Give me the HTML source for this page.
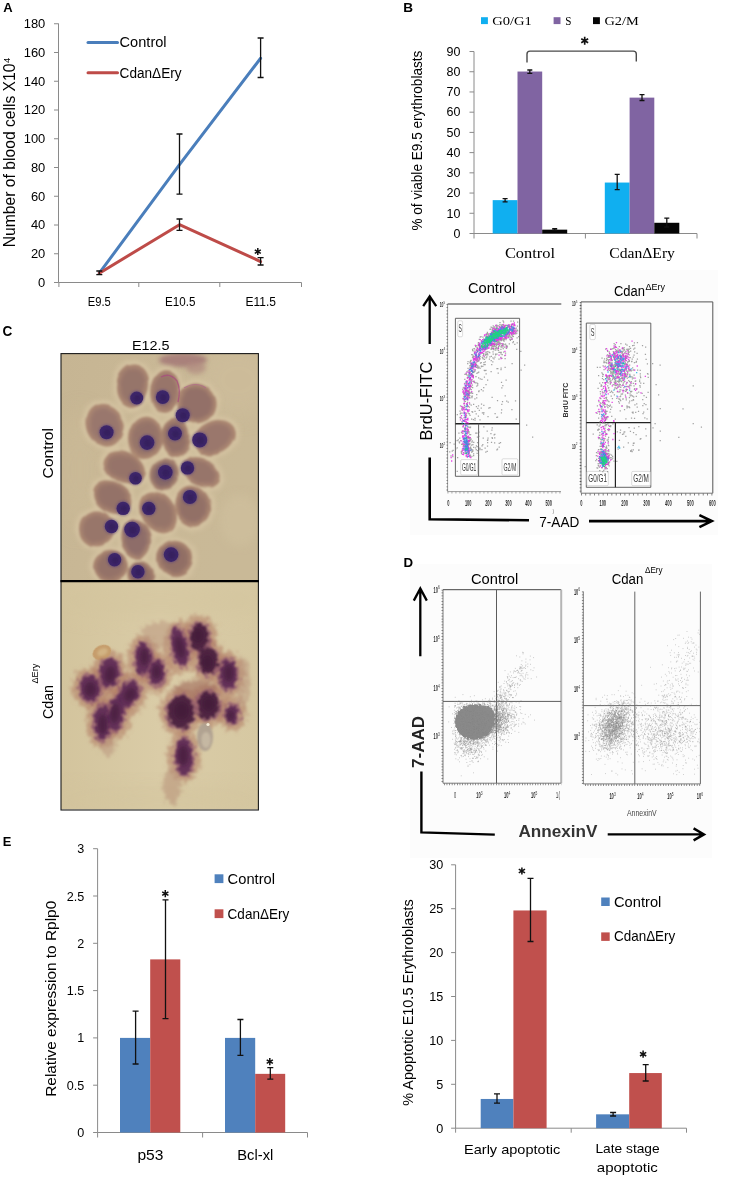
<!DOCTYPE html>
<html><head><meta charset="utf-8"><title>Figure</title>
<style>html,body{margin:0;padding:0;background:#fff}svg{display:block;will-change:transform}text{font-family:"Liberation Sans",sans-serif}.sf{font-family:"Liberation Serif",serif}</style>
</head><body>
<svg width="730" height="1181" viewBox="0 0 730 1181">
<rect x="0" y="0" width="730" height="1181" fill="#fff"/>
<g id="A">
<text x="3.2" y="12.4" font-size="13.4" font-weight="bold" textLength="9.4" lengthAdjust="spacingAndGlyphs">A</text>
<path d="M58.5 23.5V282.5H301.5" stroke="#8a8a8a" stroke-width="1" fill="none"/>
<text x="45.3" y="286.9" font-size="12.3" text-anchor="end" textLength="7.2" lengthAdjust="spacingAndGlyphs">0</text>
<text x="45.3" y="258.15" font-size="12.3" text-anchor="end" textLength="14.4" lengthAdjust="spacingAndGlyphs">20</text>
<text x="45.3" y="229.4" font-size="12.3" text-anchor="end" textLength="14.4" lengthAdjust="spacingAndGlyphs">40</text>
<text x="45.3" y="200.65" font-size="12.3" text-anchor="end" textLength="14.4" lengthAdjust="spacingAndGlyphs">60</text>
<text x="45.3" y="171.9" font-size="12.3" text-anchor="end" textLength="14.4" lengthAdjust="spacingAndGlyphs">80</text>
<text x="45.3" y="143.15" font-size="12.3" text-anchor="end" textLength="21.6" lengthAdjust="spacingAndGlyphs">100</text>
<text x="45.3" y="114.4" font-size="12.3" text-anchor="end" textLength="21.6" lengthAdjust="spacingAndGlyphs">120</text>
<text x="45.3" y="85.65" font-size="12.3" text-anchor="end" textLength="21.6" lengthAdjust="spacingAndGlyphs">140</text>
<text x="45.3" y="56.9" font-size="12.3" text-anchor="end" textLength="21.6" lengthAdjust="spacingAndGlyphs">160</text>
<text x="45.3" y="28.15" font-size="12.3" text-anchor="end" textLength="21.6" lengthAdjust="spacingAndGlyphs">180</text>
<path d="M54.0 282.50H58.5M54.0 253.75H58.5M54.0 225.00H58.5M54.0 196.25H58.5M54.0 167.50H58.5M54.0 138.75H58.5M54.0 110.00H58.5M54.0 81.25H58.5M54.0 52.50H58.5M54.0 23.75H58.5M58.9 282.5V287.0M138.8 282.5V287.0M219.8 282.5V287.0M301.5 282.5V287.0" stroke="#8a8a8a" stroke-width="1" fill="none"/>
<polyline points="99.3,273.16 179.5,164.62 260.6,58.25" fill="none" stroke="#4a7ebb" stroke-width="3" stroke-linejoin="round" stroke-linecap="round"/>
<polyline points="99.3,273.16 179.5,224.71 260.6,261.51" fill="none" stroke="#be4b48" stroke-width="3" stroke-linejoin="round" stroke-linecap="round"/>
<path d="M179.5 134V194.2M176.5 134H182.5M176.5 194.2H182.5" stroke="#111" stroke-width="1.3" fill="none"/>
<path d="M260.6 38V77.5M257.6 38H263.6M257.6 77.5H263.6" stroke="#111" stroke-width="1.3" fill="none"/>
<path d="M179.5 219V230.4M176.5 219H182.5M176.5 230.4H182.5" stroke="#111" stroke-width="1.3" fill="none"/>
<path d="M260.6 257.7V265M257.6 257.7H263.6M257.6 265H263.6" stroke="#111" stroke-width="1.3" fill="none"/>
<path d="M99.3 271V274.7M96.3 271H102.3M96.3 274.7H102.3" stroke="#111" stroke-width="1.3" fill="none"/>
<path d="M257.80 248.10L257.80 255.10M260.83 249.85L254.77 253.35M260.83 253.35L254.77 249.85" stroke="#111" stroke-width="1.5" fill="none" stroke-linecap="butt"/>
<line x1="88" y1="42.5" x2="117.5" y2="42.5" stroke="#4a7ebb" stroke-width="3" stroke-linecap="round"/>
<line x1="88" y1="72.7" x2="117.5" y2="72.7" stroke="#be4b48" stroke-width="3" stroke-linecap="round"/>
<text x="119.6" y="47.2" font-size="14" textLength="47" lengthAdjust="spacingAndGlyphs">Control</text>
<text x="119.6" y="77.6" font-size="14" textLength="62" lengthAdjust="spacingAndGlyphs">CdanΔEry</text>
<text x="87.8" y="305.8" font-size="13.2" textLength="23" lengthAdjust="spacingAndGlyphs">E9.5</text>
<text x="165" y="305.8" font-size="13.2" textLength="30.4" lengthAdjust="spacingAndGlyphs">E10.5</text>
<text x="245.5" y="305.8" font-size="13.2" textLength="30.5" lengthAdjust="spacingAndGlyphs">E11.5</text>
<text transform="translate(15.2 247.2) rotate(-90)" font-size="15.6" textLength="183.7" lengthAdjust="spacingAndGlyphs">Number of blood cells X10</text>
<text transform="translate(9.7 63) rotate(-90)" font-size="9.6" textLength="5.3" lengthAdjust="spacingAndGlyphs">4</text>
</g>
<g id="B">
<text x="403.2" y="12.4" font-size="13.4" font-weight="bold" textLength="9.8" lengthAdjust="spacingAndGlyphs">B</text>
<path d="M474 51.5V233.5H697" stroke="#8a8a8a" stroke-width="1" fill="none"/>
<text x="460.4" y="237.8" font-size="12.8" text-anchor="end" textLength="6.95" lengthAdjust="spacingAndGlyphs">0</text>
<text x="460.4" y="217.58" font-size="12.8" text-anchor="end" textLength="13.9" lengthAdjust="spacingAndGlyphs">10</text>
<text x="460.4" y="197.36" font-size="12.8" text-anchor="end" textLength="13.9" lengthAdjust="spacingAndGlyphs">20</text>
<text x="460.4" y="177.14" font-size="12.8" text-anchor="end" textLength="13.9" lengthAdjust="spacingAndGlyphs">30</text>
<text x="460.4" y="156.92" font-size="12.8" text-anchor="end" textLength="13.9" lengthAdjust="spacingAndGlyphs">40</text>
<text x="460.4" y="136.7" font-size="12.8" text-anchor="end" textLength="13.9" lengthAdjust="spacingAndGlyphs">50</text>
<text x="460.4" y="116.48" font-size="12.8" text-anchor="end" textLength="13.9" lengthAdjust="spacingAndGlyphs">60</text>
<text x="460.4" y="96.26" font-size="12.8" text-anchor="end" textLength="13.9" lengthAdjust="spacingAndGlyphs">70</text>
<text x="460.4" y="76.04" font-size="12.8" text-anchor="end" textLength="13.9" lengthAdjust="spacingAndGlyphs">80</text>
<text x="460.4" y="55.82" font-size="12.8" text-anchor="end" textLength="13.9" lengthAdjust="spacingAndGlyphs">90</text>
<path d="M469.5 233.50H474M469.5 213.28H474M469.5 193.06H474M469.5 172.84H474M469.5 152.62H474M469.5 132.40H474M469.5 112.18H474M469.5 91.96H474M469.5 71.74H474M469.5 51.52H474M474 233.5V238.5M585.4 233.5V238.5M697 233.5V238.5" stroke="#8a8a8a" stroke-width="1" fill="none"/>
<rect x="492.7" y="200.14" width="24.8" height="33.36" fill="#10aff0"/>
<rect x="517.5" y="71.54" width="24.7" height="161.96" fill="#8064a2"/>
<rect x="542.2" y="229.66" width="25.0" height="3.84" fill="#050505"/>
<rect x="604.8" y="182.55" width="24.8" height="50.95" fill="#10aff0"/>
<rect x="629.6" y="97.62" width="24.7" height="135.88" fill="#8064a2"/>
<rect x="654.3" y="222.78" width="25.0" height="10.72" fill="#050505"/>
<path d="M505.1 198.6V201.8M502.6 198.6H507.6M502.6 201.8H507.6" stroke="#111" stroke-width="1.3" fill="none"/>
<path d="M529.8 70.0V73.4M527.3 70.0H532.3M527.3 73.4H532.3" stroke="#111" stroke-width="1.3" fill="none"/>
<path d="M554.7 228.6V230.2M552.2 228.6H557.2M552.2 230.2H557.2" stroke="#111" stroke-width="1.3" fill="none"/>
<path d="M617.2 174.4V189.7M614.7 174.4H619.7M614.7 189.7H619.7" stroke="#111" stroke-width="1.3" fill="none"/>
<path d="M642 94.6V100.5M639.5 94.6H644.5M639.5 100.5H644.5" stroke="#111" stroke-width="1.3" fill="none"/>
<path d="M666.8 218.2V227.0M664.3 218.2H669.3M664.3 227.0H669.3" stroke="#111" stroke-width="1.3" fill="none"/>
<path d="M527 62.5V54Q527 51.1 530 51.1H633.3Q636.3 51.1 636.3 54V61.6" stroke="#4a4a4a" stroke-width="1.4" fill="none"/>
<path d="M584.70 36.80L584.70 44.80M588.16 38.80L581.24 42.80M588.16 42.80L581.24 38.80" stroke="#111" stroke-width="1.65" fill="none" stroke-linecap="butt"/>
<rect x="481" y="17.2" width="6.9" height="6.9" fill="#10aff0"/>
<rect x="553.6" y="17.2" width="6.9" height="6.9" fill="#8064a2"/>
<rect x="593" y="17.2" width="6.9" height="6.9" fill="#050505"/>
<text x="492.2" y="24.8" font-size="12.6" class="sf" textLength="39.7" lengthAdjust="spacingAndGlyphs">G0/G1</text>
<text x="565.3" y="24.8" font-size="12.6" class="sf" textLength="6.2" lengthAdjust="spacingAndGlyphs">S</text>
<text x="604.5" y="24.8" font-size="12.6" class="sf" textLength="34.3" lengthAdjust="spacingAndGlyphs">G2/M</text>
<text x="504.9" y="257.6" font-size="15.4" class="sf" textLength="50.2" lengthAdjust="spacingAndGlyphs">Control</text>
<text x="609.3" y="257.6" font-size="15.4" class="sf" textLength="65.6" lengthAdjust="spacingAndGlyphs">CdanΔEry</text>
<text transform="translate(422.3 230.6) rotate(-90)" font-size="14.2" textLength="180" lengthAdjust="spacingAndGlyphs">% of viable E9.5 erythroblasts</text>
</g>
<g id="E">
<text x="2.8" y="845.7" font-size="13.4" font-weight="bold" textLength="8.6" lengthAdjust="spacingAndGlyphs">E</text>
<path d="M97.6 848.7V1132.5H307.5" stroke="#8a8a8a" stroke-width="1" fill="none"/>
<text x="84.3" y="1137.0" font-size="12.6" text-anchor="end">0</text>
<text x="84.3" y="1089.7" font-size="12.6" text-anchor="end">0.5</text>
<text x="84.3" y="1042.4" font-size="12.6" text-anchor="end">1</text>
<text x="84.3" y="995.1" font-size="12.6" text-anchor="end">1.5</text>
<text x="84.3" y="947.8" font-size="12.6" text-anchor="end">2</text>
<text x="84.3" y="900.5" font-size="12.6" text-anchor="end">2.5</text>
<text x="84.3" y="853.2" font-size="12.6" text-anchor="end">3</text>
<path d="M93.1 1132.50H97.6M93.1 1085.20H97.6M93.1 1037.90H97.6M93.1 990.60H97.6M93.1 943.30H97.6M93.1 896.00H97.6M93.1 848.70H97.6M97.6 1132.5V1137.5M202.6 1132.5V1137.5M307.5 1132.5V1137.5" stroke="#8a8a8a" stroke-width="1" fill="none"/>
<rect x="120" y="1037.9" width="30.2" height="94.6" fill="#4f81bd"/>
<rect x="150.2" y="959.38" width="30.1" height="173.12" fill="#c0504d"/>
<rect x="225" y="1037.9" width="30.2" height="94.6" fill="#4f81bd"/>
<rect x="255.2" y="1073.85" width="30.0" height="58.65" fill="#c0504d"/>
<path d="M135.6 1011.2V1064M132.6 1011.2H138.6M132.6 1064H138.6" stroke="#111" stroke-width="1.3" fill="none"/>
<path d="M165.5 899.8V1018.7M162.5 899.8H168.5M162.5 1018.7H168.5" stroke="#111" stroke-width="1.3" fill="none"/>
<path d="M240.4 1019.5V1055.4M237.4 1019.5H243.4M237.4 1055.4H243.4" stroke="#111" stroke-width="1.3" fill="none"/>
<path d="M270.3 1067.7V1079.1M267.3 1067.7H273.3M267.3 1079.1H273.3" stroke="#111" stroke-width="1.3" fill="none"/>
<path d="M165.30 890.00L165.30 897.20M168.42 891.80L162.18 895.40M168.42 895.40L162.18 891.80" stroke="#111" stroke-width="1.5" fill="none" stroke-linecap="butt"/>
<path d="M269.80 1058.00L269.80 1065.20M272.92 1059.80L266.68 1063.40M272.92 1063.40L266.68 1059.80" stroke="#111" stroke-width="1.5" fill="none" stroke-linecap="butt"/>
<rect x="214.6" y="874.3" width="8.8" height="8.8" fill="#4f81bd"/>
<rect x="214.6" y="909.3" width="8.8" height="8.8" fill="#c0504d"/>
<text x="227.6" y="883.5" font-size="14.3" textLength="47.4" lengthAdjust="spacingAndGlyphs">Control</text>
<text x="227.6" y="918.5" font-size="14.3" textLength="61.7" lengthAdjust="spacingAndGlyphs">CdanΔEry</text>
<text x="137.4" y="1160.1" font-size="13.8" textLength="26" lengthAdjust="spacingAndGlyphs">p53</text>
<text x="237.3" y="1159.5" font-size="13.8" textLength="36" lengthAdjust="spacingAndGlyphs">Bcl-xl</text>
<text transform="translate(56 1096.8) rotate(-90)" font-size="15" textLength="196" lengthAdjust="spacingAndGlyphs">Relative expression to Rplp0</text>
</g>
<g id="Dc">
<path d="M455.6 864.8V1128.2H686.5" stroke="#8a8a8a" stroke-width="1" fill="none"/>
<text x="443.2" y="1132.6" font-size="12.6" text-anchor="end">0</text>
<text x="443.2" y="1088.7" font-size="12.6" text-anchor="end">5</text>
<text x="443.2" y="1044.8" font-size="12.6" text-anchor="end">10</text>
<text x="443.2" y="1000.9" font-size="12.6" text-anchor="end">15</text>
<text x="443.2" y="957.0" font-size="12.6" text-anchor="end">20</text>
<text x="443.2" y="913.1" font-size="12.6" text-anchor="end">25</text>
<text x="443.2" y="869.2" font-size="12.6" text-anchor="end">30</text>
<path d="M451.1 1128.20H455.6M451.1 1084.30H455.6M451.1 1040.40H455.6M451.1 996.50H455.6M451.1 952.60H455.6M451.1 908.70H455.6M451.1 864.80H455.6M455.6 1128.2V1132.7M571.2 1128.2V1132.7M686.5 1128.2V1132.7" stroke="#8a8a8a" stroke-width="1" fill="none"/>
<rect x="480.7" y="1098.96" width="32.7" height="29.24" fill="#4f81bd"/>
<rect x="513.4" y="910.46" width="33.2" height="217.74" fill="#c0504d"/>
<rect x="596.1" y="1114.33" width="33.1" height="13.87" fill="#4f81bd"/>
<rect x="629.2" y="1073.06" width="32.6" height="55.14" fill="#c0504d"/>
<path d="M497 1093.8V1103.2M494 1093.8H500M494 1103.2H500" stroke="#111" stroke-width="1.3" fill="none"/>
<path d="M530.5 878.4V941.5M527.5 878.4H533.5M527.5 941.5H533.5" stroke="#111" stroke-width="1.3" fill="none"/>
<path d="M613.1 1112.5V1116M610.1 1112.5H616.1M610.1 1116H616.1" stroke="#111" stroke-width="1.3" fill="none"/>
<path d="M645.7 1064.7V1081M642.7 1064.7H648.7M642.7 1081H648.7" stroke="#111" stroke-width="1.3" fill="none"/>
<path d="M521.90 867.40L521.90 874.60M525.02 869.20L518.78 872.80M525.02 872.80L518.78 869.20" stroke="#111" stroke-width="1.5" fill="none" stroke-linecap="butt"/>
<path d="M643.10 1050.60L643.10 1057.80M646.22 1052.40L639.98 1056.00M646.22 1056.00L639.98 1052.40" stroke="#111" stroke-width="1.5" fill="none" stroke-linecap="butt"/>
<rect x="601.2" y="897.5" width="8.5" height="8.5" fill="#4f81bd"/>
<rect x="601.2" y="932.4" width="8.5" height="8.5" fill="#c0504d"/>
<text x="614" y="906.5" font-size="14.3" textLength="47.3" lengthAdjust="spacingAndGlyphs">Control</text>
<text x="614" y="940.5" font-size="14.3" textLength="61.3" lengthAdjust="spacingAndGlyphs">CdanΔEry</text>
<text x="464" y="1153.5" font-size="13.6" textLength="96.2" lengthAdjust="spacingAndGlyphs">Early apoptotic</text>
<text x="595.4" y="1153.3" font-size="13.6" textLength="64.3" lengthAdjust="spacingAndGlyphs">Late stage</text>
<text x="596.8" y="1172.4" font-size="13.6" textLength="61" lengthAdjust="spacingAndGlyphs">apoptotic</text>
<text transform="translate(413 1105.7) rotate(-90)" font-size="14.6" textLength="206.5" lengthAdjust="spacingAndGlyphs">% Apoptotic E10.5 Erythroblasts</text>
</g>
<g id="Bf">
<rect x="410" y="270" width="308" height="265" fill="#fcfcfc"/>
<text x="468" y="292.8" font-size="14" textLength="47.2" lengthAdjust="spacingAndGlyphs">Control</text>
<text x="614" y="296.1" font-size="14" textLength="31" lengthAdjust="spacingAndGlyphs">Cdan</text>
<text x="645.4" y="289.8" font-size="8.8" textLength="19.6" lengthAdjust="spacingAndGlyphs">ΔEry</text>
<text transform="translate(431.6 440.6) rotate(-90)" font-size="16.2" textLength="79" lengthAdjust="spacingAndGlyphs">BrdU-FITC</text>
<path d="M429.7 344V297.2M423.2 306.2L429.7 296.4L436.2 306.2" stroke="#000" stroke-width="2.3" fill="none"/>
<path d="M429.7 457.4V519.2L529 520.3" stroke="#000" stroke-width="2.6" fill="none" stroke-linejoin="miter"/>
<text x="539.3" y="526.8" font-size="14" textLength="40" lengthAdjust="spacingAndGlyphs">7-AAD</text>
<path d="M589 521.1H711M699.4 515.1L711.8 521.1L699.4 527.1" stroke="#000" stroke-width="2.6" fill="none"/>
<text x="552.5" y="513" font-size="5" fill="#777">)</text>
<path d="M447.6 304H561.3" stroke="#333" stroke-width="1" fill="none"/>
<path d="M447.6 304V491.6H561" stroke="#9a9a9a" stroke-width="1" fill="none"/>
<path d="M447.2 304V491.6" stroke="#666" stroke-width="1.4" stroke-dasharray="0.8 2.4" fill="none"/>
<path d="M447.6 492.6H561" stroke="#888" stroke-width="2" stroke-dasharray="0.7 3.3" fill="none"/>
<text x="439.7" y="307" font-size="8" font-weight="bold" fill="#333" textLength="3.8" lengthAdjust="spacingAndGlyphs">10</text>
<text x="443.6" y="303.6" font-size="4.4" fill="#333" textLength="1.7" lengthAdjust="spacingAndGlyphs">5</text>
<text x="439.7" y="353.8" font-size="8" font-weight="bold" fill="#333" textLength="3.8" lengthAdjust="spacingAndGlyphs">10</text>
<text x="443.6" y="350.4" font-size="4.4" fill="#333" textLength="1.7" lengthAdjust="spacingAndGlyphs">4</text>
<text x="439.7" y="401" font-size="8" font-weight="bold" fill="#333" textLength="3.8" lengthAdjust="spacingAndGlyphs">10</text>
<text x="443.6" y="397.6" font-size="4.4" fill="#333" textLength="1.7" lengthAdjust="spacingAndGlyphs">3</text>
<text x="439.7" y="448" font-size="8" font-weight="bold" fill="#333" textLength="3.8" lengthAdjust="spacingAndGlyphs">10</text>
<text x="443.6" y="444.6" font-size="4.4" fill="#333" textLength="1.7" lengthAdjust="spacingAndGlyphs">2</text>
<text x="447.2" y="505.6" font-size="9.2" font-weight="bold" fill="#333" textLength="2.2" lengthAdjust="spacingAndGlyphs">0</text>
<text x="464.9" y="505.6" font-size="9.2" font-weight="bold" fill="#333" textLength="6.5" lengthAdjust="spacingAndGlyphs">100</text>
<text x="485.2" y="505.6" font-size="9.2" font-weight="bold" fill="#333" textLength="6.5" lengthAdjust="spacingAndGlyphs">200</text>
<text x="505.2" y="505.6" font-size="9.2" font-weight="bold" fill="#333" textLength="6.5" lengthAdjust="spacingAndGlyphs">300</text>
<text x="525.2" y="505.6" font-size="9.2" font-weight="bold" fill="#333" textLength="6.5" lengthAdjust="spacingAndGlyphs">400</text>
<text x="545.4" y="505.6" font-size="9.2" font-weight="bold" fill="#333" textLength="6.5" lengthAdjust="spacingAndGlyphs">500</text>
<path d="M455.4 318.3H519.6V476.3H455.4Z" stroke="#555" stroke-width="0.9" fill="none"/>
<path d="M455.4 423.7H519.6" stroke="#222" stroke-width="1.4" fill="none"/>
<path d="M478.6 423.7V476.3" stroke="#555" stroke-width="0.9" fill="none"/>
<rect x="457.8" y="320.8" width="4.8" height="16" rx="1.4" fill="#fff" stroke="#c4c4c4" stroke-width="0.6"/>
<text x="458.6" y="332.4" font-size="10.8" fill="#383838" textLength="3.3" lengthAdjust="spacingAndGlyphs">S</text>
<rect x="460.7" y="459.6" width="16.8" height="15.4" rx="1.2" fill="#fff" stroke="#c4c4c4" stroke-width="0.6"/>
<text x="461.9" y="471.2" font-size="10.8" fill="#383838" textLength="14.4" lengthAdjust="spacingAndGlyphs">G0/G1</text>
<rect x="502" y="458.8" width="15.8" height="16.2" rx="1.2" fill="#fff" stroke="#c4c4c4" stroke-width="0.6"/>
<text x="503.5" y="470.8" font-size="10.8" fill="#383838" textLength="12.8" lengthAdjust="spacingAndGlyphs">G2/M</text>
<path d="M472.1 451.4h1.25M469.1 404.2h1.25M492.6 343.5h1.25M468.4 427.1h1.25M459.8 405.8h1.25M471.8 385.2h1.25M465.7 453.3h1.25M467.3 429.4h1.25M468.2 433.0h1.25M473.8 358.8h1.25M510.4 321.0h1.25M470.5 374.8h1.25M508.7 343.8h1.25M498.3 329.2h1.25M472.6 376.2h1.25M468.5 393.8h1.25M471.3 442.1h1.25M506.0 335.0h1.25M500.7 325.4h1.25M487.6 342.3h1.25M511.3 327.0h1.25M463.6 399.3h1.25M503.1 338.7h1.25M470.9 386.9h1.25M467.6 393.3h1.25M474.4 411.4h1.25M502.9 340.7h1.25M476.3 433.2h1.25M462.9 393.1h1.25M467.7 393.6h1.25M516.6 342.9h1.25M516.2 333.2h1.25M461.6 444.0h1.25M475.7 360.1h1.25M473.0 453.8h1.25M467.4 371.2h1.25M472.3 363.4h1.25M520.2 351.4h1.25M477.3 367.1h1.25M496.0 338.7h1.25M501.9 331.0h1.25M512.8 341.6h1.25M495.6 326.2h1.25M475.6 449.6h1.25M507.4 334.9h1.25M466.6 456.7h1.25M502.0 328.2h1.25M494.3 329.5h1.25M510.9 333.4h1.25M468.8 377.8h1.25M502.3 335.5h1.25M471.9 349.4h1.25M492.3 346.3h1.25M495.5 327.0h1.25M470.0 385.9h1.25M488.2 351.9h1.25M467.2 391.4h1.25M516.5 337.9h1.25M469.4 440.4h1.25M510.2 330.1h1.25M474.4 418.3h1.25M469.2 434.6h1.25M487.5 338.4h1.25M476.5 453.3h1.25M469.9 365.3h1.25M497.4 330.2h1.25M462.1 389.3h1.25M479.5 337.1h1.25M472.9 366.9h1.25M480.6 362.5h1.25M509.3 335.1h1.25M501.5 331.7h1.25M468.4 440.4h1.25M466.2 371.8h1.25M478.6 355.3h1.25M470.6 392.7h1.25M509.3 332.7h1.25M507.3 334.6h1.25M476.1 358.2h1.25M493.1 349.7h1.25M480.4 336.6h1.25M503.1 327.4h1.25M467.8 437.7h1.25M460.6 451.8h1.25M473.3 356.5h1.25M493.8 331.2h1.25M486.2 353.1h1.25M500.2 339.9h1.25M465.4 413.2h1.25M469.4 362.0h1.25M465.9 447.4h1.25M467.4 385.0h1.25M490.9 345.7h1.25M501.4 339.6h1.25M485.4 341.2h1.25M464.9 430.1h1.25M501.8 336.4h1.25M470.2 360.9h1.25M513.4 330.7h1.25M467.9 391.7h1.25M474.7 382.8h1.25M467.2 409.9h1.25M492.8 346.6h1.25M506.7 333.0h1.25M496.6 329.9h1.25M493.5 345.6h1.25M467.0 378.1h1.25M465.1 426.1h1.25M458.9 442.9h1.25M504.8 335.4h1.25M511.9 332.5h1.25M473.1 442.4h1.25M469.6 450.5h1.25M487.4 336.2h1.25M509.5 336.8h1.25M465.5 442.1h1.25M475.4 376.5h1.25M510.4 326.3h1.25M479.4 368.3h1.25M501.9 336.7h1.25M466.0 438.1h1.25M495.7 330.9h1.25M472.0 393.4h1.25M459.4 417.6h1.25M494.7 340.9h1.25M504.9 330.8h1.25M493.3 327.3h1.25M512.3 342.7h1.25M500.4 338.1h1.25M461.8 408.1h1.25M465.0 433.9h1.25M489.1 344.7h1.25M491.2 333.8h1.25M498.1 333.0h1.25M515.7 330.2h1.25M489.7 345.2h1.25M499.7 334.9h1.25M461.1 451.4h1.25M476.2 345.5h1.25M496.4 337.2h1.25M492.0 345.8h1.25M470.0 447.8h1.25M493.7 331.2h1.25M486.9 336.5h1.25M475.8 445.9h1.25M463.4 391.0h1.25M499.6 352.3h1.25M469.5 384.0h1.25M510.1 337.1h1.25M492.9 344.0h1.25M488.3 335.7h1.25M470.0 447.1h1.25M497.9 346.5h1.25M514.2 344.3h1.25M490.8 344.6h1.25M500.7 340.6h1.25M500.8 336.4h1.25M466.5 396.8h1.25M510.4 332.6h1.25M476.6 357.1h1.25M514.1 331.1h1.25M486.6 451.3h1.25M492.1 336.7h1.25M469.9 427.0h1.25M465.9 415.7h1.25M467.4 412.9h1.25M465.0 446.3h1.25M477.2 365.8h1.25M460.6 418.4h1.25M482.5 347.5h1.25M461.4 413.1h1.25M462.7 439.0h1.25M461.4 421.7h1.25M498.3 352.3h1.25M464.3 374.3h1.25M493.3 332.2h1.25M513.1 334.4h1.25M495.6 330.5h1.25M478.7 357.4h1.25M495.6 332.0h1.25M497.0 338.6h1.25M491.6 340.4h1.25M489.9 329.2h1.25M498.4 359.0h1.25M499.4 332.4h1.25M469.6 440.4h1.25M493.4 336.5h1.25M473.9 348.8h1.25M465.0 374.0h1.25M486.5 347.0h1.25M508.3 332.7h1.25M473.5 371.1h1.25M469.5 427.6h1.25M493.7 345.0h1.25M489.8 339.9h1.25M470.2 371.5h1.25M476.8 450.6h1.25M477.7 356.1h1.25M495.7 344.4h1.25M492.4 334.6h1.25M469.1 441.6h1.25M491.9 329.1h1.25M493.3 340.5h1.25M463.3 396.6h1.25M476.5 347.4h1.25M464.1 446.6h1.25M467.7 453.9h1.25M461.8 407.2h1.25M479.6 358.9h1.25M503.5 341.2h1.25M461.9 410.2h1.25M464.7 449.8h1.25M480.8 341.2h1.25M470.5 366.3h1.25M493.8 330.8h1.25M472.8 375.6h1.25M486.8 333.6h1.25M463.9 405.4h1.25M485.1 354.7h1.25M464.4 383.3h1.25M497.0 325.8h1.25M500.5 334.4h1.25M473.0 356.1h1.25M469.8 369.0h1.25M503.6 339.6h1.25M504.0 336.3h1.25M502.4 335.4h1.25M468.0 396.2h1.25M484.8 354.1h1.25M465.1 391.2h1.25M471.9 374.4h1.25M477.9 405.8h1.25M499.4 343.8h1.25M508.5 326.6h1.25M469.3 443.7h1.25M480.8 366.2h1.25M511.1 325.4h1.25M472.0 387.7h1.25M502.0 345.2h1.25M468.3 432.9h1.25M477.9 455.4h1.25M496.1 325.1h1.25M478.8 345.2h1.25M512.5 324.0h1.25M510.8 327.8h1.25M496.0 328.4h1.25M512.3 328.7h1.25M502.9 339.6h1.25M469.4 415.4h1.25M492.9 330.9h1.25M508.6 335.4h1.25M511.7 339.2h1.25M517.1 330.9h1.25M471.9 375.1h1.25M478.2 436.4h1.25M495.1 341.1h1.25M466.2 394.2h1.25M490.9 337.8h1.25M508.7 336.8h1.25M471.3 397.5h1.25M501.8 331.8h1.25M468.3 431.5h1.25M514.0 331.5h1.25M500.1 332.9h1.25M475.8 406.5h1.25M481.5 353.3h1.25M469.4 393.4h1.25M477.7 344.1h1.25M460.8 432.7h1.25M489.8 345.3h1.25M499.2 343.1h1.25M496.9 344.7h1.25M471.7 396.1h1.25M476.1 362.0h1.25M508.8 334.3h1.25M497.6 342.9h1.25M511.0 331.3h1.25M482.3 337.1h1.25M474.6 370.9h1.25M480.0 350.2h1.25M465.9 409.4h1.25M513.0 331.7h1.25M483.0 353.5h1.25M475.3 376.7h1.25M491.7 344.3h1.25M500.6 352.3h1.25M472.4 356.3h1.25M498.0 338.7h1.25M491.9 336.5h1.25M476.3 373.3h1.25M478.7 355.1h1.25M466.7 404.7h1.25M499.8 343.2h1.25M484.2 370.5h1.25M472.3 444.7h1.25M477.2 360.1h1.25M497.5 336.9h1.25M487.8 344.7h1.25M458.3 433.1h1.25M468.8 392.9h1.25M474.6 366.6h1.25M471.6 365.3h1.25M512.9 321.0h1.25M475.9 355.4h1.25M487.0 341.7h1.25M501.7 324.6h1.25M501.2 326.9h1.25M483.3 364.5h1.25M491.7 330.4h1.25M486.2 348.1h1.25M493.5 335.4h1.25M464.9 442.5h1.25M473.5 351.1h1.25M482.6 438.0h1.25M466.6 392.1h1.25M483.7 370.4h1.25M486.3 347.6h1.25M465.4 423.3h1.25M483.2 338.8h1.25M471.0 452.1h1.25M467.4 375.9h1.25M461.0 444.4h1.25M467.4 361.5h1.25M482.6 358.9h1.25M471.1 354.7h1.25M489.6 345.3h1.25M460.2 440.7h1.25M499.7 338.4h1.25M488.8 340.6h1.25M461.9 444.4h1.25M512.1 330.3h1.25M478.0 360.0h1.25M492.3 357.9h1.25M503.7 332.6h1.25M471.0 367.7h1.25M485.6 342.7h1.25M499.7 327.7h1.25M486.6 337.3h1.25M505.8 325.4h1.25M467.0 431.9h1.25M505.7 348.4h1.25M477.1 361.3h1.25M504.9 353.0h1.25M466.5 393.8h1.25M505.9 331.4h1.25M474.9 447.8h1.25M501.8 338.8h1.25M497.8 342.7h1.25M496.4 349.9h1.25M471.9 357.3h1.25M472.3 450.2h1.25M467.9 442.1h1.25M473.0 455.7h1.25M473.3 369.6h1.25M479.6 352.4h1.25M480.8 366.7h1.25M500.3 346.8h1.25M489.0 339.4h1.25M495.6 348.3h1.25M474.0 382.3h1.25M485.5 347.6h1.25M470.0 434.7h1.25M482.2 345.3h1.25M468.5 389.9h1.25M495.7 330.3h1.25M508.7 325.4h1.25M491.4 335.6h1.25M464.8 401.3h1.25M495.7 331.5h1.25M502.6 336.1h1.25M481.3 349.4h1.25M470.2 380.8h1.25M494.9 332.6h1.25M469.0 443.9h1.25M503.8 326.4h1.25M467.4 368.3h1.25M509.8 340.4h1.25M487.9 343.2h1.25M494.9 354.2h1.25M494.9 328.9h1.25M506.5 332.5h1.25M481.8 349.3h1.25M495.8 345.6h1.25M494.3 339.7h1.25M500.1 339.6h1.25M516.7 330.1h1.25M489.0 343.2h1.25M498.3 330.9h1.25M490.9 335.2h1.25M512.8 329.7h1.25M462.4 398.8h1.25M501.3 340.2h1.25M502.8 335.3h1.25M506.8 346.9h1.25M492.1 348.5h1.25M497.6 347.7h1.25M466.1 383.4h1.25M493.1 349.3h1.25M501.5 329.7h1.25M511.6 329.0h1.25M463.9 445.0h1.25M479.0 344.9h1.25M491.7 346.1h1.25M469.4 362.9h1.25M465.3 417.3h1.25M468.8 413.9h1.25M471.4 379.7h1.25M470.7 374.3h1.25M467.9 440.7h1.25M478.6 358.5h1.25M510.5 333.0h1.25M508.7 331.6h1.25M498.5 335.1h1.25M507.3 327.2h1.25M506.5 325.4h1.25M468.9 371.9h1.25M496.1 334.9h1.25M482.5 341.9h1.25M483.8 341.3h1.25M488.8 359.0h1.25M493.2 339.1h1.25M475.0 365.7h1.25M493.8 326.8h1.25M471.0 419.1h1.25M487.4 333.6h1.25M485.8 334.2h1.25M504.0 347.2h1.25M467.4 447.8h1.25M504.1 325.7h1.25M465.3 415.1h1.25M495.1 343.8h1.25M466.9 446.8h1.25M466.1 403.9h1.25M491.9 346.2h1.25M469.9 448.1h1.25M494.5 344.0h1.25M475.0 346.5h1.25M469.8 361.3h1.25M467.6 406.2h1.25M463.6 445.9h1.25M491.2 336.9h1.25M468.5 453.2h1.25M485.5 357.8h1.25M486.6 431.0h1.25M464.2 430.5h1.25M501.6 354.7h1.25M500.9 345.7h1.25M484.9 349.4h1.25M500.3 349.3h1.25M509.1 339.0h1.25M467.5 390.5h1.25M489.8 342.6h1.25M479.3 449.6h1.25M471.3 449.5h1.25M495.2 346.8h1.25M502.5 346.9h1.25M468.6 424.0h1.25M470.6 405.1h1.25M476.8 359.2h1.25M498.1 325.9h1.25M496.4 340.6h1.25M464.1 453.2h1.25M509.7 329.1h1.25M476.3 365.5h1.25M470.7 382.2h1.25M478.5 367.2h1.25M490.4 334.8h1.25M470.5 383.0h1.25M500.2 357.3h1.25M496.2 332.6h1.25M464.2 388.8h1.25M512.5 332.8h1.25M463.5 417.5h1.25M512.2 324.2h1.25M483.8 377.1h1.25M486.8 332.4h1.25M485.4 335.7h1.25M486.6 333.3h1.25M504.6 336.5h1.25M510.9 337.3h1.25M486.3 349.1h1.25M463.9 407.7h1.25M469.4 397.8h1.25M472.8 366.1h1.25M497.2 348.3h1.25M491.4 344.8h1.25M465.8 390.9h1.25M514.2 328.5h1.25M491.6 333.2h1.25M491.4 345.9h1.25M497.6 331.1h1.25M470.3 392.3h1.25M477.4 372.7h1.25M511.5 334.6h1.25M464.4 446.1h1.25M489.7 334.9h1.25M477.8 342.5h1.25M466.1 390.8h1.25M468.5 390.6h1.25M476.8 437.0h1.25M469.2 395.5h1.25M494.6 342.2h1.25M499.1 344.2h1.25M462.4 426.9h1.25M497.6 339.0h1.25M515.7 328.0h1.25M467.6 395.7h1.25M476.6 446.5h1.25M467.2 399.8h1.25M474.2 366.6h1.25M491.4 343.9h1.25M498.9 335.4h1.25M466.2 374.9h1.25M503.4 344.7h1.25M469.8 448.3h1.25M486.5 347.6h1.25M490.8 356.3h1.25M467.6 456.3h1.25M491.6 338.5h1.25M486.2 356.9h1.25M468.2 438.4h1.25M485.5 373.8h1.25M469.2 384.9h1.25M500.9 325.1h1.25M503.0 322.0h1.25M501.8 336.2h1.25M481.3 449.5h1.25M471.3 451.8h1.25M493.4 343.0h1.25M490.5 345.3h1.25M469.3 450.7h1.25M459.4 411.0h1.25M474.4 420.1h1.25M496.5 341.9h1.25M463.7 439.3h1.25M463.4 453.0h1.25M464.1 434.4h1.25M463.7 401.1h1.25M485.1 352.1h1.25M489.7 343.3h1.25M456.7 414.7h1.25M467.9 377.3h1.25M474.3 398.9h1.25M472.8 377.2h1.25M491.8 348.8h1.25M490.5 327.2h1.25M460.9 453.2h1.25M476.1 397.8h1.25M496.4 342.7h1.25M471.6 440.8h1.25M467.8 451.3h1.25M499.5 344.2h1.25M511.6 330.7h1.25M512.2 336.5h1.25M496.8 342.4h1.25M499.4 331.6h1.25M492.4 343.3h1.25M504.7 328.3h1.25M506.0 348.0h1.25M477.1 385.1h1.25M465.2 416.2h1.25M471.2 396.3h1.25M499.4 322.5h1.25M477.4 368.4h1.25M509.0 330.8h1.25M499.7 338.3h1.25M496.3 343.3h1.25M500.7 339.5h1.25M505.4 327.9h1.25M483.0 354.5h1.25M497.8 341.1h1.25M472.2 375.8h1.25M504.5 336.9h1.25M492.0 332.1h1.25M505.0 338.6h1.25M463.6 387.3h1.25M463.5 446.6h1.25M457.7 439.9h1.25M493.5 341.1h1.25M467.7 446.7h1.25M486.5 334.6h1.25M466.4 451.2h1.25M516.1 349.4h1.25M470.8 445.0h1.25M496.8 340.8h1.25M498.6 341.8h1.25M483.8 356.8h1.25M482.6 355.5h1.25M463.5 396.0h1.25M486.9 353.9h1.25M501.5 343.9h1.25M474.7 363.0h1.25M470.2 360.6h1.25M497.2 338.2h1.25M460.0 413.1h1.25M495.2 338.8h1.25M469.0 444.6h1.25M463.2 394.4h1.25M458.6 441.8h1.25M466.5 395.6h1.25M472.0 350.6h1.25M503.8 339.4h1.25M464.6 396.4h1.25M482.7 348.8h1.25M464.7 419.3h1.25M475.4 433.2h1.25M478.0 345.1h1.25M493.7 337.5h1.25M490.7 348.2h1.25M493.8 330.7h1.25M465.5 390.8h1.25M482.2 358.2h1.25M479.5 356.7h1.25M497.0 344.4h1.25M500.3 340.5h1.25M507.4 330.8h1.25M469.7 388.8h1.25M489.4 329.3h1.25M472.5 357.8h1.25M485.3 370.3h1.25M496.9 342.1h1.25M472.8 419.5h1.25M508.7 328.2h1.25M468.6 451.7h1.25M469.3 439.0h1.25M476.0 367.4h1.25M459.2 438.1h1.25M471.2 393.2h1.25M497.8 348.2h1.25M494.5 330.6h1.25M491.3 347.4h1.25M505.8 346.4h1.25M511.1 333.1h1.25M473.4 356.6h1.25M511.6 335.4h1.25M475.1 433.0h1.25M498.2 340.3h1.25M478.1 361.1h1.25M466.2 390.2h1.25M472.3 381.3h1.25M488.0 334.9h1.25M494.7 348.7h1.25M483.5 349.8h1.25M463.9 392.8h1.25M505.1 337.5h1.25M492.2 361.8h1.25M485.8 337.4h1.25M498.9 345.6h1.25M495.8 347.6h1.25M464.5 442.0h1.25M469.7 455.2h1.25M504.8 337.9h1.25M471.5 364.0h1.25M491.1 333.7h1.25M470.6 448.9h1.25M502.9 343.8h1.25M508.0 332.3h1.25M475.0 363.8h1.25M484.5 364.6h1.25M463.6 444.0h1.25M512.6 323.9h1.25M476.9 442.5h1.25M474.0 362.1h1.25M469.2 437.9h1.25M506.9 334.6h1.25M469.7 369.1h1.25M467.4 446.0h1.25M466.1 395.5h1.25M506.4 345.8h1.25M489.1 352.7h1.25M518.0 336.6h1.25M491.6 334.2h1.25M476.8 348.8h1.25M478.7 339.4h1.25M483.3 362.5h1.25M461.1 408.8h1.25M499.3 336.2h1.25M484.9 344.4h1.25M490.4 345.4h1.25M495.7 341.2h1.25M500.7 335.9h1.25M512.9 325.9h1.25M462.2 431.1h1.25M478.7 346.7h1.25M470.7 389.6h1.25M514.0 331.1h1.25M495.5 330.1h1.25M492.2 337.6h1.25M503.8 327.3h1.25M471.3 456.4h1.25M516.8 326.2h1.25M465.6 382.4h1.25M502.7 333.6h1.25M473.7 353.0h1.25M498.7 343.0h1.25M499.3 324.6h1.25M467.0 430.8h1.25M467.5 431.3h1.25M489.2 336.7h1.25M475.7 360.3h1.25M465.8 374.1h1.25M488.7 343.8h1.25M489.9 339.5h1.25M465.4 425.5h1.25M483.3 346.0h1.25M505.5 345.3h1.25M502.6 325.7h1.25M478.0 377.8h1.25M492.9 348.7h1.25M512.9 327.5h1.25M504.5 358.7h1.25M482.2 366.4h1.25M459.6 417.4h1.25M469.5 367.7h1.25M497.9 350.3h1.25M493.5 328.3h1.25M512.3 331.4h1.25M498.2 338.8h1.25M469.7 374.8h1.25M466.0 450.6h1.25M462.3 430.6h1.25M495.2 340.9h1.25M487.1 354.9h1.25M479.6 356.5h1.25M486.7 345.8h1.25M496.3 354.0h1.25M478.1 344.8h1.25M478.1 391.4h1.25M506.0 336.7h1.25M466.4 443.1h1.25M490.3 345.2h1.25M462.9 445.3h1.25M501.2 347.0h1.25M459.6 413.8h1.25M503.7 335.7h1.25M471.1 449.9h1.25M478.3 432.0h1.25M500.9 327.6h1.25M484.0 345.3h1.25M467.1 363.7h1.25M464.0 421.4h1.25M485.4 384.6h1.25M490.5 349.3h1.25M488.7 340.2h1.25M464.5 427.3h1.25M508.0 326.9h1.25M482.3 341.2h1.25M498.7 345.9h1.25M508.7 324.8h1.25M507.4 336.3h1.25M512.8 336.3h1.25M471.5 368.6h1.25M485.0 355.1h1.25M478.8 347.5h1.25M504.2 334.6h1.25M472.6 364.6h1.25M500.4 353.8h1.25M466.7 385.1h1.25M476.8 350.5h1.25M473.4 348.7h1.25M463.5 403.4h1.25M481.4 445.8h1.25M498.2 339.4h1.25M468.0 374.9h1.25M478.2 345.4h1.25M496.8 342.5h1.25M473.4 381.0h1.25M510.4 339.4h1.25M467.6 444.5h1.25M469.6 456.4h1.25M466.6 397.1h1.25M481.7 357.3h1.25M470.4 364.4h1.25M513.1 333.4h1.25M491.5 327.5h1.25M464.2 379.3h1.25M494.0 337.1h1.25M460.9 453.6h1.25M515.2 333.9h1.25M492.0 337.9h1.25M468.6 392.2h1.25M465.2 436.1h1.25M479.9 363.1h1.25M465.5 442.2h1.25M468.7 407.2h1.25M471.5 374.7h1.25M468.9 373.3h1.25M492.6 325.9h1.25M484.9 346.7h1.25M483.9 348.9h1.25M473.1 447.4h1.25M492.6 354.0h1.25M469.2 379.6h1.25M484.8 339.7h1.25M468.0 427.0h1.25M476.1 394.7h1.25M491.6 329.5h1.25M493.4 358.9h1.25M501.0 333.7h1.25M508.4 330.3h1.25M462.7 387.8h1.25M483.3 362.6h1.25M471.0 445.2h1.25M494.8 331.8h1.25M495.3 341.3h1.25M510.6 324.9h1.25M501.8 330.9h1.25M493.3 346.8h1.25M504.6 334.1h1.25M513.1 331.7h1.25M467.2 440.5h1.25M503.7 338.9h1.25M490.2 336.3h1.25M461.7 449.8h1.25M466.9 402.4h1.25M468.4 413.7h1.25M502.4 320.9h1.25M506.7 327.7h1.25M464.0 429.2h1.25M484.7 361.9h1.25M492.7 339.5h1.25M477.3 350.9h1.25M468.8 397.3h1.25M475.6 350.2h1.25M499.2 326.6h1.25M485.7 354.5h1.25M471.4 375.6h1.25M467.2 441.9h1.25M493.3 332.4h1.25M469.4 448.8h1.25M469.1 365.9h1.25M472.2 372.0h1.25M482.7 348.6h1.25M461.8 433.0h1.25M469.3 387.4h1.25M466.5 448.1h1.25M514.8 332.6h1.25M467.1 446.1h1.25M472.8 372.3h1.25M489.8 342.7h1.25M466.7 436.7h1.25M506.8 325.9h1.25M472.0 372.7h1.25M508.1 336.7h1.25M468.2 444.9h1.25M506.6 332.5h1.25M498.2 339.7h1.25M494.3 346.1h1.25M494.2 337.5h1.25M467.7 406.3h1.25M505.4 339.7h1.25M470.6 439.1h1.25M464.3 406.9h1.25M473.8 371.8h1.25M502.2 385.6h1.25M506.1 401.1h1.25M480.8 389.6h1.25M479.4 419.9h1.25M470.5 360.3h1.25M483.1 387.7h1.25M483.2 405.3h1.25M489.4 407.6h1.25M496.4 368.7h1.25M496.9 417.1h1.25M497.2 368.5h1.25M472.1 354.8h1.25M505.5 380.0h1.25M487.0 380.2h1.25M487.4 416.7h1.25M471.4 411.6h1.25M504.5 367.3h1.25M475.6 350.6h1.25M481.3 379.3h1.25M497.6 373.1h1.25M486.6 351.5h1.25M493.2 344.7h1.25M473.0 404.3h1.25M496.9 400.7h1.25M477.1 383.6h1.25M478.1 372.1h1.25M500.8 412.8h1.25M483.9 359.3h1.25M496.2 417.4h1.25M494.7 350.0h1.25M477.2 408.4h1.25M491.1 364.7h1.25M477.8 416.0h1.25M480.6 408.1h1.25M478.7 410.3h1.25M500.9 382.3h1.25M501.0 409.8h1.25M492.4 351.9h1.25M476.2 382.8h1.25M481.8 412.9h1.25M500.4 369.6h1.25M480.9 404.2h1.25M475.6 364.1h1.25M504.6 395.8h1.25M476.2 386.0h1.25M504.9 344.2h1.25M478.2 391.7h1.25M511.3 409.5h1.25M501.3 358.4h1.25M507.6 402.0h1.25M483.2 412.5h1.25M472.0 412.0h1.25M479.6 378.9h1.25M501.1 347.0h1.25M489.3 356.8h1.25M500.5 368.2h1.25M497.7 342.4h1.25M504.1 355.7h1.25M477.3 360.8h1.25M511.5 363.7h1.25M475.9 364.7h1.25M503.1 352.0h1.25M501.2 404.3h1.25M488.2 408.0h1.25M494.5 413.5h1.25M495.0 354.9h1.25M490.6 360.5h1.25M475.6 413.8h1.25M501.9 401.6h1.25M502.6 348.5h1.25M490.5 371.7h1.25M491.5 397.3h1.25M515.6 419.1h1.25M483.0 414.2h1.25M501.2 387.9h1.25M494.3 357.1h1.25M482.5 390.8h1.25M514.9 400.8h1.25M477.6 367.6h1.25M478.5 390.9h1.25M487.0 442.7h1.25M482.2 444.6h1.25M493.5 434.9h1.25M498.6 447.0h1.25M494.1 437.9h1.25M490.9 442.4h1.25M499.9 442.7h1.25M484.5 448.0h1.25M491.5 437.7h1.25M491.8 438.4h1.25M487.2 439.9h1.25M496.9 449.2h1.25M498.6 443.4h1.25M479.2 448.1h1.25M479.4 448.8h1.25M487.4 438.2h1.25M486.9 446.0h1.25M496.3 449.9h1.25M485.2 452.0h1.25M486.9 440.3h1.25M491.3 430.1h1.25M490.3 433.7h1.25M483.2 426.9h1.25M491.6 427.8h1.25M494.0 442.8h1.25M494.2 434.4h1.25M456.6 471.3h1.25M455.1 448.9h1.25M457.0 457.5h1.25M451.6 451.0h1.25M452.2 456.5h1.25M456.6 447.9h1.25M453.5 444.1h1.25M450.4 455.9h1.25M452.5 450.3h1.25M456.5 440.6h1.25M449.5 442.5h1.25M449.1 451.8h1.25M524.0 365.0h1.25M526.0 425.0h1.25M532.0 437.0h1.25M520.5 370.0h1.25M517.0 322.0h1.25" stroke="#7e7e7e" stroke-width="1.25" stroke-opacity="0.7" fill="none"/>
<path d="M465.0 393.9h1.3M485.3 348.8h1.3M498.5 330.5h1.3M502.8 327.1h1.3M490.0 344.2h1.3M463.4 448.0h1.3M470.2 457.7h1.3M465.8 388.3h1.3M498.0 329.1h1.3M493.1 331.6h1.3M512.4 328.3h1.3M466.7 406.6h1.3M512.5 329.9h1.3M468.1 411.0h1.3M490.8 343.0h1.3M463.9 409.9h1.3M509.1 329.0h1.3M465.8 448.5h1.3M466.2 433.2h1.3M466.0 385.2h1.3M466.7 377.9h1.3M472.9 364.9h1.3M494.4 336.6h1.3M493.1 336.9h1.3M467.7 444.4h1.3M492.3 341.0h1.3M494.0 344.2h1.3M479.6 347.2h1.3M467.2 419.8h1.3M477.5 357.5h1.3M487.3 338.9h1.3M465.9 419.3h1.3M499.6 332.9h1.3M492.3 338.0h1.3M477.9 345.1h1.3M495.9 333.1h1.3M488.3 347.0h1.3M465.1 390.2h1.3M499.0 327.0h1.3M467.0 449.7h1.3M467.7 430.0h1.3M484.0 347.3h1.3M498.4 355.1h1.3M512.1 324.4h1.3M472.7 362.2h1.3M461.9 454.4h1.3M504.3 326.6h1.3M462.2 392.1h1.3M466.1 428.9h1.3M467.2 394.8h1.3M497.8 348.5h1.3M468.8 374.0h1.3M460.5 440.9h1.3M496.4 336.1h1.3M464.2 388.9h1.3M498.4 330.1h1.3M494.7 336.9h1.3M460.9 415.6h1.3M496.5 333.2h1.3M495.1 331.9h1.3M467.5 372.4h1.3M464.4 421.1h1.3M496.9 334.9h1.3M483.3 355.9h1.3M498.1 336.8h1.3M503.8 328.5h1.3M466.7 410.0h1.3M465.8 444.6h1.3M465.4 421.4h1.3M467.6 391.8h1.3M515.6 331.6h1.3M509.8 329.5h1.3M500.4 335.4h1.3M463.3 403.9h1.3M496.6 327.1h1.3M478.7 359.8h1.3M466.4 441.3h1.3M464.0 428.6h1.3M507.0 331.0h1.3M481.0 352.6h1.3M496.2 338.9h1.3M468.9 378.7h1.3M499.9 333.9h1.3M466.1 390.5h1.3M466.9 381.3h1.3M464.8 388.3h1.3M470.9 383.7h1.3M495.3 338.5h1.3M467.4 423.2h1.3M497.4 331.3h1.3M495.1 325.3h1.3M510.2 333.6h1.3M478.2 349.5h1.3M475.5 354.0h1.3M465.0 443.3h1.3M465.5 448.1h1.3M479.8 352.8h1.3M461.7 450.8h1.3M466.0 389.6h1.3M512.8 331.5h1.3M471.1 391.6h1.3M465.7 455.4h1.3M467.3 377.3h1.3M496.8 338.5h1.3M471.4 365.2h1.3M510.9 325.2h1.3M475.0 354.9h1.3M467.8 447.6h1.3M500.9 327.2h1.3M469.1 385.8h1.3M491.7 333.2h1.3M508.3 326.4h1.3M493.7 341.8h1.3M464.9 451.9h1.3M467.4 440.1h1.3M466.5 449.0h1.3M469.9 368.2h1.3M491.7 334.8h1.3M475.3 367.2h1.3M499.9 330.0h1.3M468.8 386.4h1.3M468.8 455.8h1.3M489.3 342.5h1.3M490.9 340.6h1.3M464.3 448.8h1.3M512.5 331.1h1.3M465.3 448.0h1.3M495.6 337.9h1.3M462.0 419.1h1.3M462.7 452.6h1.3M467.1 447.1h1.3M466.4 454.2h1.3M465.7 440.2h1.3M469.1 456.8h1.3M496.8 340.4h1.3M474.0 359.3h1.3M472.2 375.3h1.3M503.0 324.4h1.3M495.7 338.6h1.3M472.3 376.6h1.3M490.5 340.0h1.3M464.6 438.2h1.3M468.3 394.9h1.3M498.1 328.4h1.3M467.1 437.5h1.3M486.4 341.6h1.3M508.9 328.3h1.3M507.8 324.8h1.3M495.7 340.5h1.3M467.1 418.9h1.3M464.2 424.5h1.3M493.8 332.9h1.3M465.6 388.1h1.3M494.5 338.4h1.3M475.0 358.7h1.3M495.2 337.3h1.3M512.5 332.8h1.3M490.0 343.9h1.3M500.4 358.5h1.3M485.9 340.0h1.3M465.5 425.2h1.3M470.5 376.0h1.3M473.2 359.3h1.3M466.8 422.6h1.3M474.3 362.2h1.3M505.8 335.4h1.3M478.9 349.1h1.3M482.5 341.5h1.3M495.4 333.8h1.3M506.4 334.7h1.3M468.3 397.9h1.3M508.7 332.1h1.3M504.2 335.6h1.3M464.0 435.3h1.3M471.5 367.5h1.3M464.9 385.7h1.3M485.2 344.3h1.3M480.2 346.5h1.3M468.2 392.0h1.3M497.8 333.8h1.3M493.1 344.1h1.3M468.0 444.3h1.3M464.7 416.3h1.3M473.0 368.0h1.3M513.8 324.5h1.3M469.9 386.5h1.3M497.3 330.3h1.3M478.4 354.6h1.3M486.7 338.9h1.3M486.3 346.0h1.3M467.1 411.4h1.3M463.3 436.9h1.3M504.8 355.2h1.3M476.7 352.1h1.3M505.6 347.2h1.3M466.0 439.4h1.3M462.6 441.4h1.3M491.8 337.4h1.3M513.7 325.6h1.3M469.2 389.2h1.3M478.7 355.2h1.3M492.5 328.4h1.3M500.3 336.8h1.3M475.1 352.0h1.3M492.1 336.8h1.3M463.3 393.0h1.3M488.2 348.3h1.3M465.0 438.6h1.3M491.6 342.0h1.3M467.0 450.9h1.3M494.2 344.7h1.3M480.1 352.7h1.3M503.1 336.7h1.3M464.6 396.2h1.3M500.5 334.2h1.3M514.0 333.5h1.3M464.7 414.3h1.3M471.3 368.5h1.3M489.4 339.3h1.3M483.6 349.3h1.3M511.3 332.9h1.3M463.1 390.9h1.3M492.0 334.3h1.3M470.8 380.1h1.3M475.4 354.0h1.3M466.1 438.1h1.3M497.0 337.7h1.3M500.5 335.4h1.3M467.2 418.3h1.3M471.2 366.5h1.3M464.1 420.0h1.3M466.1 393.8h1.3M511.7 327.2h1.3M504.0 330.1h1.3M471.7 364.0h1.3M475.2 359.9h1.3M462.0 435.9h1.3M491.7 333.0h1.3M465.3 397.8h1.3M466.3 442.9h1.3M501.8 337.0h1.3M469.6 369.0h1.3M492.0 340.1h1.3M494.5 332.5h1.3M464.5 415.9h1.3M511.0 334.7h1.3M496.7 337.0h1.3M494.9 338.7h1.3M503.2 328.4h1.3M501.9 336.9h1.3M464.4 444.4h1.3M502.9 327.9h1.3M482.6 346.5h1.3M492.9 331.0h1.3M503.3 328.6h1.3M498.1 336.4h1.3M473.2 360.4h1.3M501.0 328.3h1.3M499.5 330.4h1.3M497.3 339.1h1.3M465.5 456.0h1.3M486.3 336.3h1.3M480.3 352.2h1.3M478.9 343.9h1.3M506.3 337.8h1.3M484.2 340.0h1.3M471.5 370.7h1.3M495.7 338.6h1.3M479.2 346.3h1.3M484.2 340.1h1.3M467.1 456.2h1.3M482.2 346.3h1.3M492.4 336.0h1.3M470.6 362.9h1.3M514.1 328.5h1.3M479.3 347.3h1.3M468.5 370.4h1.3M485.5 334.3h1.3M492.3 343.7h1.3M492.3 334.5h1.3M478.5 348.9h1.3M467.1 446.5h1.3M501.7 331.8h1.3M472.8 364.6h1.3M514.1 324.8h1.3M507.8 333.3h1.3M493.0 335.8h1.3M484.3 347.5h1.3M465.8 381.0h1.3M467.2 444.8h1.3M467.7 449.9h1.3M509.3 327.8h1.3M463.3 408.1h1.3M485.2 346.2h1.3M505.7 338.4h1.3M472.7 377.8h1.3M466.1 446.8h1.3M494.7 336.8h1.3M474.9 360.1h1.3M490.9 342.8h1.3M467.3 387.9h1.3M505.0 337.0h1.3M482.7 347.9h1.3M509.7 332.4h1.3M484.6 343.7h1.3M476.1 349.9h1.3M506.1 329.4h1.3M490.9 340.7h1.3M495.5 337.6h1.3M496.9 336.6h1.3M497.8 344.7h1.3M467.4 397.8h1.3M470.8 373.7h1.3M478.6 358.1h1.3M509.2 327.1h1.3M492.0 334.9h1.3M463.4 413.4h1.3M464.9 387.0h1.3M468.4 387.7h1.3M478.5 355.7h1.3M466.4 390.9h1.3M464.9 416.2h1.3M483.0 351.6h1.3M499.4 333.4h1.3M491.2 344.5h1.3M468.9 440.7h1.3M482.0 339.7h1.3M479.6 352.7h1.3M460.2 417.4h1.3M468.0 451.7h1.3M503.6 332.5h1.3M496.9 338.1h1.3M514.4 330.2h1.3M492.7 348.3h1.3M471.6 376.8h1.3M497.7 332.0h1.3M490.5 334.5h1.3M476.5 359.1h1.3M481.0 343.9h1.3M467.2 454.1h1.3M499.2 334.6h1.3M466.7 432.7h1.3M497.8 333.2h1.3M461.4 431.3h1.3M465.1 409.5h1.3M474.7 345.4h1.3M470.3 374.4h1.3M468.7 455.2h1.3M469.9 377.7h1.3M466.9 449.2h1.3M466.7 404.0h1.3M462.7 408.4h1.3M505.4 332.9h1.3M466.8 446.8h1.3M469.6 437.7h1.3M468.2 453.0h1.3M462.5 450.3h1.3M479.9 348.2h1.3M462.1 420.8h1.3M498.5 337.5h1.3M510.6 333.2h1.3M462.6 391.0h1.3M462.2 448.3h1.3M487.8 337.0h1.3M493.4 332.4h1.3M467.5 441.2h1.3M501.1 337.2h1.3M473.9 358.4h1.3M463.3 436.0h1.3M476.4 361.1h1.3M511.3 338.9h1.3M489.8 342.0h1.3M465.6 373.2h1.3M489.1 333.8h1.3M491.5 339.0h1.3M499.5 330.7h1.3M465.7 450.4h1.3M484.3 350.0h1.3M481.8 352.7h1.3M467.5 430.5h1.3M469.1 450.2h1.3M482.0 347.5h1.3M468.3 450.5h1.3M489.9 342.4h1.3M495.3 332.1h1.3M462.9 454.5h1.3M474.0 352.4h1.3M483.7 340.0h1.3M468.4 447.8h1.3M480.9 342.2h1.3M504.9 325.3h1.3M479.2 345.4h1.3M466.6 443.4h1.3M512.1 330.4h1.3M497.0 331.8h1.3M497.8 332.8h1.3M465.6 413.8h1.3M505.3 328.7h1.3M463.5 412.0h1.3M508.7 334.0h1.3M462.4 433.2h1.3M462.8 449.6h1.3M482.1 350.8h1.3M487.0 344.6h1.3M477.7 349.9h1.3M487.3 345.3h1.3M483.3 340.1h1.3M511.8 328.9h1.3M485.2 342.0h1.3M478.0 356.8h1.3M462.2 443.2h1.3M467.3 430.0h1.3M488.3 342.2h1.3M489.5 341.0h1.3M462.6 446.4h1.3M495.1 337.0h1.3M464.9 399.1h1.3M462.9 439.3h1.3M466.6 433.9h1.3M494.5 329.0h1.3M511.3 329.2h1.3M471.8 371.2h1.3M502.0 326.1h1.3M471.2 363.6h1.3M476.0 356.5h1.3M465.9 444.8h1.3M471.6 370.8h1.3M491.1 338.2h1.3M502.2 329.2h1.3M494.9 339.5h1.3M493.3 343.9h1.3M494.2 338.7h1.3M463.8 403.1h1.3M503.0 332.8h1.3M464.2 394.5h1.3M465.6 422.5h1.3M460.9 406.5h1.3M493.8 338.2h1.3M462.7 438.5h1.3M473.5 359.6h1.3M473.6 358.7h1.3M462.8 425.6h1.3M469.9 378.8h1.3M483.9 335.0h1.3M490.5 337.0h1.3M492.6 335.8h1.3M487.6 344.7h1.3M512.2 329.3h1.3M468.4 380.2h1.3M502.4 328.2h1.3M480.9 349.5h1.3M479.5 349.8h1.3M491.9 337.9h1.3M468.1 384.1h1.3M474.0 365.0h1.3M471.1 367.9h1.3M504.5 329.2h1.3M465.1 395.4h1.3M461.9 437.1h1.3M468.6 393.6h1.3M467.6 391.3h1.3M489.1 340.4h1.3M467.4 383.7h1.3M483.5 345.5h1.3M471.8 375.9h1.3M491.3 334.5h1.3M492.7 339.8h1.3M501.9 328.8h1.3M492.7 336.6h1.3M474.9 357.3h1.3M483.3 351.5h1.3M496.3 338.0h1.3M463.9 442.1h1.3M468.5 380.0h1.3M482.6 349.1h1.3M473.4 363.9h1.3M494.0 339.3h1.3M493.4 339.9h1.3M465.3 429.9h1.3M493.8 334.7h1.3M506.1 332.6h1.3M497.1 335.0h1.3M504.0 337.8h1.3M499.1 336.1h1.3M503.9 327.4h1.3M468.4 387.4h1.3M464.1 438.1h1.3M494.4 331.9h1.3M491.0 338.2h1.3M513.1 327.8h1.3M464.4 417.5h1.3M497.7 329.3h1.3M465.8 436.0h1.3M499.4 337.0h1.3M498.8 338.0h1.3M468.8 402.8h1.3M485.4 347.7h1.3M498.0 334.5h1.3M475.4 355.1h1.3M485.3 339.6h1.3M465.9 403.8h1.3M472.9 366.3h1.3M510.8 329.1h1.3M469.8 378.8h1.3M506.2 327.8h1.3M468.5 452.7h1.3M466.9 396.8h1.3M496.4 331.4h1.3M464.9 446.4h1.3M461.9 448.4h1.3M469.4 372.9h1.3M510.4 329.1h1.3M474.7 356.7h1.3M486.9 343.8h1.3M497.2 333.2h1.3M466.6 428.0h1.3M462.5 407.1h1.3M466.9 399.6h1.3M496.6 339.2h1.3M467.0 398.3h1.3M468.0 385.1h1.3M465.1 447.5h1.3M468.5 409.8h1.3M464.2 441.7h1.3M506.6 331.0h1.3M488.1 341.9h1.3M465.3 389.9h1.3M511.5 324.0h1.3M489.7 342.3h1.3M489.6 340.4h1.3M510.5 329.6h1.3M464.9 391.3h1.3M491.7 331.8h1.3M487.6 340.3h1.3M495.8 330.0h1.3M467.1 452.4h1.3M493.5 333.0h1.3M498.5 338.9h1.3M484.8 342.0h1.3M513.7 322.8h1.3M462.6 448.3h1.3M476.7 348.3h1.3M461.4 409.8h1.3M481.4 346.5h1.3M487.5 348.1h1.3M487.8 341.9h1.3M483.9 335.9h1.3M465.6 443.5h1.3M466.8 457.0h1.3M500.0 339.1h1.3M480.1 353.6h1.3M473.2 381.8h1.3M462.8 431.1h1.3M463.0 444.1h1.3M463.9 383.8h1.3M505.4 334.3h1.3M463.4 438.0h1.3M467.9 441.9h1.3M498.3 343.8h1.3M466.2 384.1h1.3M463.1 409.6h1.3M503.0 329.6h1.3M466.5 438.0h1.3M467.8 436.2h1.3M475.2 364.6h1.3M499.3 334.6h1.3M484.3 345.7h1.3M467.8 444.2h1.3M493.2 332.7h1.3M464.2 441.4h1.3M462.7 398.3h1.3M501.1 329.3h1.3M487.6 342.6h1.3M514.3 325.7h1.3M463.9 393.1h1.3M465.4 431.4h1.3M465.0 392.1h1.3M487.1 337.6h1.3M463.7 400.0h1.3M472.7 359.8h1.3M496.1 339.3h1.3M474.5 369.6h1.3M464.7 450.0h1.3M490.2 333.8h1.3M485.4 342.7h1.3M501.2 338.5h1.3M467.0 445.4h1.3M469.9 385.4h1.3M469.2 379.6h1.3M496.1 336.9h1.3M463.0 448.8h1.3M480.8 340.8h1.3M495.0 336.1h1.3M459.8 419.9h1.3M498.2 339.7h1.3M497.5 332.0h1.3M512.1 327.2h1.3M468.3 452.4h1.3M499.9 338.1h1.3M496.7 340.3h1.3M490.1 338.9h1.3M509.6 326.6h1.3M478.7 343.2h1.3M479.6 339.7h1.3M513.1 332.4h1.3M474.9 356.0h1.3M467.2 449.9h1.3M504.3 332.0h1.3M504.3 351.4h1.3M472.9 358.4h1.3M497.3 334.4h1.3M470.8 363.1h1.3M466.8 382.2h1.3M501.3 343.6h1.3M474.5 363.8h1.3M464.3 412.6h1.3M464.4 416.4h1.3M463.8 388.5h1.3M493.3 329.3h1.3M477.8 354.3h1.3M468.2 448.6h1.3M474.8 365.8h1.3M470.5 382.2h1.3M465.5 421.6h1.3M468.9 379.6h1.3M502.2 345.7h1.3M512.0 333.4h1.3M468.3 437.4h1.3M490.2 345.6h1.3M466.6 387.4h1.3M464.4 396.2h1.3M505.6 333.0h1.3M462.5 426.5h1.3M488.6 345.1h1.3M498.5 339.9h1.3M478.5 350.8h1.3M483.2 346.0h1.3M497.8 333.2h1.3M466.0 450.3h1.3M499.0 339.5h1.3M469.2 389.2h1.3M466.5 381.1h1.3M468.1 448.4h1.3M506.3 333.4h1.3M464.6 446.8h1.3M481.3 349.1h1.3M500.1 339.5h1.3M478.2 353.6h1.3M514.4 330.9h1.3M466.4 399.5h1.3M492.4 338.2h1.3M501.7 335.8h1.3M490.7 332.2h1.3M507.7 337.6h1.3M489.4 341.9h1.3M474.0 353.6h1.3M469.1 372.2h1.3M466.6 419.8h1.3M463.3 421.0h1.3M476.5 358.6h1.3M450.5 457.5h1.3M451.0 461.0h1.3M452.0 455.0h1.3" stroke="#e426e4" stroke-width="1.3" stroke-opacity="0.85" fill="none"/>
<path d="M495.5 336.9h1.3M465.3 440.5h1.3M497.1 332.6h1.3M498.8 333.1h1.3M493.5 333.9h1.3M465.1 450.2h1.3M465.7 447.4h1.3M488.6 340.9h1.3M497.8 333.1h1.3M488.4 338.0h1.3M501.6 336.5h1.3M483.7 347.6h1.3M496.4 334.3h1.3M489.8 336.6h1.3M498.3 335.7h1.3M465.9 441.2h1.3M501.4 332.8h1.3M479.9 351.2h1.3M504.7 332.8h1.3M497.2 338.3h1.3M487.7 340.2h1.3M492.1 335.0h1.3M510.9 329.4h1.3M490.1 338.7h1.3M492.5 337.8h1.3M502.7 331.7h1.3M498.9 336.1h1.3M495.6 334.0h1.3M491.2 339.0h1.3M465.6 394.3h1.3M494.0 333.7h1.3M464.9 433.9h1.3M496.0 334.7h1.3M493.3 337.0h1.3M463.2 438.4h1.3M465.7 409.2h1.3M464.3 446.5h1.3M489.2 340.8h1.3M490.0 340.7h1.3M497.3 331.5h1.3M466.7 441.3h1.3M467.3 452.4h1.3M464.2 449.7h1.3M493.9 336.1h1.3M478.2 355.3h1.3M482.2 344.2h1.3M464.9 438.4h1.3M463.8 438.7h1.3M490.9 339.3h1.3M497.9 333.5h1.3M466.5 447.5h1.3M503.0 331.2h1.3M488.9 336.6h1.3M499.8 331.9h1.3M490.7 338.6h1.3M506.8 328.8h1.3M491.5 336.2h1.3M466.1 450.6h1.3M464.0 423.9h1.3M467.7 456.3h1.3M493.6 338.4h1.3M481.3 349.7h1.3M463.7 415.1h1.3M502.7 330.3h1.3M498.3 331.6h1.3M503.5 336.0h1.3M486.3 338.3h1.3M498.5 332.2h1.3M502.8 329.5h1.3M493.7 335.2h1.3M463.9 397.6h1.3M492.4 338.4h1.3M461.6 422.8h1.3M496.6 334.2h1.3M511.6 327.9h1.3M491.4 337.6h1.3M497.7 333.8h1.3M489.2 337.5h1.3M470.6 370.4h1.3M490.3 339.9h1.3M487.5 338.9h1.3M466.1 450.2h1.3M485.6 338.5h1.3M496.7 334.4h1.3M486.7 342.9h1.3M504.7 329.8h1.3M494.4 336.7h1.3M486.4 343.6h1.3M486.4 342.4h1.3M466.3 447.0h1.3M505.0 328.8h1.3M495.5 331.8h1.3M464.5 443.2h1.3M484.5 343.0h1.3M493.0 339.0h1.3M498.9 330.1h1.3M500.5 330.1h1.3M494.3 338.4h1.3M496.5 332.1h1.3M466.1 448.4h1.3M502.3 333.6h1.3M492.2 340.2h1.3M489.6 336.3h1.3M489.4 337.5h1.3M512.3 327.4h1.3M495.4 335.0h1.3M504.0 335.0h1.3M465.5 448.1h1.3M500.0 336.1h1.3M488.8 337.6h1.3M474.4 354.2h1.3M495.0 330.4h1.3M503.7 330.6h1.3M493.5 341.2h1.3M489.2 343.0h1.3M505.2 331.1h1.3M492.5 335.2h1.3M492.5 340.0h1.3M463.5 438.3h1.3M505.9 328.5h1.3M495.4 336.0h1.3M489.3 336.7h1.3M464.5 438.0h1.3M491.4 336.6h1.3M465.8 448.0h1.3M499.8 333.2h1.3M490.5 341.5h1.3M510.6 330.0h1.3M485.6 343.6h1.3M512.1 330.1h1.3M485.2 342.6h1.3M466.0 449.7h1.3M465.7 439.3h1.3M465.9 442.8h1.3M463.8 440.4h1.3M483.8 342.7h1.3M465.1 435.7h1.3M501.6 335.9h1.3M493.4 334.7h1.3M494.8 335.4h1.3M494.6 334.1h1.3M489.2 343.7h1.3M501.4 333.5h1.3M488.3 342.3h1.3M503.4 329.3h1.3M463.1 448.3h1.3M499.9 333.8h1.3M466.2 443.3h1.3M494.6 335.2h1.3M490.2 338.1h1.3M490.0 335.0h1.3M488.4 341.2h1.3M466.1 439.7h1.3M489.7 340.1h1.3M490.6 337.5h1.3M464.1 438.5h1.3M482.4 341.2h1.3M484.7 341.0h1.3M465.4 442.8h1.3M491.6 338.1h1.3M465.4 445.9h1.3M493.1 336.8h1.3M472.4 362.5h1.3M493.5 336.1h1.3M505.7 330.8h1.3M489.8 340.8h1.3M468.5 376.4h1.3M489.9 336.3h1.3M490.6 339.0h1.3M486.3 339.5h1.3M496.5 335.5h1.3" stroke="#2fb4e6" stroke-width="1.3" stroke-opacity="0.9" fill="none"/>
<path d="M483.1 342.2h1.3M487.3 337.9h1.3M472.3 372.2h1.3M465.6 406.5h1.3M486.5 337.3h1.3M487.3 345.6h1.3M486.5 347.9h1.3M464.5 450.2h1.3M466.9 426.1h1.3M470.4 363.7h1.3M494.0 335.5h1.3M506.6 327.6h1.3M471.0 366.2h1.3M495.1 334.8h1.3M463.8 413.2h1.3M464.3 399.2h1.3M464.4 396.4h1.3M497.8 332.2h1.3M497.9 334.5h1.3M483.2 341.9h1.3M491.1 338.9h1.3M470.3 450.2h1.3M501.5 331.4h1.3M469.3 375.5h1.3M485.3 338.6h1.3M500.3 330.5h1.3M478.9 348.8h1.3M502.3 327.8h1.3M490.5 333.7h1.3M463.8 431.7h1.3M491.7 340.1h1.3M501.4 326.6h1.3M498.1 330.9h1.3M488.7 341.1h1.3M474.7 366.1h1.3M472.0 366.2h1.3M469.2 382.0h1.3M495.9 334.4h1.3M493.9 335.9h1.3M465.3 442.5h1.3M465.6 443.8h1.3M491.0 337.6h1.3M478.6 352.8h1.3M489.7 341.6h1.3M496.7 333.6h1.3M497.4 335.2h1.3M505.0 334.4h1.3M493.2 336.7h1.3M464.5 428.2h1.3M504.7 331.3h1.3M466.9 399.2h1.3M468.5 383.1h1.3M494.1 335.0h1.3M494.7 333.9h1.3M495.3 334.7h1.3M481.3 343.1h1.3M466.9 387.9h1.3M507.8 332.8h1.3M500.8 332.1h1.3M468.2 386.4h1.3M496.9 333.4h1.3M497.7 335.2h1.3M495.9 334.7h1.3M489.9 338.8h1.3M485.7 345.8h1.3M495.6 333.6h1.3M482.1 347.8h1.3M499.1 334.2h1.3M464.5 451.2h1.3M508.3 331.5h1.3M500.0 333.8h1.3M465.5 381.9h1.3M496.2 338.1h1.3M488.0 339.7h1.3M499.5 333.4h1.3M486.4 346.1h1.3M513.4 328.1h1.3M467.3 444.3h1.3M467.9 394.8h1.3M497.2 331.3h1.3M492.9 338.3h1.3M484.4 339.5h1.3M492.2 339.7h1.3M511.7 330.9h1.3M479.5 350.7h1.3M495.6 333.1h1.3M465.9 441.1h1.3M501.4 333.7h1.3M489.5 343.6h1.3M475.8 355.2h1.3M497.5 332.7h1.3M508.8 329.8h1.3M490.3 334.4h1.3M471.0 366.3h1.3M511.7 331.2h1.3M481.2 342.9h1.3M490.1 333.9h1.3M479.2 354.8h1.3M464.9 448.9h1.3M498.4 334.5h1.3M509.1 328.8h1.3M464.8 429.0h1.3M476.1 357.2h1.3M468.5 373.2h1.3M491.8 334.2h1.3M494.1 336.8h1.3M473.7 362.0h1.3M465.4 431.8h1.3M488.0 337.9h1.3M465.7 452.8h1.3M490.5 343.2h1.3M471.4 368.1h1.3M500.4 329.0h1.3M469.6 369.5h1.3M493.0 331.0h1.3M495.1 332.7h1.3M467.6 448.2h1.3M469.6 377.8h1.3M495.5 337.9h1.3M498.4 333.0h1.3M465.8 441.1h1.3M499.6 328.9h1.3M465.4 392.5h1.3M468.8 369.6h1.3M494.7 337.2h1.3M493.3 334.9h1.3M466.4 449.0h1.3M464.6 385.1h1.3M473.2 362.8h1.3M507.3 332.5h1.3M486.2 340.5h1.3M500.1 333.5h1.3M467.1 444.3h1.3M500.2 328.1h1.3M511.9 330.5h1.3M493.9 330.8h1.3M493.7 339.5h1.3M510.3 329.8h1.3M465.2 425.3h1.3M505.7 328.0h1.3M467.8 453.9h1.3M467.5 443.6h1.3M471.8 366.6h1.3M486.8 345.6h1.3M490.0 340.7h1.3M462.9 420.7h1.3M488.6 341.0h1.3M488.2 337.1h1.3M464.9 432.2h1.3M475.7 352.9h1.3M471.4 371.4h1.3M471.1 370.2h1.3M493.1 338.0h1.3M496.5 334.8h1.3M465.3 448.2h1.3M493.1 340.9h1.3M493.3 337.4h1.3M493.8 336.3h1.3M494.1 336.1h1.3M474.9 355.2h1.3M498.1 331.2h1.3M489.1 336.2h1.3M465.1 445.4h1.3M484.0 347.2h1.3M466.7 441.9h1.3M467.9 450.9h1.3M497.8 334.7h1.3M464.9 417.5h1.3M466.3 446.6h1.3M467.1 449.3h1.3M499.0 332.9h1.3M463.5 438.7h1.3M465.4 453.6h1.3M464.7 388.8h1.3M465.0 450.1h1.3M502.7 331.1h1.3M466.8 448.7h1.3M470.9 373.8h1.3M492.8 338.6h1.3M493.3 338.1h1.3M503.5 333.2h1.3M486.7 344.8h1.3M466.7 445.4h1.3M466.7 449.9h1.3M507.4 325.8h1.3M491.2 334.8h1.3M490.9 339.8h1.3M499.5 336.4h1.3M465.7 444.0h1.3M497.1 338.0h1.3M495.4 341.3h1.3M497.7 336.0h1.3M499.2 330.0h1.3M463.4 441.3h1.3M465.7 386.2h1.3M479.4 344.9h1.3M511.0 326.6h1.3M466.9 393.9h1.3M464.9 438.7h1.3M501.6 331.1h1.3M465.7 440.6h1.3M482.2 342.0h1.3M466.5 405.4h1.3M513.0 328.5h1.3M465.1 446.3h1.3M480.3 343.2h1.3M493.7 334.3h1.3M491.3 336.5h1.3M498.2 332.6h1.3M484.9 346.9h1.3M468.1 383.3h1.3M503.2 328.5h1.3M506.7 333.8h1.3M464.7 441.9h1.3M495.3 335.1h1.3M466.4 446.3h1.3M480.1 348.4h1.3M504.7 329.4h1.3M472.4 365.0h1.3M476.9 351.4h1.3M465.8 398.2h1.3M495.5 336.5h1.3M491.0 335.7h1.3M498.4 331.8h1.3M468.4 386.2h1.3M465.5 433.6h1.3M471.0 371.2h1.3M463.6 442.6h1.3M484.6 348.5h1.3M477.8 356.7h1.3M502.1 332.9h1.3M492.1 338.0h1.3M490.2 334.5h1.3M492.6 338.5h1.3M494.5 334.0h1.3M484.0 339.9h1.3M483.8 343.2h1.3M487.7 338.5h1.3" stroke="#3f86dc" stroke-width="1.3" stroke-opacity="0.9" fill="none"/>
<path d="M485.6 339.8h1.35M487.6 339.4h1.35M481.7 346.9h1.35M504.9 330.9h1.35M499.2 333.7h1.35M502.3 333.2h1.35M486.6 346.4h1.35M489.0 340.7h1.35M481.0 345.5h1.35M496.3 334.3h1.35M495.2 331.9h1.35M497.3 335.4h1.35M466.3 448.9h1.35M494.7 332.4h1.35M505.6 327.4h1.35M488.1 342.5h1.35M491.6 339.1h1.35M497.6 332.6h1.35M490.8 341.3h1.35M503.6 330.2h1.35M497.9 336.8h1.35M487.3 342.5h1.35M483.8 340.2h1.35M504.5 331.5h1.35M480.7 346.6h1.35M483.4 343.0h1.35M481.2 347.1h1.35M498.8 330.6h1.35M487.1 340.2h1.35M503.5 332.7h1.35M487.6 341.9h1.35M487.1 342.4h1.35M489.0 338.5h1.35M504.2 332.7h1.35M486.6 340.4h1.35M498.0 333.0h1.35M490.1 338.8h1.35M488.3 341.7h1.35M498.7 330.7h1.35M492.5 335.3h1.35M491.1 332.9h1.35M491.5 336.4h1.35M493.5 333.5h1.35M491.4 340.4h1.35M488.1 337.8h1.35M493.9 335.7h1.35M505.2 333.0h1.35M492.9 335.9h1.35M489.2 336.7h1.35M493.4 337.7h1.35M495.8 332.6h1.35M496.0 333.5h1.35M494.5 337.8h1.35M494.1 334.5h1.35M490.7 336.6h1.35M498.4 333.4h1.35M492.5 334.0h1.35M484.6 345.0h1.35M492.5 338.4h1.35M484.7 344.7h1.35M483.9 342.2h1.35M499.3 330.7h1.35M505.5 332.3h1.35M492.9 333.2h1.35M505.7 328.2h1.35M490.2 336.2h1.35M496.4 336.4h1.35M484.5 344.9h1.35M497.6 333.4h1.35M493.5 336.4h1.35M493.4 333.3h1.35M489.5 338.8h1.35M465.1 449.4h1.35M486.9 339.7h1.35M507.3 330.3h1.35M500.4 332.4h1.35M480.7 346.7h1.35M507.3 329.6h1.35M490.4 336.1h1.35M494.4 334.7h1.35M503.8 330.2h1.35M485.6 341.8h1.35M485.6 342.3h1.35M485.5 337.0h1.35M494.6 334.0h1.35M498.5 335.3h1.35M496.5 333.2h1.35M495.2 333.7h1.35M497.2 332.8h1.35M482.0 346.8h1.35M492.6 336.2h1.35M485.0 340.3h1.35M489.3 342.2h1.35M498.2 334.6h1.35M505.3 329.7h1.35M503.7 332.3h1.35M488.8 341.0h1.35M486.8 343.9h1.35M501.3 333.2h1.35M486.1 342.5h1.35M502.8 332.3h1.35M496.4 333.4h1.35M491.4 338.5h1.35M497.2 335.8h1.35M494.0 340.6h1.35M503.5 332.2h1.35M503.7 333.5h1.35M501.6 331.3h1.35M488.4 338.9h1.35M488.1 340.8h1.35M487.2 341.7h1.35M492.2 334.8h1.35M500.1 336.4h1.35M501.1 331.1h1.35M487.4 337.5h1.35M486.3 341.4h1.35M495.8 336.7h1.35M487.3 341.0h1.35M502.7 330.2h1.35M500.3 333.3h1.35M507.2 330.7h1.35M503.2 334.0h1.35M504.2 331.2h1.35M500.0 333.9h1.35M493.8 331.4h1.35M497.9 335.0h1.35M494.8 335.9h1.35M494.5 334.2h1.35M495.0 333.3h1.35M496.6 336.2h1.35M484.5 343.9h1.35M498.7 331.6h1.35M489.3 339.6h1.35M494.8 336.3h1.35M498.6 335.2h1.35M506.8 330.1h1.35M481.9 343.8h1.35M500.6 330.6h1.35M497.9 336.7h1.35M484.0 345.8h1.35M506.9 330.2h1.35M502.2 330.0h1.35M481.3 345.5h1.35M489.5 340.0h1.35M490.4 340.1h1.35M495.4 337.7h1.35M503.2 332.8h1.35M489.7 336.0h1.35M506.1 330.8h1.35M503.3 330.1h1.35M484.6 342.1h1.35M489.1 341.0h1.35M497.2 332.4h1.35M487.2 339.8h1.35M494.9 335.5h1.35M483.4 346.6h1.35M489.1 339.5h1.35M504.3 328.7h1.35M502.6 330.4h1.35M482.9 344.1h1.35M488.6 338.7h1.35M486.5 339.1h1.35M497.5 333.5h1.35M487.8 337.5h1.35M485.3 337.5h1.35M487.3 345.0h1.35M501.0 331.7h1.35M503.1 330.3h1.35M505.8 328.6h1.35M496.4 328.4h1.35M491.1 338.8h1.35M495.2 337.6h1.35M465.5 453.2h1.35M490.2 336.9h1.35M500.3 332.0h1.35M465.9 437.7h1.35M500.7 336.0h1.35M486.6 341.7h1.35" stroke="#1ed57c" stroke-width="1.35" stroke-opacity="0.95" fill="none"/>
<path d="M581 301.9H712.8V493.2" stroke="#555" stroke-width="1" fill="none"/>
<path d="M581 301.9V493.2H712.8" stroke="#777" stroke-width="1" fill="none"/>
<path d="M580.5 301.9V493.2" stroke="#555" stroke-width="1.6" stroke-dasharray="0.8 2.4" fill="none"/>
<path d="M581 494.4H713.5" stroke="#666" stroke-width="2.2" stroke-dasharray="0.8 3.55" fill="none"/>
<text x="571.9" y="306" font-size="8" font-weight="bold" fill="#333" textLength="3.8" lengthAdjust="spacingAndGlyphs">10</text>
<text x="575.8" y="302.6" font-size="4.4" fill="#333" textLength="1.7" lengthAdjust="spacingAndGlyphs">5</text>
<text x="571.9" y="353" font-size="8" font-weight="bold" fill="#333" textLength="3.8" lengthAdjust="spacingAndGlyphs">10</text>
<text x="575.8" y="349.6" font-size="4.4" fill="#333" textLength="1.7" lengthAdjust="spacingAndGlyphs">4</text>
<text x="571.9" y="400.4" font-size="8" font-weight="bold" fill="#333" textLength="3.8" lengthAdjust="spacingAndGlyphs">10</text>
<text x="575.8" y="397.0" font-size="4.4" fill="#333" textLength="1.7" lengthAdjust="spacingAndGlyphs">3</text>
<text x="571.9" y="448.8" font-size="8" font-weight="bold" fill="#333" textLength="3.8" lengthAdjust="spacingAndGlyphs">10</text>
<text x="575.8" y="445.4" font-size="4.4" fill="#333" textLength="1.7" lengthAdjust="spacingAndGlyphs">2</text>
<text x="580.2" y="506" font-size="9.2" font-weight="bold" fill="#333" textLength="2.2" lengthAdjust="spacingAndGlyphs">0</text>
<text x="599.4" y="506" font-size="9.2" font-weight="bold" fill="#333" textLength="6.7" lengthAdjust="spacingAndGlyphs">100</text>
<text x="621.2" y="506" font-size="9.2" font-weight="bold" fill="#333" textLength="6.7" lengthAdjust="spacingAndGlyphs">200</text>
<text x="643.2" y="506" font-size="9.2" font-weight="bold" fill="#333" textLength="6.7" lengthAdjust="spacingAndGlyphs">300</text>
<text x="665.0" y="506" font-size="9.2" font-weight="bold" fill="#333" textLength="6.7" lengthAdjust="spacingAndGlyphs">400</text>
<text x="687.0" y="506" font-size="9.2" font-weight="bold" fill="#333" textLength="6.7" lengthAdjust="spacingAndGlyphs">500</text>
<text x="709.0" y="506" font-size="9.2" font-weight="bold" fill="#333" textLength="6.7" lengthAdjust="spacingAndGlyphs">600</text>
<text transform="translate(567.6 417.5) rotate(-90)" font-size="6.4" font-weight="bold" fill="#333" textLength="35" lengthAdjust="spacingAndGlyphs">BrdU FITC</text>
<path d="M586.3 323.1H650.8V487.3H586.3Z" stroke="#555" stroke-width="0.9" fill="none"/>
<path d="M586.3 422.6H650.8" stroke="#222" stroke-width="1.4" fill="none"/>
<path d="M615.4 422.6V487.3" stroke="#222" stroke-width="1.2" fill="none"/>
<rect x="589.9" y="324.4" width="5.4" height="15.2" rx="1.4" fill="#fff" stroke="#c4c4c4" stroke-width="0.6"/>
<text x="590.8" y="336" font-size="10.8" fill="#383838" textLength="3.7" lengthAdjust="spacingAndGlyphs">S</text>
<rect x="586.9" y="471.4" width="21.4" height="14.2" rx="1.2" fill="#fff" stroke="#c4c4c4" stroke-width="0.6"/>
<text x="588.3" y="482.4" font-size="10.8" fill="#383838" textLength="18.6" lengthAdjust="spacingAndGlyphs">G0/G1</text>
<rect x="631.7" y="471.4" width="18.6" height="14.2" rx="1.2" fill="#fff" stroke="#c4c4c4" stroke-width="0.6"/>
<text x="633.2" y="482.4" font-size="10.8" fill="#383838" textLength="15.6" lengthAdjust="spacingAndGlyphs">G2/M</text>
<path d="M610.7 367.6h1.25M612.7 351.7h1.25M635.8 361.3h1.25M620.0 370.6h1.25M609.6 364.0h1.25M618.2 382.2h1.25M616.4 370.3h1.25M623.2 349.1h1.25M631.6 359.2h1.25M610.1 371.3h1.25M613.9 389.1h1.25M613.6 366.3h1.25M617.5 356.8h1.25M621.1 378.5h1.25M620.2 365.6h1.25M618.7 346.7h1.25M613.8 384.8h1.25M612.2 373.1h1.25M621.8 377.8h1.25M616.3 361.4h1.25M615.2 355.8h1.25M612.2 374.6h1.25M628.6 354.9h1.25M609.1 355.4h1.25M624.4 356.9h1.25M607.4 357.4h1.25M617.3 361.5h1.25M603.6 362.7h1.25M613.6 359.0h1.25M615.2 376.7h1.25M618.5 378.6h1.25M617.8 358.2h1.25M633.4 345.3h1.25M617.5 358.5h1.25M617.0 368.7h1.25M619.5 365.9h1.25M618.0 362.0h1.25M618.7 369.2h1.25M622.8 354.5h1.25M628.8 360.3h1.25M624.6 374.7h1.25M628.6 352.0h1.25M625.0 344.0h1.25M625.9 371.2h1.25M624.8 359.0h1.25M612.3 374.0h1.25M620.1 378.6h1.25M610.1 368.7h1.25M627.1 362.3h1.25M611.5 365.3h1.25M617.4 348.8h1.25M617.7 360.5h1.25M623.0 360.2h1.25M606.1 358.3h1.25M610.3 363.7h1.25M623.6 350.2h1.25M609.1 364.8h1.25M619.7 384.7h1.25M615.6 364.8h1.25M626.8 366.3h1.25M615.4 372.0h1.25M616.2 368.3h1.25M626.4 345.0h1.25M623.3 370.8h1.25M613.5 368.9h1.25M618.9 355.4h1.25M623.8 371.5h1.25M617.9 366.6h1.25M633.8 362.7h1.25M622.2 348.3h1.25M621.6 362.3h1.25M623.9 349.9h1.25M613.2 354.9h1.25M621.5 357.1h1.25M612.9 367.8h1.25M627.4 354.0h1.25M625.9 366.6h1.25M614.0 377.6h1.25M627.4 361.5h1.25M617.4 375.4h1.25M632.4 370.1h1.25M615.1 378.8h1.25M619.4 369.3h1.25M606.9 376.9h1.25M616.5 367.5h1.25M611.9 368.6h1.25M616.5 378.0h1.25M631.0 361.7h1.25M621.8 352.5h1.25M618.7 364.3h1.25M622.5 351.0h1.25M624.3 352.3h1.25M619.8 357.8h1.25M616.9 373.9h1.25M616.5 367.6h1.25M625.3 355.3h1.25M621.6 366.2h1.25M610.4 366.3h1.25M605.0 349.0h1.25M625.2 374.6h1.25M618.3 352.1h1.25M613.5 348.2h1.25M615.3 372.7h1.25M613.3 369.7h1.25M628.9 346.5h1.25M616.9 352.1h1.25M628.4 361.1h1.25M620.3 343.7h1.25M619.1 350.9h1.25M611.0 364.5h1.25M610.9 349.0h1.25M627.7 350.3h1.25M608.3 356.6h1.25M622.3 354.6h1.25M635.5 362.3h1.25M620.4 358.1h1.25M629.0 365.0h1.25M622.3 378.1h1.25M627.3 356.7h1.25M614.2 364.5h1.25M626.1 364.7h1.25M616.0 370.6h1.25M612.5 371.5h1.25M623.8 377.2h1.25M618.9 359.8h1.25M621.8 354.4h1.25M624.6 360.3h1.25M611.5 375.2h1.25M620.9 381.5h1.25M625.1 364.7h1.25M614.6 362.7h1.25M610.5 372.8h1.25M624.6 353.1h1.25M615.1 375.9h1.25M616.9 354.2h1.25M620.6 355.7h1.25M607.9 363.0h1.25M613.4 372.9h1.25M628.7 349.0h1.25M621.4 385.6h1.25M615.9 364.4h1.25M609.7 383.2h1.25M623.9 369.1h1.25M611.5 360.7h1.25M615.0 381.5h1.25M634.2 348.0h1.25M616.7 362.9h1.25M615.7 350.3h1.25M624.0 370.3h1.25M618.1 361.9h1.25M613.3 353.8h1.25M606.2 382.1h1.25M614.6 354.0h1.25M617.7 366.9h1.25M607.0 351.0h1.25M624.2 361.5h1.25M622.7 383.0h1.25M624.5 363.7h1.25M627.1 373.8h1.25M632.0 367.9h1.25M612.5 384.6h1.25M636.8 342.6h1.25M619.1 355.9h1.25M610.3 373.7h1.25M616.4 365.3h1.25M614.9 349.6h1.25M626.8 374.2h1.25M608.2 367.8h1.25M628.1 369.2h1.25M611.7 374.7h1.25M610.5 372.1h1.25M615.1 364.9h1.25M623.5 347.6h1.25M613.1 365.0h1.25M629.2 374.3h1.25M624.0 358.8h1.25M616.7 376.6h1.25M625.3 363.8h1.25M626.2 349.4h1.25M608.1 365.1h1.25M622.1 366.2h1.25M621.7 348.6h1.25M623.8 364.6h1.25M612.1 376.2h1.25M613.7 354.8h1.25M609.5 375.3h1.25M619.3 374.4h1.25M606.0 377.4h1.25M612.5 376.7h1.25M621.8 348.8h1.25M618.6 361.0h1.25M612.3 378.5h1.25M624.0 373.8h1.25M609.2 357.0h1.25M617.5 369.8h1.25M613.5 343.5h1.25M625.0 369.2h1.25M630.0 351.1h1.25M612.4 373.5h1.25M614.9 381.6h1.25M614.1 369.0h1.25M627.0 364.1h1.25M608.6 357.3h1.25M617.1 370.2h1.25M617.4 350.4h1.25M621.3 353.2h1.25M629.1 370.9h1.25M621.9 354.9h1.25M614.7 360.0h1.25M627.4 349.1h1.25M617.8 351.2h1.25M613.4 376.6h1.25M614.9 346.4h1.25M617.8 357.8h1.25M616.5 373.3h1.25M613.0 352.8h1.25M620.7 358.9h1.25M615.0 369.5h1.25M596.8 367.4h1.25M633.1 349.2h1.25M609.4 381.6h1.25M607.9 361.0h1.25M608.2 369.8h1.25M622.0 363.6h1.25M615.3 360.8h1.25M626.5 364.7h1.25M621.5 370.1h1.25M612.7 378.4h1.25M630.1 370.5h1.25M618.6 358.3h1.25M628.8 361.3h1.25M614.0 367.1h1.25M615.0 356.6h1.25M613.5 370.2h1.25M599.4 367.3h1.25M614.3 364.4h1.25M610.2 372.1h1.25M611.2 367.7h1.25M629.9 348.3h1.25M617.5 381.0h1.25M608.6 378.1h1.25M616.7 367.3h1.25M609.0 370.4h1.25M627.7 353.3h1.25M611.8 374.1h1.25M614.6 374.2h1.25M625.9 357.2h1.25M613.9 382.8h1.25M633.8 342.8h1.25M620.0 362.0h1.25M613.1 377.6h1.25M613.4 368.2h1.25M608.2 359.8h1.25M623.6 368.8h1.25M627.6 352.7h1.25M627.7 366.0h1.25M620.9 358.3h1.25M636.8 359.2h1.25M619.7 355.3h1.25M617.3 356.1h1.25M616.7 381.3h1.25M608.2 362.3h1.25M632.6 357.1h1.25M620.4 359.5h1.25M621.5 352.4h1.25M621.2 360.4h1.25M617.1 354.4h1.25M632.0 345.5h1.25M618.7 370.4h1.25M618.0 377.3h1.25M613.4 347.7h1.25M624.8 357.6h1.25M629.9 369.5h1.25M614.4 369.9h1.25M613.4 356.0h1.25M618.0 371.5h1.25M613.3 357.6h1.25M633.1 378.0h1.25M628.5 369.6h1.25M629.6 357.6h1.25M620.2 351.5h1.25M621.4 362.1h1.25M633.1 369.8h1.25M607.6 359.9h1.25M626.9 373.9h1.25M614.6 344.6h1.25M619.3 364.8h1.25M625.5 356.5h1.25M611.6 372.0h1.25M612.8 377.0h1.25M622.8 355.8h1.25M625.6 358.4h1.25M618.6 370.5h1.25M614.0 377.5h1.25M621.3 351.5h1.25M612.3 348.7h1.25M613.6 382.1h1.25M612.6 375.7h1.25M624.6 362.3h1.25M622.1 360.0h1.25M611.1 349.1h1.25M613.1 372.3h1.25M618.5 374.4h1.25M628.0 351.7h1.25M618.0 387.1h1.25M626.5 382.4h1.25M616.3 362.1h1.25M626.9 366.3h1.25M616.4 364.3h1.25M612.4 376.7h1.25M610.4 380.8h1.25M603.3 361.1h1.25M625.2 351.3h1.25M616.9 357.9h1.25M612.4 377.4h1.25M607.2 378.2h1.25M615.7 388.6h1.25M624.9 376.6h1.25M614.0 358.3h1.25M623.5 374.8h1.25M633.4 385.9h1.25M628.5 402.8h1.25M630.7 381.6h1.25M632.0 396.1h1.25M625.5 389.5h1.25M633.5 375.2h1.25M614.2 383.1h1.25M624.8 374.0h1.25M619.1 399.2h1.25M619.3 384.9h1.25M617.9 381.9h1.25M632.7 383.3h1.25M626.6 389.7h1.25M626.9 374.9h1.25M623.2 387.5h1.25M618.4 379.1h1.25M619.0 379.5h1.25M631.9 377.1h1.25M615.4 382.5h1.25M629.0 381.6h1.25M622.8 390.3h1.25M621.2 377.3h1.25M617.7 385.2h1.25M614.8 385.2h1.25M630.4 383.6h1.25M636.4 393.2h1.25M630.8 370.8h1.25M631.8 378.9h1.25M614.8 385.7h1.25M629.1 376.1h1.25M625.8 390.9h1.25M631.3 361.4h1.25M618.3 370.2h1.25M626.7 378.0h1.25M625.5 384.1h1.25M616.2 398.3h1.25M639.7 373.9h1.25M640.1 383.0h1.25M628.8 397.7h1.25M623.6 381.9h1.25M625.6 369.3h1.25M606.6 375.9h1.25M616.1 385.4h1.25M628.7 385.8h1.25M625.6 398.0h1.25M620.7 374.8h1.25M623.3 390.7h1.25M616.6 365.2h1.25M639.8 376.2h1.25M634.6 381.3h1.25M625.1 377.0h1.25M630.4 376.5h1.25M618.8 381.7h1.25M626.4 386.3h1.25M618.7 377.8h1.25M624.8 395.2h1.25M630.1 391.6h1.25M624.8 373.6h1.25M640.0 377.7h1.25M618.9 384.0h1.25M628.3 386.8h1.25M622.2 399.2h1.25M618.2 398.9h1.25M621.6 375.4h1.25M631.1 391.3h1.25M622.5 398.8h1.25M629.8 391.8h1.25M623.7 375.9h1.25M639.0 380.0h1.25M618.1 380.9h1.25M630.3 377.0h1.25M610.6 396.2h1.25M627.2 371.3h1.25M618.3 392.2h1.25M619.5 396.5h1.25M619.4 399.6h1.25M607.8 388.1h1.25M611.8 398.5h1.25M625.8 376.1h1.25M623.6 377.5h1.25M635.1 380.9h1.25M625.3 373.9h1.25M612.2 392.7h1.25M619.7 380.8h1.25M629.3 384.8h1.25M633.8 389.4h1.25M628.2 377.3h1.25M620.8 370.2h1.25M618.6 381.7h1.25M614.7 380.8h1.25M633.1 396.9h1.25M621.1 363.2h1.25M615.1 380.5h1.25M629.6 395.9h1.25M620.6 378.6h1.25M620.1 387.4h1.25M614.5 387.7h1.25M606.0 375.6h1.25M624.2 381.4h1.25M619.6 372.1h1.25M619.3 389.9h1.25M622.3 384.5h1.25M621.5 380.7h1.25M637.0 370.0h1.25M627.6 370.8h1.25M620.4 371.6h1.25M628.1 380.6h1.25M620.6 394.0h1.25M614.1 379.7h1.25M624.9 391.3h1.25M636.1 403.8h1.25M616.1 388.5h1.25M620.2 389.9h1.25M629.4 375.5h1.25M626.0 386.5h1.25M634.8 383.8h1.25M622.4 379.7h1.25M617.9 373.0h1.25M617.5 386.5h1.25M619.3 391.7h1.25M620.0 396.2h1.25M635.7 396.3h1.25M617.1 384.4h1.25M624.3 372.4h1.25M620.7 375.1h1.25M616.7 391.8h1.25M607.2 416.8h1.25M601.7 391.8h1.25M600.6 384.8h1.25M602.4 402.9h1.25M607.5 382.8h1.25M602.1 395.1h1.25M608.1 445.6h1.25M614.1 358.1h1.25M608.5 390.4h1.25M602.4 401.6h1.25M602.5 400.7h1.25M602.7 374.6h1.25M605.2 384.4h1.25M602.0 374.1h1.25M610.9 391.1h1.25M612.0 456.3h1.25M602.5 365.9h1.25M596.6 424.9h1.25M596.8 405.9h1.25M615.1 351.6h1.25M598.5 429.4h1.25M598.8 435.3h1.25M604.4 404.4h1.25M603.3 403.4h1.25M603.9 457.3h1.25M600.9 418.9h1.25M611.1 416.4h1.25M610.5 367.8h1.25M599.6 421.7h1.25M607.6 441.1h1.25M604.6 412.9h1.25M606.5 404.7h1.25M610.1 371.4h1.25M606.7 381.4h1.25M608.2 430.5h1.25M614.0 358.0h1.25M606.4 380.6h1.25M604.3 428.0h1.25M613.0 357.6h1.25M602.5 438.2h1.25M598.0 429.1h1.25M604.8 424.0h1.25M606.6 440.2h1.25M604.5 430.5h1.25M606.6 399.9h1.25M605.2 449.0h1.25M606.2 363.2h1.25M599.0 438.0h1.25M607.3 407.6h1.25M607.1 460.2h1.25M605.2 417.9h1.25M602.7 388.4h1.25M600.5 386.4h1.25M606.7 416.5h1.25M601.1 446.4h1.25M605.8 456.6h1.25M605.0 411.8h1.25M607.3 400.8h1.25M608.1 355.4h1.25M607.3 423.7h1.25M605.6 398.7h1.25M610.0 409.4h1.25M614.9 359.5h1.25M599.5 424.9h1.25M606.4 411.3h1.25M605.0 414.7h1.25M599.5 446.4h1.25M605.3 417.1h1.25M610.5 357.4h1.25M599.3 422.2h1.25M603.4 392.6h1.25M606.4 457.2h1.25M600.6 409.1h1.25M605.9 453.8h1.25M614.4 355.8h1.25M610.8 357.9h1.25M597.5 388.3h1.25M602.5 460.1h1.25M600.4 453.8h1.25M610.7 359.2h1.25M597.1 429.9h1.25M604.8 366.2h1.25M609.7 384.1h1.25M608.6 351.9h1.25M599.2 432.6h1.25M606.0 424.6h1.25M610.2 349.1h1.25M601.6 445.9h1.25M599.6 402.8h1.25M599.7 424.9h1.25M608.8 379.6h1.25M605.1 418.5h1.25M603.6 440.2h1.25M606.4 359.4h1.25M603.4 369.7h1.25M598.3 401.5h1.25M606.0 391.9h1.25M599.2 459.9h1.25M610.1 365.2h1.25M602.8 416.6h1.25M603.4 456.6h1.25M599.9 393.8h1.25M605.8 390.1h1.25M618.0 401.5h1.25M609.0 353.6h1.25M611.7 360.1h1.25M607.1 385.9h1.25M599.3 435.0h1.25M607.9 430.1h1.25M596.4 413.3h1.25M597.5 411.7h1.25M603.5 461.8h1.25M598.3 438.7h1.25M605.0 419.8h1.25M600.4 448.7h1.25M610.7 369.5h1.25M608.0 425.3h1.25M597.4 430.4h1.25M614.6 353.3h1.25M603.3 440.7h1.25M601.1 385.5h1.25M599.9 443.4h1.25M602.2 422.9h1.25M602.1 382.5h1.25M606.1 418.8h1.25M603.7 418.2h1.25M609.4 378.5h1.25M605.4 411.6h1.25M601.8 378.6h1.25M606.2 418.9h1.25M600.2 439.2h1.25M614.6 353.7h1.25M606.5 406.0h1.25M604.9 433.0h1.25M599.9 405.5h1.25M605.7 398.4h1.25M608.7 376.1h1.25M605.6 398.9h1.25M605.8 457.7h1.25M606.8 459.5h1.25M597.9 449.5h1.25M613.4 461.2h1.25M605.6 457.6h1.25M604.3 455.3h1.25M600.3 439.7h1.25M614.9 357.0h1.25M601.3 372.8h1.25M603.7 422.9h1.25M606.6 457.5h1.25M612.0 368.2h1.25M602.3 404.8h1.25M609.8 405.2h1.25M610.0 369.0h1.25M602.5 460.5h1.25M610.4 358.3h1.25M605.7 417.0h1.25M606.2 424.6h1.25M600.3 403.3h1.25M604.2 425.8h1.25M602.3 426.4h1.25M605.2 459.8h1.25M605.3 447.4h1.25M600.9 451.8h1.25M608.3 401.6h1.25M608.0 437.4h1.25M608.1 387.5h1.25M610.1 371.7h1.25M603.4 452.9h1.25M605.2 397.7h1.25M598.0 375.7h1.25M600.5 443.5h1.25M605.1 452.4h1.25M608.1 405.5h1.25M609.4 412.1h1.25M602.3 458.3h1.25M607.4 458.0h1.25M611.1 391.6h1.25M612.1 375.9h1.25M614.7 419.0h1.25M606.4 461.5h1.25M599.7 391.7h1.25M601.4 358.2h1.25M605.1 455.5h1.25M604.1 406.9h1.25M605.8 376.3h1.25M602.7 440.8h1.25M609.4 353.8h1.25M599.6 449.6h1.25M610.0 426.7h1.25M614.3 356.9h1.25M609.1 406.4h1.25M607.7 439.2h1.25M613.7 370.2h1.25M617.1 359.4h1.25M605.8 360.6h1.25M601.0 439.8h1.25M608.2 356.8h1.25M603.9 358.8h1.25M609.5 362.3h1.25M599.0 414.1h1.25M607.7 441.9h1.25M604.3 438.6h1.25M604.9 413.2h1.25M612.3 423.9h1.25M604.8 419.1h1.25M605.9 397.3h1.25M609.6 392.4h1.25M601.1 408.8h1.25M604.2 362.2h1.25M598.0 418.2h1.25M599.9 398.3h1.25M600.3 446.3h1.25M608.8 377.4h1.25M606.8 354.9h1.25M609.9 381.0h1.25M602.0 376.4h1.25M599.2 411.9h1.25M606.0 433.6h1.25M608.2 428.7h1.25M607.8 378.0h1.25M617.1 351.0h1.25M605.3 425.5h1.25M601.3 460.3h1.25M602.6 444.8h1.25M599.1 383.2h1.25M605.1 454.7h1.25M598.5 426.1h1.25M600.5 444.6h1.25M601.2 434.6h1.25M600.2 398.5h1.25M603.1 441.2h1.25M611.9 379.6h1.25M615.0 361.6h1.25M610.2 369.5h1.25M610.1 425.6h1.25M604.7 382.6h1.25M607.4 369.2h1.25M604.9 436.2h1.25M609.6 366.2h1.25M607.6 455.3h1.25M609.2 379.7h1.25M605.0 410.9h1.25M605.6 362.6h1.25M603.1 379.5h1.25M612.6 377.3h1.25M608.0 449.6h1.25M613.8 394.8h1.25M602.4 461.5h1.25M603.0 461.3h1.25M602.2 443.7h1.25M604.3 461.2h1.25M600.6 451.4h1.25M604.1 421.7h1.25M600.2 457.8h1.25M607.0 351.4h1.25M601.8 406.9h1.25M603.3 405.1h1.25M599.0 452.0h1.25M612.6 366.4h1.25M611.3 362.5h1.25M611.1 407.0h1.25M603.8 391.0h1.25M605.4 450.7h1.25M598.9 437.7h1.25M592.6 434.0h1.25M603.4 415.1h1.25M611.8 369.7h1.25M603.3 362.6h1.25M602.8 451.8h1.25M604.6 455.9h1.25M596.4 467.8h1.25M604.2 451.9h1.25M603.9 460.8h1.25M598.1 458.3h1.25M604.5 451.6h1.25M602.9 451.4h1.25M598.8 467.2h1.25M599.3 463.6h1.25M606.6 468.7h1.25M608.6 461.9h1.25M609.1 461.8h1.25M599.0 456.9h1.25M602.2 471.7h1.25M596.0 459.4h1.25M598.7 456.9h1.25M600.0 459.8h1.25M605.7 462.0h1.25M601.6 467.5h1.25M601.3 456.1h1.25M595.7 455.7h1.25M597.4 453.1h1.25M605.0 457.8h1.25M600.8 459.2h1.25M605.9 446.2h1.25M604.3 453.5h1.25M600.2 452.4h1.25M605.3 450.4h1.25M600.2 452.8h1.25M605.1 461.7h1.25M605.5 458.5h1.25M608.0 456.2h1.25M604.6 464.6h1.25M610.0 457.8h1.25M605.6 464.1h1.25M597.6 463.7h1.25M601.8 455.3h1.25M607.7 453.8h1.25M606.9 460.6h1.25M600.2 453.9h1.25M607.1 460.3h1.25M600.7 454.1h1.25M597.8 460.5h1.25M609.3 454.4h1.25M600.9 458.2h1.25M600.8 461.1h1.25M601.6 449.6h1.25M607.5 451.0h1.25M601.3 467.5h1.25M602.5 446.2h1.25M606.9 453.3h1.25M603.1 470.4h1.25M606.7 454.3h1.25M607.9 451.2h1.25M601.0 453.3h1.25M604.8 465.2h1.25M610.9 455.2h1.25M604.5 473.5h1.25M607.7 464.8h1.25M601.2 452.3h1.25M597.7 465.3h1.25M606.2 464.1h1.25M599.1 461.7h1.25M604.9 464.3h1.25M601.1 457.7h1.25M605.7 467.4h1.25M600.7 449.3h1.25M597.9 465.9h1.25M599.5 460.8h1.25M604.7 467.6h1.25M605.9 453.6h1.25M607.8 463.6h1.25M599.9 453.0h1.25M599.8 453.5h1.25M601.6 464.7h1.25M601.8 465.0h1.25M600.3 458.7h1.25M606.9 456.6h1.25M606.3 448.1h1.25M600.7 454.3h1.25M610.5 457.6h1.25M608.2 457.4h1.25M604.3 468.8h1.25M603.3 456.6h1.25M608.2 463.2h1.25M605.0 458.0h1.25M608.4 451.0h1.25M600.3 457.4h1.25M607.8 445.0h1.25M598.5 461.3h1.25M605.5 458.6h1.25M600.4 453.2h1.25M608.1 453.3h1.25M599.7 460.6h1.25M607.0 471.6h1.25M602.9 466.3h1.25M599.1 470.5h1.25M612.1 458.1h1.25M607.3 459.7h1.25M597.0 468.1h1.25M608.6 465.9h1.25M595.2 460.5h1.25M604.1 466.7h1.25M605.4 451.8h1.25M616.2 461.3h1.25M603.5 446.6h1.25M611.2 459.4h1.25M607.4 462.4h1.25M601.2 467.5h1.25M605.7 447.7h1.25M599.6 462.0h1.25M608.0 464.3h1.25M601.9 457.6h1.25M600.4 459.6h1.25M601.6 456.2h1.25M595.9 452.7h1.25M608.4 458.3h1.25M603.3 453.4h1.25M626.4 407.8h1.25M625.7 399.8h1.25M621.3 394.0h1.25M645.3 404.7h1.25M631.6 395.8h1.25M647.5 392.4h1.25M641.5 393.3h1.25M626.6 406.1h1.25M631.7 412.4h1.25M635.1 412.4h1.25M620.0 400.5h1.25M626.2 406.0h1.25M630.6 395.1h1.25M621.9 393.8h1.25M619.6 410.8h1.25M646.9 409.2h1.25M623.9 409.7h1.25M632.9 400.2h1.25M642.1 399.6h1.25M627.2 393.3h1.25M625.3 418.8h1.25M632.4 413.1h1.25M632.7 399.7h1.25M628.6 406.8h1.25M627.3 406.9h1.25M618.8 403.2h1.25M621.5 405.9h1.25M633.9 418.4h1.25M644.2 417.9h1.25M631.3 400.6h1.25M643.4 395.5h1.25M629.4 393.8h1.25M642.4 413.6h1.25M645.8 397.4h1.25M643.1 412.2h1.25M634.3 404.9h1.25M642.2 405.7h1.25M646.4 418.8h1.25M629.0 407.6h1.25M630.9 418.1h1.25M643.6 403.6h1.25M629.0 401.2h1.25M637.9 411.3h1.25M636.6 407.1h1.25M638.1 392.2h1.25M632.4 412.1h1.25M643.1 383.3h1.25M634.1 388.5h1.25M647.4 374.2h1.25M644.8 354.3h1.25M633.4 355.2h1.25M639.6 387.0h1.25M636.3 388.9h1.25M645.0 347.1h1.25M630.5 391.9h1.25M639.0 381.6h1.25M645.5 359.3h1.25M630.3 385.7h1.25M646.8 363.8h1.25M641.9 345.5h1.25M646.9 373.7h1.25M647.6 377.4h1.25M636.5 353.4h1.25M639.3 385.6h1.25M639.6 370.3h1.25M634.0 351.9h1.25M623.1 433.9h1.25M630.2 450.5h1.25M624.1 431.9h1.25M638.2 450.4h1.25M623.1 433.8h1.25M628.4 427.6h1.25M618.8 440.3h1.25M623.4 432.1h1.25M640.2 438.5h1.25M632.9 443.1h1.25M638.3 449.9h1.25M645.1 428.9h1.25M638.2 426.6h1.25M619.6 432.7h1.25M619.9 430.0h1.25M623.0 447.1h1.25M639.6 439.0h1.25M632.5 445.4h1.25M633.7 428.0h1.25M629.8 431.3h1.25M630.1 451.4h1.25M621.9 434.4h1.25M633.5 443.1h1.25M625.2 436.3h1.25M631.0 450.2h1.25M617.5 449.1h1.25M632.7 449.8h1.25M627.7 442.9h1.25M616.7 431.8h1.25M635.5 434.6h1.25M631.5 451.6h1.25M632.8 443.4h1.25M632.9 432.6h1.25M645.6 435.9h1.25M652.0 363.5h1.25M659.5 365.0h1.25M655.5 384.5h1.25M692.6 385.8h1.25M658.0 394.8h1.25M659.6 408.6h1.25M682.4 408.8h1.25M654.5 423.6h1.25M659.7 431.0h1.25M692.6 423.7h1.25M700.8 427.0h1.25M678.2 437.3h1.25M659.6 440.5h1.25M584.6 466.5h1.25M652.4 427.8h1.25" stroke="#7e7e7e" stroke-width="1.25" stroke-opacity="0.7" fill="none"/>
<path d="M616.3 358.8h1.3M610.3 375.6h1.3M616.7 366.2h1.3M621.7 365.7h1.3M614.7 371.4h1.3M618.6 365.2h1.3M621.3 365.8h1.3M610.5 365.3h1.3M614.2 378.7h1.3M616.3 373.5h1.3M618.0 363.2h1.3M619.2 363.9h1.3M623.1 370.8h1.3M619.9 358.4h1.3M624.3 356.2h1.3M631.4 341.2h1.3M620.4 370.8h1.3M610.9 368.4h1.3M615.8 342.7h1.3M619.5 366.1h1.3M619.4 350.6h1.3M624.7 355.8h1.3M610.0 349.4h1.3M616.0 372.1h1.3M614.0 354.0h1.3M622.7 370.9h1.3M611.3 365.4h1.3M608.4 368.4h1.3M608.2 363.4h1.3M618.1 364.3h1.3M620.3 363.5h1.3M619.9 374.0h1.3M626.7 350.9h1.3M625.7 360.7h1.3M617.9 360.9h1.3M615.9 363.1h1.3M636.6 366.0h1.3M610.9 359.8h1.3M622.3 355.5h1.3M613.0 368.0h1.3M616.7 361.9h1.3M619.2 349.6h1.3M614.3 358.1h1.3M622.1 378.4h1.3M619.6 373.2h1.3M620.1 370.1h1.3M624.6 359.5h1.3M622.1 355.1h1.3M616.0 377.9h1.3M627.8 359.6h1.3M618.9 365.7h1.3M621.8 348.0h1.3M617.2 367.1h1.3M623.8 379.0h1.3M621.1 357.8h1.3M616.4 356.3h1.3M619.1 355.6h1.3M620.7 372.7h1.3M611.6 364.8h1.3M616.7 366.0h1.3M615.6 353.0h1.3M620.0 361.4h1.3M610.9 366.1h1.3M626.1 376.3h1.3M618.3 376.9h1.3M622.1 371.3h1.3M617.5 362.9h1.3M616.9 355.3h1.3M612.6 369.5h1.3M617.2 362.0h1.3M614.5 347.5h1.3M623.7 371.1h1.3M617.6 367.0h1.3M612.7 356.2h1.3M624.8 374.6h1.3M617.2 357.5h1.3M627.4 366.2h1.3M624.2 366.0h1.3M626.5 358.2h1.3M628.3 357.7h1.3M615.8 365.3h1.3M624.2 386.5h1.3M623.0 362.2h1.3M627.6 354.2h1.3M611.7 355.4h1.3M612.2 368.1h1.3M621.0 357.2h1.3M620.8 369.3h1.3M622.1 360.7h1.3M614.4 370.5h1.3M619.3 352.7h1.3M625.4 358.6h1.3M626.5 355.9h1.3M616.9 366.5h1.3M612.6 370.0h1.3M617.8 362.6h1.3M619.2 350.1h1.3M622.7 361.8h1.3M624.4 366.0h1.3M624.4 367.4h1.3M622.3 376.2h1.3M622.4 359.2h1.3M618.0 361.7h1.3M625.6 367.7h1.3M615.3 364.0h1.3M626.4 356.3h1.3M616.0 356.9h1.3M615.8 372.4h1.3M622.8 357.0h1.3M617.3 356.0h1.3M611.1 364.0h1.3M620.1 362.7h1.3M622.5 363.1h1.3M628.1 368.5h1.3M618.1 365.9h1.3M618.2 365.7h1.3M617.7 363.0h1.3M626.1 368.3h1.3M606.9 370.3h1.3M610.7 376.3h1.3M625.4 370.0h1.3M617.0 363.9h1.3M622.6 367.4h1.3M615.1 370.1h1.3M616.8 356.1h1.3M620.1 352.1h1.3M625.8 353.5h1.3M617.8 371.6h1.3M616.6 355.5h1.3M623.3 353.7h1.3M619.6 355.8h1.3M608.0 375.9h1.3M627.0 372.6h1.3M620.8 367.4h1.3M612.4 369.7h1.3M618.6 362.0h1.3M623.7 370.5h1.3M622.1 371.4h1.3M615.3 374.7h1.3M623.7 373.7h1.3M622.2 373.7h1.3M625.0 366.8h1.3M620.5 371.4h1.3M615.3 371.8h1.3M619.5 356.7h1.3M622.6 358.6h1.3M619.6 362.7h1.3M619.8 363.8h1.3M610.9 356.6h1.3M625.9 364.1h1.3M620.2 376.2h1.3M615.7 371.1h1.3M621.1 367.1h1.3M621.9 374.9h1.3M624.7 357.5h1.3M628.3 367.2h1.3M616.1 351.3h1.3M616.9 371.0h1.3M613.5 346.0h1.3M617.0 377.0h1.3M615.1 363.0h1.3M620.2 359.3h1.3M626.2 365.4h1.3M615.8 347.3h1.3M613.9 359.5h1.3M620.5 356.6h1.3M622.4 360.0h1.3M618.0 366.8h1.3M619.2 373.6h1.3M640.3 392.9h1.3M616.6 387.5h1.3M621.3 406.1h1.3M626.9 392.6h1.3M622.2 390.4h1.3M629.0 388.1h1.3M644.7 376.4h1.3M624.6 375.9h1.3M619.0 386.2h1.3M634.0 370.2h1.3M625.0 396.9h1.3M630.2 382.6h1.3M616.2 384.2h1.3M618.0 377.6h1.3M629.3 369.9h1.3M634.9 390.3h1.3M635.1 383.8h1.3M614.8 383.5h1.3M626.1 383.0h1.3M619.4 373.7h1.3M623.0 380.4h1.3M622.5 385.3h1.3M617.0 391.4h1.3M617.1 396.9h1.3M625.8 389.1h1.3M611.7 385.9h1.3M634.4 378.1h1.3M635.8 389.0h1.3M627.4 386.6h1.3M622.4 391.8h1.3M597.4 451.4h1.3M604.6 449.8h1.3M599.8 405.9h1.3M604.5 409.8h1.3M604.0 417.4h1.3M604.9 387.4h1.3M617.3 358.1h1.3M605.0 375.2h1.3M601.4 437.5h1.3M603.1 401.0h1.3M612.2 439.5h1.3M615.2 357.0h1.3M608.0 356.1h1.3M611.8 369.1h1.3M602.0 402.7h1.3M603.1 435.2h1.3M601.3 460.7h1.3M603.9 403.3h1.3M602.9 428.6h1.3M613.4 433.7h1.3M622.1 375.5h1.3M610.4 354.9h1.3M602.1 433.6h1.3M598.1 400.3h1.3M603.9 402.6h1.3M605.4 400.8h1.3M603.8 395.5h1.3M602.6 451.3h1.3M603.3 438.5h1.3M604.8 368.8h1.3M604.4 386.0h1.3M601.5 411.9h1.3M616.9 354.6h1.3M603.8 450.0h1.3M601.2 420.4h1.3M607.1 429.7h1.3M613.2 421.4h1.3M606.8 350.3h1.3M605.9 348.6h1.3M602.1 435.9h1.3M601.8 421.4h1.3M612.9 356.7h1.3M604.7 383.7h1.3M604.8 393.8h1.3M604.5 457.1h1.3M604.0 460.7h1.3M602.1 396.6h1.3M601.9 418.2h1.3M603.4 431.6h1.3M610.4 358.6h1.3M614.1 359.5h1.3M607.4 450.7h1.3M607.6 366.7h1.3M604.9 389.6h1.3M600.5 427.5h1.3M602.4 409.3h1.3M603.6 416.0h1.3M610.4 360.5h1.3M604.3 407.0h1.3M603.6 398.4h1.3M600.3 455.7h1.3M611.5 402.3h1.3M602.3 451.5h1.3M601.9 458.2h1.3M602.1 392.8h1.3M602.7 427.2h1.3M601.3 433.8h1.3M604.6 460.2h1.3M604.5 400.6h1.3M601.9 452.2h1.3M602.4 419.4h1.3M607.5 379.5h1.3M602.2 446.4h1.3M597.8 437.5h1.3M608.9 362.5h1.3M602.0 443.8h1.3M606.0 382.1h1.3M613.9 359.4h1.3M601.9 422.2h1.3M602.1 447.5h1.3M603.5 420.9h1.3M616.3 352.3h1.3M604.4 457.5h1.3M603.5 366.8h1.3M605.0 455.3h1.3M601.4 389.7h1.3M603.3 444.0h1.3M595.5 412.7h1.3M603.0 453.2h1.3M603.4 411.3h1.3M606.3 355.9h1.3M604.8 382.6h1.3M600.7 427.4h1.3M600.3 407.0h1.3M600.0 420.8h1.3M609.7 355.8h1.3M605.6 374.8h1.3M602.4 433.4h1.3M605.4 388.8h1.3M601.7 415.4h1.3M602.3 419.1h1.3M607.5 443.2h1.3M604.0 417.5h1.3M603.9 412.0h1.3M602.1 445.2h1.3M603.6 452.6h1.3M613.1 353.4h1.3M598.7 453.2h1.3M601.8 445.8h1.3M603.2 457.8h1.3M600.7 396.0h1.3M602.5 426.7h1.3M604.3 403.8h1.3M605.0 434.7h1.3M600.3 441.9h1.3M602.9 446.3h1.3M608.8 375.4h1.3M604.7 442.4h1.3M601.1 429.9h1.3M603.7 454.6h1.3M608.3 376.0h1.3M602.7 410.3h1.3M608.9 429.7h1.3M606.3 457.8h1.3M604.3 432.0h1.3M603.9 444.0h1.3M602.5 446.5h1.3M615.4 355.4h1.3M604.7 420.4h1.3M604.8 388.6h1.3M608.9 353.2h1.3M603.9 429.2h1.3M603.1 457.4h1.3M602.2 456.5h1.3M608.7 426.4h1.3M602.3 415.2h1.3M606.2 434.4h1.3M604.9 390.7h1.3M599.3 404.7h1.3M604.6 419.7h1.3M613.1 420.7h1.3M603.1 458.9h1.3M605.5 392.1h1.3M602.0 453.5h1.3M602.6 438.9h1.3M598.8 411.7h1.3M601.1 458.1h1.3M602.9 386.7h1.3M619.2 360.8h1.3M609.1 359.6h1.3M610.4 365.9h1.3M605.7 376.1h1.3M613.8 352.1h1.3M601.3 414.4h1.3M603.5 453.2h1.3M599.2 397.9h1.3M602.3 458.9h1.3M605.6 367.7h1.3M607.2 416.8h1.3M598.2 409.5h1.3M605.3 413.5h1.3M604.2 382.8h1.3M603.5 395.9h1.3M607.6 393.9h1.3M605.8 417.6h1.3M600.6 456.4h1.3M603.5 454.5h1.3M604.9 453.2h1.3M606.2 391.1h1.3M610.5 382.6h1.3M606.3 453.8h1.3M610.0 460.0h1.3M600.4 452.0h1.3M598.9 458.5h1.3M597.1 456.1h1.3M604.2 462.0h1.3M603.8 463.7h1.3M599.0 454.3h1.3M607.1 458.0h1.3M603.7 456.6h1.3M604.8 465.1h1.3M601.6 461.1h1.3M602.0 455.3h1.3M605.8 455.9h1.3M606.2 464.4h1.3M600.4 455.6h1.3M602.1 452.3h1.3M601.5 463.0h1.3M606.7 464.3h1.3M603.7 453.0h1.3M601.5 461.3h1.3M602.0 464.0h1.3M605.0 454.5h1.3M602.2 465.3h1.3M599.3 454.7h1.3M607.3 458.6h1.3M604.7 456.2h1.3M606.7 457.2h1.3M605.6 461.7h1.3M601.1 458.5h1.3M604.5 456.3h1.3M601.8 454.6h1.3M605.4 468.7h1.3M603.5 462.3h1.3M599.9 459.2h1.3M603.3 460.4h1.3M602.9 451.8h1.3M603.1 463.9h1.3M602.8 456.7h1.3M601.7 464.7h1.3M608.6 455.7h1.3M602.7 460.6h1.3M601.3 462.6h1.3M607.9 462.3h1.3M607.9 456.9h1.3M602.4 464.9h1.3M602.9 450.5h1.3M606.7 457.6h1.3M606.3 456.4h1.3M601.9 451.9h1.3M599.2 460.2h1.3M604.3 463.3h1.3M607.2 463.9h1.3M604.5 465.2h1.3M598.2 460.6h1.3M604.9 455.0h1.3M604.3 456.0h1.3M604.4 463.7h1.3M603.8 461.5h1.3M605.6 464.2h1.3M601.3 467.7h1.3M604.3 466.8h1.3M602.0 456.4h1.3M604.7 464.0h1.3M602.9 463.1h1.3M603.0 459.8h1.3M605.8 458.0h1.3M602.5 463.3h1.3M602.8 458.9h1.3M602.1 464.0h1.3M599.7 466.0h1.3M603.4 457.2h1.3M608.3 458.1h1.3M600.6 463.1h1.3M602.7 454.6h1.3M604.4 455.3h1.3M599.2 462.3h1.3M604.0 457.2h1.3" stroke="#e426e4" stroke-width="1.3" stroke-opacity="0.85" fill="none"/>
<path d="M617.6 360.6h1.3M617.2 369.7h1.3M620.5 360.8h1.3M621.3 373.1h1.3M614.4 360.5h1.3M620.8 371.6h1.3M620.2 375.1h1.3M622.1 358.5h1.3M621.5 369.2h1.3M626.5 366.8h1.3M623.4 358.5h1.3M612.6 375.9h1.3M622.8 366.0h1.3M622.5 363.0h1.3M617.8 356.6h1.3M622.6 362.6h1.3M623.6 363.6h1.3M619.1 379.9h1.3M621.4 366.2h1.3M614.0 369.6h1.3M614.5 362.8h1.3M617.2 363.4h1.3M620.0 356.9h1.3M618.7 363.9h1.3M618.7 364.2h1.3M622.7 358.9h1.3M614.5 372.5h1.3M617.9 352.5h1.3M618.2 365.9h1.3M614.7 369.7h1.3M615.7 363.6h1.3M622.6 370.5h1.3M620.7 360.4h1.3M621.7 363.9h1.3M619.9 362.6h1.3M614.7 369.5h1.3M621.4 363.9h1.3M620.1 366.4h1.3M616.1 358.4h1.3M619.6 355.1h1.3M620.2 351.1h1.3M614.7 378.1h1.3M625.0 368.3h1.3M620.7 357.0h1.3M613.1 356.6h1.3M622.5 369.6h1.3M620.5 360.0h1.3M617.4 368.8h1.3M615.6 359.2h1.3M622.7 365.8h1.3M629.1 376.7h1.3M624.4 386.7h1.3M623.8 378.2h1.3M629.0 390.2h1.3M613.3 390.2h1.3M630.6 368.8h1.3M616.3 396.1h1.3M636.0 372.7h1.3M612.2 354.4h1.3M601.0 449.7h1.3M609.9 356.5h1.3M601.1 414.6h1.3M605.8 380.8h1.3M601.9 415.5h1.3M605.0 378.6h1.3M606.8 366.9h1.3M600.8 443.0h1.3M604.1 461.7h1.3M600.8 454.4h1.3M603.0 414.0h1.3M602.8 457.4h1.3M601.8 439.4h1.3M607.4 372.0h1.3M601.8 451.5h1.3M603.0 451.4h1.3M611.4 363.9h1.3M605.5 394.5h1.3M603.4 459.9h1.3M601.7 454.1h1.3M603.4 461.7h1.3M603.0 459.2h1.3M602.1 465.1h1.3M603.9 463.0h1.3M603.4 454.0h1.3M604.5 457.5h1.3M604.5 455.3h1.3M602.3 455.9h1.3M605.8 457.2h1.3M600.4 455.8h1.3M604.8 458.8h1.3M601.8 466.4h1.3M603.1 456.2h1.3M600.6 458.5h1.3M604.6 460.1h1.3M602.1 463.5h1.3M602.5 456.7h1.3M601.7 458.7h1.3M603.7 453.1h1.3M599.8 463.3h1.3M601.3 460.7h1.3M603.5 461.2h1.3M602.6 462.5h1.3M603.3 456.5h1.3M618.2 446.5h1.3M617.4 447.6h1.3M619.0 448.0h1.3" stroke="#2fb4e6" stroke-width="1.3" stroke-opacity="0.9" fill="none"/>
<path d="M621.4 369.3h1.3M619.7 359.2h1.3M620.2 356.6h1.3M612.9 369.4h1.3M611.2 366.4h1.3M617.8 357.8h1.3M616.7 364.9h1.3M619.8 373.6h1.3M614.8 366.3h1.3M622.4 359.3h1.3M617.7 366.5h1.3M619.4 366.0h1.3M617.9 364.1h1.3M602.7 433.2h1.3M602.3 457.4h1.3M600.9 416.8h1.3M601.4 411.0h1.3M602.8 445.8h1.3M600.9 406.5h1.3M609.9 365.9h1.3M605.3 378.9h1.3M601.3 431.7h1.3M605.0 458.9h1.3M604.4 390.6h1.3M602.5 442.6h1.3M605.5 457.7h1.3M604.0 456.5h1.3M602.3 460.4h1.3M600.3 462.4h1.3M603.1 454.8h1.3M600.4 457.3h1.3M601.0 459.6h1.3M602.4 460.9h1.3M604.7 454.5h1.3M605.3 460.2h1.3M603.0 454.0h1.3M599.4 457.9h1.3M605.7 459.2h1.3M602.4 463.1h1.3M599.0 456.6h1.3M603.3 458.9h1.3M601.8 461.1h1.3M603.7 455.7h1.3M605.3 458.0h1.3M602.4 451.8h1.3M605.5 460.7h1.3M601.4 462.6h1.3M601.4 463.3h1.3M601.8 461.3h1.3M607.4 458.5h1.3M606.0 462.0h1.3M599.1 460.5h1.3M603.8 457.9h1.3M602.8 463.3h1.3M602.0 457.5h1.3M602.6 465.7h1.3M603.6 462.6h1.3M607.5 460.0h1.3" stroke="#3f86dc" stroke-width="1.3" stroke-opacity="0.9" fill="none"/>
<path d="M619.6 370.3h1.35M614.8 366.0h1.35M622.7 363.6h1.35M613.2 371.1h1.35M604.5 463.2h1.35M605.0 459.7h1.35M603.5 459.7h1.35M603.6 466.3h1.35M605.2 459.3h1.35M603.2 457.9h1.35M602.1 458.1h1.35M604.2 457.8h1.35M605.0 457.8h1.35M601.8 460.6h1.35M604.2 460.7h1.35M602.2 458.3h1.35M604.0 459.5h1.35M602.2 457.3h1.35M601.4 463.6h1.35M601.3 458.7h1.35M601.9 460.9h1.35M605.7 461.1h1.35M605.9 462.0h1.35M603.3 460.1h1.35M602.3 461.5h1.35M602.6 460.0h1.35M603.9 464.3h1.35M601.9 459.8h1.35M601.8 457.8h1.35M604.9 460.1h1.35M604.0 455.9h1.35M604.2 459.9h1.35M604.7 459.1h1.35M604.4 461.2h1.35M601.0 459.0h1.35M600.5 457.5h1.35M602.4 458.0h1.35M604.6 458.3h1.35M602.5 464.3h1.35M603.6 460.2h1.35M605.1 459.8h1.35M602.3 459.2h1.35M601.8 460.6h1.35M603.5 461.2h1.35M605.5 462.6h1.35M602.7 463.5h1.35M603.2 459.8h1.35M603.3 457.5h1.35M602.6 462.9h1.35" stroke="#1ed57c" stroke-width="1.35" stroke-opacity="0.95" fill="none"/>
</g>
<g id="Df">
<rect x="410" y="564" width="302" height="294" fill="#fcfcfc"/>
<text x="403.4" y="567.2" font-size="13.4" font-weight="bold" textLength="9.6" lengthAdjust="spacingAndGlyphs">D</text>
<text x="471" y="583.5" font-size="14" textLength="47.3" lengthAdjust="spacingAndGlyphs">Control</text>
<text x="611.7" y="584.2" font-size="14" textLength="31.6" lengthAdjust="spacingAndGlyphs">Cdan</text>
<text x="645" y="572.9" font-size="8.4" textLength="17.6" lengthAdjust="spacingAndGlyphs">ΔEry</text>
<path d="M420.3 656.3V589M413.8 600.6L420.3 588.4L426.8 600.6" stroke="#000" stroke-width="2.3" fill="none"/>
<text transform="translate(424.4 768) rotate(-90)" font-size="17" font-weight="bold" fill="#222" textLength="52" lengthAdjust="spacingAndGlyphs">7-AAD</text>
<path d="M421.4 771.5V832.4L494.8 834.6" stroke="#000" stroke-width="2.4" fill="none"/>
<text x="518.5" y="837.4" font-size="17.3" font-weight="bold" fill="#333" textLength="79" lengthAdjust="spacingAndGlyphs">AnnexinV</text>
<path d="M607.7 834.4H703.2M693.6 828.4L704 834.4L693.6 840.4" stroke="#000" stroke-width="2.4" fill="none"/>
<path d="M443 589.7H561.2" stroke="#444" stroke-width="1" fill="none"/>
<path d="M561.2 589.7V783.2" stroke="#b5b5b5" stroke-width="2" fill="none"/>
<path d="M443 589.7V783.2H561.2" stroke="#7a7a7a" stroke-width="1" fill="none"/>
<path d="M442.3 589.7V783.2" stroke="#666" stroke-width="1.6" stroke-dasharray="0.7 2.2" fill="none"/>
<path d="M444 784.3H561.2" stroke="#666" stroke-width="2" stroke-dasharray="0.7 1.9" fill="none"/>
<path d="M496.5 589.7V783.2M443 701.4H561.2" stroke="#5c5c5c" stroke-width="1" fill="none"/>
<text x="433.5" y="592.6" font-size="8.4" font-weight="bold" fill="#333" textLength="4.3" lengthAdjust="spacingAndGlyphs">10</text>
<text x="437.9" y="589.1" font-size="4.6" fill="#333" textLength="1.8" lengthAdjust="spacingAndGlyphs">6</text>
<text x="433.5" y="642.0" font-size="8.4" font-weight="bold" fill="#333" textLength="4.3" lengthAdjust="spacingAndGlyphs">10</text>
<text x="437.9" y="638.5" font-size="4.6" fill="#333" textLength="1.8" lengthAdjust="spacingAndGlyphs">5</text>
<text x="433.5" y="691.0" font-size="8.4" font-weight="bold" fill="#333" textLength="4.3" lengthAdjust="spacingAndGlyphs">10</text>
<text x="437.9" y="687.5" font-size="4.6" fill="#333" textLength="1.8" lengthAdjust="spacingAndGlyphs">4</text>
<text x="433.5" y="739.1" font-size="8.4" font-weight="bold" fill="#333" textLength="4.3" lengthAdjust="spacingAndGlyphs">10</text>
<text x="437.9" y="735.6" font-size="4.6" fill="#333" textLength="1.8" lengthAdjust="spacingAndGlyphs">3</text>
<text x="454.1" y="798.4" font-size="8.4" fill="#3c3c3c" textLength="2.2" lengthAdjust="spacingAndGlyphs">0</text>
<text x="476.2" y="798.4" font-size="8.4" font-weight="bold" fill="#333" textLength="4.4" lengthAdjust="spacingAndGlyphs">10</text>
<text x="480.7" y="794.9" font-size="4.6" fill="#333" textLength="1.8" lengthAdjust="spacingAndGlyphs">3</text>
<text x="504.1" y="798.4" font-size="8.4" font-weight="bold" fill="#333" textLength="4.4" lengthAdjust="spacingAndGlyphs">10</text>
<text x="508.6" y="794.9" font-size="4.6" fill="#333" textLength="1.8" lengthAdjust="spacingAndGlyphs">4</text>
<text x="531.0" y="798.4" font-size="8.4" font-weight="bold" fill="#333" textLength="4.4" lengthAdjust="spacingAndGlyphs">10</text>
<text x="535.5" y="794.9" font-size="4.6" fill="#333" textLength="1.8" lengthAdjust="spacingAndGlyphs">5</text>
<text x="555.8" y="798.4" font-size="8.4" fill="#3c3c3c" textLength="4.2" lengthAdjust="spacingAndGlyphs">1(</text>
<defs><radialGradient id="bl"><stop offset="0" stop-color="#888"/><stop offset="0.8" stop-color="#8a8a8a"/><stop offset="0.92" stop-color="#999" stop-opacity="0.8"/><stop offset="1" stop-color="#aaa" stop-opacity="0"/></radialGradient><filter id="bf" x="-10%" y="-10%" width="120%" height="120%"><feTurbulence type="fractalNoise" baseFrequency="0.5" numOctaves="2" seed="2" result="n"/><feDisplacementMap in="SourceGraphic" in2="n" scale="3.5" xChannelSelector="R" yChannelSelector="G"/></filter></defs>
<g filter="url(#bf)"><rect x="455" y="703.6" width="41" height="37" rx="14" ry="14" fill="url(#bl)"/><ellipse cx="474" cy="722" rx="19" ry="17.6" fill="#898989"/><ellipse cx="484" cy="719" rx="11.5" ry="13.5" fill="#8b8b8b"/></g>
<path d="M503.1 710.4h0.85M480.1 719.3h0.85M465.0 716.0h0.85M469.5 721.0h0.85M480.8 732.6h0.85M478.5 733.4h0.85M481.2 722.7h0.85M472.7 711.4h0.85M455.7 720.6h0.85M473.3 724.8h0.85M479.4 708.3h0.85M466.5 709.8h0.85M487.7 720.2h0.85M476.7 711.9h0.85M459.5 715.2h0.85M473.9 726.1h0.85M456.4 724.7h0.85M464.5 715.8h0.85M471.0 716.8h0.85M480.8 730.4h0.85M479.3 715.7h0.85M480.3 725.1h0.85M485.7 724.0h0.85M455.2 713.4h0.85M470.2 730.8h0.85M473.4 730.7h0.85M478.7 708.9h0.85M475.7 727.0h0.85M480.1 705.9h0.85M480.4 715.2h0.85M483.1 719.9h0.85M480.2 721.4h0.85M473.6 723.1h0.85M483.0 707.1h0.85M498.3 718.9h0.85M490.8 717.9h0.85M496.7 720.7h0.85M456.8 745.4h0.85M470.1 726.8h0.85M488.4 727.4h0.85M485.6 745.1h0.85M484.3 719.8h0.85M488.2 729.8h0.85M483.6 733.5h0.85M479.7 714.6h0.85M461.5 740.5h0.85M459.6 730.4h0.85M484.6 708.8h0.85M476.8 730.8h0.85M457.9 731.7h0.85M461.2 717.3h0.85M478.8 717.5h0.85M468.4 715.1h0.85M453.9 714.7h0.85M476.3 747.8h0.85M490.1 728.4h0.85M467.2 720.0h0.85M462.9 717.6h0.85M457.1 727.2h0.85M488.2 722.3h0.85M477.5 716.3h0.85M481.7 716.8h0.85M472.8 716.1h0.85M463.6 725.4h0.85M492.9 730.0h0.85M457.0 724.0h0.85M460.6 718.7h0.85M465.6 720.6h0.85M480.3 719.3h0.85M493.8 707.3h0.85M454.3 722.3h0.85M468.1 709.3h0.85M473.2 730.9h0.85M469.8 729.2h0.85M487.1 719.6h0.85M466.1 729.1h0.85M481.8 711.1h0.85M466.9 719.3h0.85M475.1 726.5h0.85M478.0 730.0h0.85M484.9 712.1h0.85M486.7 729.5h0.85M487.7 731.3h0.85M481.6 715.6h0.85M493.6 720.4h0.85M497.9 727.0h0.85M474.1 731.8h0.85M490.4 737.9h0.85M493.3 731.2h0.85M461.0 731.7h0.85M474.7 726.1h0.85M491.7 714.2h0.85M492.5 747.1h0.85M482.8 718.5h0.85M493.1 723.7h0.85M489.0 735.1h0.85M456.7 725.2h0.85M456.6 714.3h0.85M483.4 709.2h0.85M466.7 716.9h0.85M479.7 725.5h0.85M481.3 716.4h0.85M466.2 726.1h0.85M464.7 713.1h0.85M484.5 713.3h0.85M464.3 733.6h0.85M502.7 702.6h0.85M482.5 721.4h0.85M460.3 734.4h0.85M477.7 719.4h0.85M460.1 732.3h0.85M476.8 709.0h0.85M479.1 732.4h0.85M486.2 725.3h0.85M455.1 730.6h0.85M465.1 716.2h0.85M476.3 731.1h0.85M469.5 712.0h0.85M486.8 739.3h0.85M466.5 714.3h0.85M454.2 707.2h0.85M494.3 720.2h0.85M471.9 723.6h0.85M482.7 713.2h0.85M472.8 724.4h0.85M488.2 724.2h0.85M496.3 719.3h0.85M471.2 706.9h0.85M474.9 728.3h0.85M472.4 719.7h0.85M463.2 715.4h0.85M469.9 720.6h0.85M488.9 726.9h0.85M486.9 733.9h0.85M469.6 735.6h0.85M476.0 707.7h0.85M467.9 720.6h0.85M456.2 745.8h0.85M474.8 730.5h0.85M460.3 722.6h0.85M478.6 713.5h0.85M478.6 721.5h0.85M480.1 708.8h0.85M481.9 718.5h0.85M497.4 737.3h0.85M481.9 721.0h0.85M478.4 718.2h0.85M495.4 731.1h0.85M466.1 721.4h0.85M481.9 717.1h0.85M474.1 705.0h0.85M496.9 730.4h0.85M479.9 728.6h0.85M493.1 727.8h0.85M497.3 744.3h0.85M498.8 722.0h0.85M476.9 708.4h0.85M455.9 713.8h0.85M471.5 717.7h0.85M479.4 712.6h0.85M463.0 715.7h0.85M486.7 715.8h0.85M479.1 718.5h0.85M467.4 735.9h0.85M458.0 709.2h0.85M481.9 740.3h0.85M478.0 716.4h0.85M486.6 732.7h0.85M493.0 719.8h0.85M462.6 727.5h0.85M481.6 710.1h0.85M459.7 718.8h0.85M496.4 714.2h0.85M481.2 715.0h0.85M457.2 710.5h0.85M469.9 696.7h0.85M486.4 731.0h0.85M470.7 727.5h0.85M483.7 726.6h0.85M458.2 738.0h0.85M468.9 723.6h0.85M467.0 719.5h0.85M492.3 725.4h0.85M497.6 721.0h0.85M475.4 716.0h0.85M459.5 716.3h0.85M476.8 710.6h0.85M503.1 729.9h0.85M474.0 739.1h0.85M454.8 726.1h0.85M473.1 725.9h0.85M463.1 727.2h0.85M479.4 711.7h0.85M469.9 713.2h0.85M475.2 715.5h0.85M497.9 704.7h0.85M500.4 725.1h0.85M479.4 706.1h0.85M492.0 732.5h0.85M478.4 707.4h0.85M505.5 716.2h0.85M457.0 704.2h0.85M482.5 728.9h0.85M461.1 719.6h0.85M493.0 717.6h0.85M463.4 711.9h0.85M487.9 718.4h0.85M474.9 707.8h0.85M466.7 727.5h0.85M477.1 723.3h0.85M470.6 729.6h0.85M488.6 727.9h0.85M459.1 741.3h0.85M479.5 706.8h0.85M481.7 715.1h0.85M488.8 731.6h0.85M481.1 752.1h0.85M490.6 730.2h0.85M472.6 714.4h0.85M506.1 709.5h0.85M462.5 694.6h0.85M488.1 735.6h0.85M475.5 705.0h0.85M467.7 733.1h0.85M455.3 711.3h0.85M487.5 725.2h0.85M467.2 739.1h0.85M479.3 724.5h0.85M480.6 725.5h0.85M491.0 731.3h0.85M467.9 733.9h0.85M475.8 710.4h0.85M474.2 707.5h0.85M488.6 707.7h0.85M492.8 711.9h0.85M473.0 734.2h0.85M479.1 703.8h0.85M473.0 701.9h0.85M483.0 710.3h0.85M473.6 719.6h0.85M456.1 724.4h0.85M496.8 711.5h0.85M467.6 724.8h0.85M489.8 711.9h0.85M477.2 724.7h0.85M487.8 712.5h0.85M505.3 742.2h0.85M458.0 712.8h0.85M479.3 714.4h0.85M468.4 721.1h0.85M465.8 714.7h0.85M477.5 717.0h0.85M479.4 732.0h0.85M488.8 722.1h0.85M500.4 717.1h0.85M486.0 739.9h0.85M477.4 729.7h0.85M469.2 715.3h0.85M477.6 726.2h0.85M479.6 728.2h0.85M479.1 720.4h0.85M467.6 720.2h0.85M475.8 721.2h0.85M461.9 734.4h0.85M488.7 723.8h0.85M469.4 732.7h0.85M472.5 718.9h0.85M482.6 715.8h0.85M476.9 716.4h0.85M482.8 725.8h0.85M484.2 726.0h0.85M479.4 725.4h0.85M485.2 711.7h0.85M461.1 722.3h0.85M477.4 719.0h0.85M493.8 726.4h0.85M490.8 722.5h0.85M458.8 707.6h0.85M488.7 722.0h0.85M469.7 734.8h0.85M496.5 725.6h0.85M491.2 718.5h0.85M464.1 704.8h0.85M488.9 705.9h0.85M470.7 722.4h0.85M482.6 702.6h0.85M472.7 713.3h0.85M493.2 719.7h0.85M467.6 739.0h0.85M477.5 729.7h0.85M479.5 720.0h0.85M484.6 714.3h0.85M458.8 715.0h0.85M483.2 717.7h0.85M488.5 728.9h0.85M478.1 732.9h0.85M480.2 724.9h0.85M472.3 720.6h0.85M474.7 732.4h0.85M494.7 732.7h0.85M478.6 720.4h0.85M478.7 715.9h0.85M475.4 718.3h0.85M481.8 730.2h0.85M489.9 707.9h0.85M490.9 740.8h0.85M473.9 695.7h0.85M487.0 736.2h0.85M484.1 723.0h0.85M467.1 720.3h0.85M478.3 731.7h0.85M457.3 716.2h0.85M484.5 739.5h0.85M477.8 702.8h0.85M461.1 726.0h0.85M488.3 727.3h0.85M457.1 701.8h0.85M485.0 716.2h0.85M477.0 701.3h0.85M471.3 713.5h0.85M477.6 720.6h0.85M463.4 717.2h0.85M488.9 712.2h0.85M478.3 728.0h0.85M496.3 725.9h0.85M478.5 712.1h0.85M478.6 735.2h0.85M481.1 734.1h0.85M469.9 729.7h0.85M472.6 714.6h0.85M468.1 733.8h0.85M482.7 719.9h0.85M472.5 729.9h0.85M470.3 733.1h0.85M479.4 716.0h0.85M473.4 711.0h0.85M462.7 716.6h0.85M469.7 718.0h0.85M466.5 714.9h0.85M479.6 708.2h0.85M482.4 722.5h0.85M474.0 717.7h0.85M475.5 717.5h0.85M470.9 736.0h0.85M489.2 723.5h0.85M496.2 721.9h0.85M455.0 736.7h0.85M455.3 713.9h0.85M469.2 730.6h0.85M469.5 705.1h0.85M473.5 716.4h0.85M466.4 726.4h0.85M476.7 727.2h0.85M475.9 716.2h0.85M474.5 723.6h0.85M471.1 707.9h0.85M503.0 734.1h0.85M496.8 721.5h0.85M482.7 706.6h0.85M485.9 723.2h0.85M476.2 724.2h0.85M465.2 711.3h0.85M462.6 735.3h0.85M477.0 730.5h0.85M482.9 727.1h0.85M484.6 712.2h0.85M455.0 743.0h0.85M487.3 727.2h0.85M490.2 711.5h0.85M461.8 737.6h0.85M477.0 705.2h0.85M474.0 737.8h0.85M462.7 705.3h0.85M480.1 735.4h0.85M481.7 735.7h0.85M455.9 754.8h0.85M463.9 737.5h0.85M482.2 713.3h0.85M468.3 717.9h0.85M466.5 730.0h0.85M472.4 709.9h0.85M485.6 734.9h0.85M460.8 720.7h0.85M468.2 711.5h0.85M465.2 728.4h0.85M470.2 711.8h0.85M484.0 725.1h0.85M479.7 723.1h0.85M468.3 729.9h0.85M467.9 723.9h0.85M477.4 733.4h0.85M473.6 729.9h0.85M454.8 722.9h0.85M477.9 722.6h0.85M453.8 743.2h0.85M465.9 704.3h0.85M477.9 719.5h0.85M483.5 739.5h0.85M455.2 736.2h0.85M502.6 732.7h0.85M466.7 714.6h0.85M483.4 710.6h0.85M468.3 723.7h0.85M477.5 716.2h0.85M474.3 726.3h0.85M486.4 722.9h0.85M489.5 725.3h0.85M474.6 723.6h0.85M466.0 723.9h0.85M477.8 735.0h0.85M473.9 725.1h0.85M506.3 710.2h0.85M477.5 737.4h0.85M467.9 718.0h0.85M466.5 720.0h0.85M473.8 733.4h0.85M484.7 724.1h0.85M497.3 720.2h0.85M455.3 752.9h0.85M464.4 740.0h0.85M464.3 742.0h0.85M466.9 727.9h0.85M469.5 725.5h0.85M482.0 724.2h0.85M485.5 726.0h0.85M476.8 712.6h0.85M470.4 731.7h0.85M476.3 724.1h0.85M471.4 745.8h0.85M490.0 725.9h0.85M478.4 739.7h0.85M490.5 725.0h0.85M473.8 710.4h0.85M492.3 739.3h0.85M504.4 724.9h0.85M486.8 702.2h0.85M484.0 714.5h0.85M466.1 713.6h0.85M465.5 716.8h0.85M482.6 714.9h0.85M471.6 720.5h0.85M500.3 729.9h0.85M468.5 730.0h0.85M495.9 720.5h0.85M484.8 732.9h0.85M459.1 723.5h0.85M474.6 730.3h0.85M491.8 717.2h0.85M457.8 716.9h0.85M476.1 715.4h0.85M478.9 710.2h0.85M482.4 729.4h0.85M500.1 720.8h0.85M488.1 714.9h0.85M467.8 714.0h0.85M474.5 709.1h0.85M454.5 744.6h0.85M472.4 722.0h0.85M478.2 717.7h0.85M473.4 733.3h0.85M479.3 733.1h0.85M461.7 726.8h0.85M465.0 709.0h0.85M484.7 724.4h0.85M484.4 728.3h0.85M478.7 716.3h0.85M474.6 701.6h0.85M492.3 720.8h0.85M485.7 724.9h0.85M458.8 728.2h0.85M501.1 717.8h0.85M482.1 724.1h0.85M471.1 716.2h0.85M463.1 715.7h0.85M464.9 719.3h0.85M484.8 717.3h0.85M471.2 726.8h0.85M474.3 727.4h0.85M474.4 720.4h0.85M477.0 741.1h0.85M482.8 714.3h0.85M473.8 703.0h0.85M465.8 710.2h0.85M476.3 712.8h0.85M471.3 729.1h0.85M477.8 734.5h0.85M468.1 720.3h0.85M478.4 723.2h0.85M477.7 728.0h0.85M459.5 708.8h0.85M458.5 718.8h0.85M471.7 724.0h0.85M475.6 704.1h0.85M482.5 729.2h0.85M468.0 707.0h0.85M482.4 730.9h0.85M464.2 730.7h0.85M479.0 716.7h0.85M455.9 738.7h0.85M479.4 727.9h0.85M479.9 707.7h0.85M462.3 723.8h0.85M492.5 727.7h0.85M474.8 733.3h0.85M489.2 716.7h0.85M466.8 728.0h0.85M472.2 736.2h0.85M474.7 716.9h0.85M488.5 722.3h0.85M484.6 734.2h0.85M483.9 732.5h0.85M475.1 731.5h0.85M471.0 715.4h0.85M477.0 738.5h0.85M471.3 721.3h0.85M479.7 717.5h0.85M471.5 734.6h0.85M455.5 726.8h0.85M486.9 734.3h0.85M478.7 726.7h0.85M469.2 704.8h0.85M478.5 723.7h0.85M481.0 735.1h0.85M506.0 727.1h0.85M496.4 724.0h0.85M480.2 712.3h0.85M479.1 716.0h0.85M478.6 708.4h0.85M489.2 707.0h0.85M481.7 701.6h0.85M475.9 724.7h0.85M485.8 737.3h0.85M461.5 720.6h0.85M473.2 722.4h0.85M490.5 715.9h0.85M463.4 715.7h0.85M486.6 714.1h0.85M454.3 717.4h0.85M489.9 737.8h0.85M468.0 715.3h0.85M485.0 732.2h0.85M475.8 722.6h0.85M485.4 706.5h0.85M493.1 711.5h0.85M475.3 733.8h0.85M473.5 717.7h0.85M503.1 730.6h0.85M496.5 723.5h0.85M460.7 724.9h0.85M472.8 714.3h0.85M514.1 725.9h0.85M454.4 716.9h0.85M471.2 721.0h0.85M483.3 726.6h0.85M498.5 717.8h0.85M472.4 733.0h0.85M490.5 719.5h0.85M469.8 733.8h0.85M483.9 733.9h0.85M489.6 727.5h0.85M478.7 723.9h0.85M476.5 709.6h0.85M482.8 730.9h0.85M485.0 715.6h0.85M473.9 733.9h0.85M489.7 713.1h0.85M458.7 724.4h0.85M458.4 741.6h0.85M474.8 729.3h0.85M453.6 723.5h0.85M478.6 706.7h0.85M498.4 722.2h0.85M481.5 719.1h0.85M478.9 729.0h0.85M480.8 726.3h0.85M456.7 721.8h0.85M460.8 724.9h0.85M467.0 703.9h0.85M495.3 719.2h0.85M471.7 722.1h0.85M473.7 728.6h0.85M495.5 717.7h0.85M483.9 728.9h0.85M460.5 729.0h0.85M487.1 720.5h0.85M471.9 711.7h0.85M488.2 715.0h0.85M477.7 708.2h0.85M472.0 704.7h0.85M465.5 729.3h0.85M461.6 710.6h0.85M466.1 716.5h0.85M461.1 722.9h0.85M467.9 728.3h0.85M480.3 723.5h0.85M479.0 725.7h0.85M492.3 713.6h0.85M492.5 715.6h0.85M497.8 717.0h0.85M476.8 722.4h0.85M487.1 719.7h0.85M458.5 700.6h0.85M465.0 720.5h0.85M459.7 713.3h0.85M494.7 732.5h0.85M488.4 722.2h0.85M490.5 703.8h0.85M492.2 706.0h0.85M463.4 725.1h0.85M461.1 723.7h0.85M478.5 731.9h0.85M473.6 722.3h0.85M471.9 720.3h0.85M471.9 720.7h0.85M481.5 732.7h0.85M481.6 711.8h0.85M460.4 720.5h0.85M499.8 718.1h0.85M495.1 723.3h0.85M471.0 700.3h0.85M465.7 728.6h0.85M476.7 728.8h0.85M490.8 710.0h0.85M481.3 713.9h0.85M476.2 720.1h0.85M465.2 722.1h0.85M464.3 752.0h0.85M507.1 722.5h0.85M488.8 714.2h0.85M460.4 715.2h0.85M474.8 736.3h0.85M477.4 724.4h0.85M475.5 719.6h0.85M483.9 718.4h0.85M485.1 717.2h0.85M473.6 712.7h0.85M473.3 715.8h0.85M477.3 730.2h0.85M502.8 719.5h0.85M452.2 739.3h0.85M486.9 733.4h0.85M478.7 731.4h0.85M473.0 729.0h0.85M468.5 718.2h0.85M472.6 727.0h0.85M473.7 740.0h0.85M468.4 749.0h0.85M478.3 723.6h0.85M476.1 734.6h0.85M471.3 731.9h0.85M475.8 706.5h0.85M477.4 743.6h0.85M465.6 732.5h0.85M462.6 735.6h0.85M463.1 716.2h0.85M478.3 725.7h0.85M474.3 742.4h0.85M487.4 717.2h0.85M483.5 725.1h0.85M482.0 719.8h0.85M471.8 724.0h0.85M464.5 722.2h0.85M511.6 718.9h0.85M455.1 726.2h0.85M483.4 723.4h0.85M482.9 710.7h0.85M469.1 708.9h0.85M481.2 715.3h0.85M480.6 729.8h0.85M486.0 712.8h0.85M477.8 704.0h0.85M464.8 736.3h0.85M479.4 709.8h0.85M462.1 720.1h0.85M467.7 724.0h0.85M454.0 712.7h0.85M475.6 732.9h0.85M468.7 728.3h0.85M494.0 714.4h0.85M488.9 728.5h0.85M469.0 730.1h0.85M489.1 731.1h0.85M464.1 734.2h0.85M487.0 730.7h0.85M459.3 727.2h0.85M496.3 729.1h0.85M466.6 720.7h0.85M487.4 738.7h0.85M492.6 723.1h0.85M472.0 731.0h0.85M482.7 720.8h0.85M476.8 723.5h0.85M472.7 725.1h0.85M494.2 726.4h0.85M483.1 719.8h0.85M484.3 732.3h0.85M491.6 726.4h0.85M489.0 703.3h0.85M488.0 730.8h0.85M462.3 721.7h0.85M482.9 735.1h0.85M486.9 735.0h0.85M476.5 722.2h0.85M482.9 714.5h0.85M463.4 728.8h0.85M473.7 722.3h0.85M473.7 730.3h0.85M467.8 711.1h0.85M460.0 716.8h0.85M475.1 734.7h0.85M458.8 719.0h0.85M459.3 721.1h0.85M482.4 730.6h0.85M476.4 735.2h0.85M473.1 714.1h0.85M467.7 723.7h0.85M468.6 729.3h0.85M486.7 741.8h0.85M479.4 720.6h0.85M464.0 725.4h0.85M477.3 737.5h0.85M481.6 713.1h0.85M493.0 720.3h0.85M476.9 737.9h0.85M484.6 730.1h0.85M469.0 718.8h0.85M485.6 728.4h0.85M481.2 716.5h0.85M459.1 724.5h0.85M480.8 731.4h0.85M490.8 708.2h0.85M459.6 716.7h0.85M485.2 722.3h0.85M473.4 724.8h0.85M459.6 726.4h0.85M467.3 709.6h0.85M473.3 729.4h0.85M468.8 742.3h0.85M462.9 731.4h0.85M489.9 724.6h0.85M467.4 731.7h0.85M460.6 730.5h0.85M475.6 721.6h0.85M463.2 720.4h0.85M470.4 726.9h0.85M478.8 715.9h0.85M475.4 731.3h0.85M488.2 715.8h0.85M480.8 728.0h0.85M467.8 740.3h0.85M485.3 722.2h0.85M475.1 717.6h0.85M455.5 711.7h0.85M457.3 726.0h0.85M452.0 713.8h0.85M459.2 712.8h0.85M469.4 703.1h0.85M460.9 730.4h0.85M454.8 732.6h0.85M480.7 713.4h0.85M478.4 733.8h0.85M484.7 726.0h0.85M478.6 715.8h0.85M460.2 710.2h0.85M488.6 718.9h0.85M488.2 725.8h0.85M463.7 707.6h0.85M478.8 719.0h0.85M457.5 728.8h0.85M472.7 741.0h0.85M487.1 721.0h0.85M473.0 720.0h0.85M462.9 743.3h0.85M492.1 722.3h0.85M487.9 726.0h0.85M475.2 727.4h0.85M492.4 708.6h0.85M468.7 720.6h0.85M467.1 721.5h0.85M458.2 717.3h0.85M484.8 719.3h0.85M475.2 728.7h0.85M497.1 715.4h0.85M468.1 731.0h0.85M483.2 709.5h0.85M465.1 716.4h0.85M475.6 721.8h0.85M486.9 739.9h0.85M490.2 715.7h0.85M468.8 712.6h0.85M465.5 732.7h0.85M463.1 725.1h0.85M475.7 700.7h0.85M467.8 709.5h0.85M479.4 724.4h0.85M493.2 724.0h0.85M472.9 720.6h0.85M490.2 711.3h0.85M472.4 714.6h0.85M470.8 734.6h0.85M468.2 733.4h0.85M466.4 710.3h0.85M457.9 752.0h0.85M475.5 735.4h0.85M473.5 723.9h0.85M465.0 734.2h0.85M484.6 714.3h0.85M485.6 734.5h0.85M490.4 725.8h0.85M490.4 732.9h0.85M477.3 703.8h0.85M463.9 737.5h0.85M466.9 721.3h0.85M473.7 714.9h0.85M497.9 716.0h0.85M495.1 723.1h0.85M472.1 723.0h0.85M459.4 724.4h0.85M483.2 723.0h0.85M477.0 713.9h0.85M484.3 714.1h0.85M469.5 713.5h0.85M494.5 723.7h0.85M472.0 735.0h0.85M471.2 709.3h0.85M478.8 727.8h0.85M488.6 702.2h0.85M467.0 734.5h0.85M482.9 720.6h0.85M454.1 721.3h0.85M466.7 710.7h0.85M479.1 712.2h0.85M477.8 731.0h0.85M470.6 732.4h0.85M493.5 735.8h0.85M464.1 709.1h0.85M464.3 706.9h0.85M466.8 724.7h0.85M477.2 727.1h0.85M494.4 718.7h0.85M464.7 711.3h0.85M462.2 727.3h0.85M494.5 726.1h0.85M471.2 724.0h0.85M490.1 717.5h0.85M485.3 722.8h0.85M469.7 733.1h0.85M488.8 722.0h0.85M466.2 708.9h0.85M465.3 736.2h0.85M478.2 724.5h0.85M483.6 722.8h0.85M480.8 713.8h0.85M492.9 712.6h0.85M465.6 704.9h0.85M469.2 712.5h0.85M473.9 718.0h0.85M477.0 718.3h0.85M493.6 716.7h0.85M492.6 716.6h0.85M463.9 729.1h0.85M470.7 723.4h0.85M479.9 716.5h0.85M478.1 731.2h0.85M471.6 711.9h0.85M470.0 735.0h0.85M472.9 728.1h0.85M480.0 711.0h0.85M474.9 719.7h0.85M483.9 721.3h0.85M468.6 720.0h0.85M466.1 738.2h0.85M495.3 705.8h0.85M463.5 743.0h0.85M472.9 738.2h0.85M468.6 733.2h0.85M459.2 707.1h0.85M473.7 725.9h0.85M472.1 738.9h0.85M468.7 731.8h0.85M468.7 713.1h0.85M485.4 714.8h0.85M462.1 732.4h0.85M468.8 712.5h0.85M475.1 733.2h0.85M481.9 722.3h0.85M469.0 730.2h0.85M473.9 716.5h0.85M478.4 731.6h0.85M459.7 726.0h0.85M488.2 700.8h0.85M481.7 730.2h0.85M479.1 722.8h0.85M465.3 728.7h0.85M495.2 718.5h0.85M488.6 734.0h0.85M479.5 724.8h0.85M472.3 717.2h0.85M469.2 712.5h0.85M470.5 714.1h0.85M471.7 718.9h0.85M490.4 707.7h0.85M464.2 733.5h0.85M490.6 730.2h0.85M478.3 748.7h0.85M478.2 723.7h0.85M490.7 711.9h0.85M472.1 718.9h0.85M457.2 728.2h0.85M496.1 730.1h0.85M470.6 719.1h0.85M463.1 720.6h0.85M480.8 709.1h0.85M486.8 706.8h0.85M467.7 722.1h0.85M486.9 721.5h0.85M459.7 707.5h0.85M477.6 725.1h0.85M480.9 705.5h0.85M481.6 729.6h0.85M464.2 712.8h0.85M484.5 712.3h0.85M484.0 738.6h0.85M467.5 726.2h0.85M482.0 728.2h0.85M481.1 726.3h0.85M470.0 721.4h0.85M484.4 736.7h0.85M484.9 737.9h0.85M486.6 723.1h0.85M485.3 732.5h0.85M455.3 723.6h0.85M453.6 730.1h0.85M491.7 727.1h0.85M486.6 725.5h0.85M483.7 717.8h0.85M508.9 733.1h0.85M492.9 723.1h0.85M486.1 733.6h0.85M478.9 717.2h0.85M492.5 714.4h0.85M481.9 726.7h0.85M459.0 733.7h0.85M481.3 717.0h0.85M487.8 711.4h0.85M491.1 724.8h0.85M472.8 735.4h0.85M477.0 716.8h0.85M479.8 723.7h0.85M456.1 718.0h0.85M473.5 738.7h0.85M485.9 713.2h0.85M477.7 723.0h0.85M492.3 732.8h0.85M476.6 720.8h0.85M457.8 704.4h0.85M466.7 747.4h0.85M477.8 715.3h0.85M485.3 740.6h0.85M475.2 724.6h0.85M494.8 723.6h0.85M472.7 716.1h0.85M485.7 716.7h0.85M476.0 729.8h0.85M463.7 707.5h0.85M479.0 718.9h0.85M468.5 715.1h0.85M491.6 729.8h0.85M478.5 725.9h0.85M480.0 721.4h0.85M463.6 723.0h0.85M492.5 749.3h0.85M480.0 723.5h0.85M468.8 734.6h0.85M457.8 715.9h0.85M463.5 716.6h0.85M482.0 721.4h0.85M465.2 723.8h0.85M490.5 720.4h0.85M454.0 722.0h0.85M494.5 720.8h0.85M483.0 723.4h0.85M478.8 724.5h0.85M506.0 727.7h0.85M458.6 731.4h0.85M475.4 729.2h0.85M481.3 721.6h0.85M478.9 719.2h0.85M462.6 723.6h0.85M460.3 716.2h0.85M493.6 737.1h0.85M478.8 729.7h0.85M484.4 724.4h0.85M463.8 715.9h0.85M498.2 716.4h0.85M469.4 729.1h0.85M466.0 721.8h0.85M464.5 733.8h0.85M480.8 747.1h0.85M489.9 711.6h0.85M460.3 729.5h0.85M478.3 710.8h0.85M483.8 756.8h0.85M472.0 706.6h0.85M486.9 727.6h0.85M457.5 707.4h0.85M474.2 726.2h0.85M471.6 701.5h0.85M457.2 717.0h0.85M470.7 730.0h0.85M480.3 725.3h0.85M482.1 703.3h0.85M461.8 716.3h0.85M453.7 720.2h0.85M483.5 725.7h0.85M496.6 746.2h0.85M456.4 722.7h0.85M468.1 740.0h0.85M478.3 711.6h0.85M512.4 721.5h0.85M476.6 712.4h0.85M506.8 712.9h0.85M465.2 718.0h0.85M468.3 715.5h0.85M483.9 728.0h0.85M465.2 730.0h0.85M462.3 725.7h0.85M480.8 707.7h0.85M465.4 727.0h0.85M474.9 706.8h0.85M472.0 726.8h0.85M477.5 724.2h0.85M471.2 702.2h0.85M473.2 720.9h0.85M470.6 728.0h0.85M490.1 730.3h0.85M490.7 706.1h0.85M479.6 714.6h0.85M474.9 713.3h0.85M463.7 736.7h0.85M493.2 723.8h0.85M470.2 732.8h0.85M477.1 729.0h0.85M489.6 719.4h0.85M480.3 736.8h0.85M486.7 713.7h0.85M456.0 712.1h0.85M486.4 714.2h0.85M469.4 719.6h0.85M494.0 744.4h0.85M476.8 735.1h0.85M477.2 727.0h0.85M474.7 733.0h0.85M476.9 745.6h0.85M468.2 744.2h0.85M461.2 702.9h0.85M473.5 722.5h0.85M478.9 725.4h0.85M478.8 724.5h0.85M476.6 734.2h0.85M471.8 716.0h0.85M458.7 731.1h0.85M491.2 732.0h0.85M477.8 722.9h0.85M478.5 709.2h0.85M467.7 716.8h0.85M485.4 733.1h0.85M462.9 751.3h0.85M467.5 729.3h0.85M486.4 730.3h0.85M467.6 716.7h0.85M477.3 724.2h0.85M477.7 734.1h0.85M495.7 720.9h0.85M476.0 730.3h0.85M483.4 742.5h0.85M503.5 722.9h0.85M477.5 713.3h0.85M470.3 720.2h0.85M474.3 717.3h0.85M488.7 719.9h0.85M454.6 701.7h0.85M494.8 710.6h0.85M467.0 715.2h0.85M455.4 718.7h0.85M464.0 744.8h0.85M454.6 706.0h0.85M484.6 731.9h0.85M465.5 721.5h0.85M462.3 717.6h0.85M469.6 728.2h0.85M463.6 720.9h0.85M476.0 725.4h0.85M458.0 726.5h0.85M493.9 738.6h0.85M479.8 725.8h0.85M497.8 727.7h0.85M477.7 725.5h0.85M472.7 714.7h0.85M466.2 732.9h0.85M470.3 743.3h0.85M460.4 729.1h0.85M467.8 710.7h0.85M475.9 713.2h0.85M482.7 732.1h0.85M483.0 711.6h0.85M494.8 716.9h0.85M470.3 712.3h0.85M478.3 742.7h0.85M483.5 718.7h0.85M475.5 710.8h0.85M484.6 709.4h0.85M469.7 740.2h0.85M483.3 737.9h0.85M462.0 709.2h0.85M480.5 717.7h0.85M490.8 709.5h0.85M478.7 710.0h0.85M489.8 717.8h0.85M473.7 721.6h0.85M470.6 724.9h0.85M491.2 722.6h0.85M481.2 724.1h0.85M484.5 720.5h0.85M465.6 736.5h0.85M500.2 726.6h0.85M471.3 722.6h0.85M485.0 727.2h0.85M468.0 711.3h0.85M474.3 725.7h0.85M474.3 714.2h0.85M463.5 725.2h0.85M483.6 716.6h0.85M464.1 709.9h0.85M476.6 711.1h0.85M488.7 716.4h0.85M486.3 713.8h0.85M474.2 714.7h0.85M478.0 735.0h0.85M465.8 713.0h0.85M489.9 704.7h0.85M471.6 723.7h0.85M470.9 726.5h0.85M480.5 714.6h0.85M466.7 707.0h0.85M474.8 719.5h0.85M476.7 734.2h0.85M498.6 712.5h0.85M477.6 716.5h0.85M467.0 717.9h0.85M493.1 731.5h0.85M481.6 711.7h0.85M466.0 717.3h0.85M473.3 725.6h0.85M475.3 705.2h0.85M473.2 730.4h0.85M484.7 721.5h0.85M471.2 721.7h0.85M494.7 714.0h0.85M464.1 720.0h0.85M480.2 727.2h0.85M468.0 712.4h0.85M466.2 732.1h0.85M481.5 741.1h0.85M471.0 718.4h0.85M472.1 726.1h0.85M462.4 722.2h0.85M485.4 751.0h0.85M472.5 712.2h0.85M462.7 711.9h0.85M488.7 728.7h0.85M467.2 717.1h0.85M462.8 732.4h0.85M459.4 704.4h0.85M480.0 731.4h0.85M479.7 718.8h0.85M480.0 723.9h0.85M474.8 728.1h0.85M466.0 730.8h0.85M476.4 735.8h0.85M472.6 713.3h0.85M498.3 745.6h0.85M471.4 723.8h0.85M491.4 732.9h0.85M494.3 730.7h0.85M521.4 713.5h0.85M486.3 710.1h0.85M495.6 713.1h0.85M467.0 726.2h0.85M481.3 722.4h0.85M471.8 724.6h0.85M485.3 730.5h0.85M474.7 749.1h0.85M482.3 734.3h0.85M463.3 720.7h0.85M486.8 725.9h0.85M462.2 734.0h0.85M481.2 721.3h0.85M481.7 721.2h0.85M479.9 722.2h0.85M483.0 715.1h0.85M487.8 711.4h0.85M506.9 730.6h0.85M492.0 743.6h0.85M488.1 713.6h0.85M480.6 724.1h0.85M476.9 729.0h0.85M476.0 714.8h0.85M470.9 723.8h0.85M482.3 714.0h0.85M496.0 724.7h0.85M470.4 710.6h0.85M476.5 712.7h0.85M484.1 704.2h0.85M455.3 725.2h0.85M471.5 734.7h0.85M472.9 719.5h0.85M457.5 710.9h0.85M528.2 716.9h0.85M461.7 729.3h0.85M504.0 739.5h0.85M493.1 726.5h0.85M454.3 727.8h0.85M502.0 711.5h0.85M503.1 718.2h0.85M481.9 722.6h0.85M457.6 723.9h0.85M490.1 706.5h0.85M476.1 710.1h0.85M478.6 729.1h0.85M476.1 712.7h0.85M492.8 728.9h0.85M459.5 714.3h0.85M466.9 723.2h0.85M490.6 719.8h0.85M459.5 715.4h0.85M483.8 722.4h0.85M459.5 743.3h0.85M505.2 728.8h0.85M465.6 715.3h0.85M500.8 724.0h0.85M460.9 737.6h0.85M479.4 716.8h0.85M473.6 721.2h0.85M475.5 713.7h0.85M473.9 717.9h0.85M461.6 727.9h0.85M482.0 729.3h0.85M469.6 709.8h0.85M472.8 720.2h0.85M476.1 710.0h0.85M473.8 720.4h0.85M479.0 720.4h0.85M463.3 719.8h0.85M475.3 726.8h0.85M476.6 741.2h0.85M482.7 731.2h0.85M483.9 716.3h0.85M479.6 717.7h0.85M470.1 730.9h0.85M482.8 724.2h0.85M465.0 717.0h0.85M485.5 722.1h0.85M475.2 732.8h0.85M463.4 718.1h0.85M489.7 705.4h0.85M472.2 710.8h0.85M485.1 717.9h0.85M471.3 724.2h0.85M471.3 732.9h0.85M476.6 733.9h0.85M477.9 713.6h0.85M516.0 720.5h0.85M475.9 716.2h0.85M506.0 733.6h0.85M493.1 719.2h0.85M475.3 730.0h0.85M480.5 717.0h0.85M468.4 721.8h0.85M485.6 742.2h0.85M489.5 713.2h0.85M470.2 727.1h0.85M481.5 724.7h0.85M474.9 725.6h0.85M474.1 727.7h0.85M466.2 707.5h0.85M483.2 720.5h0.85M487.1 704.7h0.85M490.4 712.3h0.85M484.2 703.0h0.85M495.8 727.5h0.85M493.8 702.3h0.85M466.8 713.4h0.85M464.8 731.3h0.85M466.0 728.8h0.85M485.9 707.7h0.85M457.8 728.0h0.85M496.2 726.9h0.85M464.0 722.8h0.85M485.3 721.6h0.85M480.4 751.3h0.85M476.2 713.9h0.85M474.8 730.3h0.85M462.9 720.8h0.85M488.2 722.0h0.85M473.8 712.8h0.85M480.5 722.9h0.85M488.3 718.7h0.85M472.1 712.3h0.85M480.8 731.0h0.85M465.7 712.3h0.85M462.0 725.7h0.85M453.7 730.9h0.85M482.9 728.8h0.85M499.8 729.5h0.85M467.2 738.2h0.85M496.5 724.9h0.85M484.6 728.1h0.85M465.2 731.5h0.85M459.8 703.1h0.85M467.5 728.7h0.85M489.6 727.1h0.85M477.5 718.2h0.85M457.7 719.4h0.85M466.9 724.6h0.85M495.5 714.4h0.85M485.6 724.4h0.85M463.2 722.6h0.85M470.3 713.9h0.85M476.1 729.3h0.85M455.0 732.8h0.85M467.4 720.8h0.85M468.7 723.2h0.85M480.5 734.8h0.85M493.8 709.0h0.85M501.4 713.1h0.85M475.4 724.5h0.85M497.1 708.2h0.85M482.9 726.1h0.85M472.6 740.5h0.85M475.5 727.8h0.85M483.1 720.4h0.85M472.3 725.7h0.85M460.2 733.8h0.85M476.4 727.4h0.85M468.3 704.8h0.85M480.1 738.0h0.85M464.7 727.1h0.85M470.1 727.7h0.85M493.1 720.4h0.85M459.8 703.5h0.85M473.8 718.8h0.85M476.8 726.6h0.85M481.8 723.1h0.85M468.1 708.5h0.85M459.6 742.4h0.85M490.1 725.6h0.85M502.8 717.2h0.85M486.8 709.2h0.85M466.0 703.4h0.85M487.4 728.5h0.85M452.7 734.1h0.85M494.8 714.0h0.85M478.0 729.2h0.85M473.3 721.2h0.85M506.4 727.1h0.85M472.8 734.2h0.85M483.6 719.9h0.85M473.2 708.8h0.85M470.0 704.7h0.85M483.5 706.5h0.85M477.2 757.8h0.85M482.7 731.8h0.85M498.9 712.9h0.85M471.9 727.5h0.85M488.9 739.7h0.85M494.8 702.7h0.85M462.5 735.7h0.85M460.6 723.8h0.85M489.7 732.2h0.85M478.5 744.8h0.85M472.9 739.6h0.85M497.8 724.0h0.85M491.5 715.2h0.85M487.3 715.0h0.85M494.0 733.1h0.85M485.9 741.9h0.85M460.7 706.1h0.85M476.7 708.6h0.85M463.5 709.1h0.85M473.6 717.8h0.85M479.8 732.0h0.85M475.0 712.2h0.85M467.7 732.8h0.85M476.2 723.7h0.85M486.0 722.6h0.85M462.3 717.1h0.85M474.5 725.8h0.85M457.8 714.3h0.85M458.5 711.1h0.85M479.0 722.9h0.85M482.7 736.8h0.85M461.0 717.0h0.85M481.1 722.5h0.85M477.4 731.1h0.85M501.4 733.0h0.85M478.7 719.4h0.85M488.4 710.6h0.85M466.9 714.2h0.85M492.5 734.8h0.85M476.1 730.7h0.85M481.7 727.2h0.85M489.5 730.2h0.85M499.7 728.0h0.85M488.8 719.7h0.85M489.0 731.9h0.85M493.1 717.5h0.85M463.2 732.1h0.85M485.4 717.1h0.85M481.4 715.4h0.85M472.3 717.8h0.85M463.9 727.8h0.85M468.6 731.1h0.85M499.1 727.9h0.85M478.2 708.1h0.85M472.7 711.5h0.85M483.1 722.9h0.85M492.5 734.7h0.85M465.4 729.3h0.85M472.2 725.7h0.85M465.0 733.8h0.85M486.5 715.7h0.85M486.4 715.6h0.85M473.2 754.6h0.85M480.9 741.4h0.85M492.2 731.1h0.85M492.6 723.9h0.85M481.4 723.9h0.85M484.6 740.4h0.85M490.4 732.6h0.85M465.6 708.1h0.85M464.9 721.8h0.85M468.2 716.1h0.85M480.6 721.2h0.85M485.6 716.4h0.85M484.1 703.5h0.85M477.1 721.9h0.85M492.2 732.9h0.85M465.6 738.4h0.85M469.7 705.4h0.85M478.1 721.4h0.85M504.3 734.5h0.85M474.4 705.7h0.85M497.9 727.0h0.85M472.0 710.8h0.85M478.6 721.1h0.85M463.5 736.3h0.85M489.1 711.8h0.85M454.8 697.3h0.85M487.9 743.0h0.85M491.1 729.4h0.85M486.4 726.8h0.85M492.1 712.7h0.85M474.2 716.1h0.85M494.0 713.6h0.85M472.8 710.3h0.85M475.4 737.6h0.85M462.8 718.7h0.85M482.5 712.9h0.85M473.7 723.5h0.85M479.9 720.2h0.85M478.2 718.2h0.85M496.3 723.5h0.85M468.3 710.6h0.85M468.6 722.9h0.85M490.3 727.5h0.85M470.9 712.5h0.85M468.2 729.0h0.85M484.7 734.5h0.85M470.1 717.0h0.85M484.2 731.6h0.85M477.6 723.1h0.85M473.7 723.2h0.85M481.7 704.4h0.85M469.8 717.6h0.85M474.1 709.9h0.85M465.1 729.8h0.85M468.6 708.5h0.85M483.2 728.7h0.85M492.3 714.8h0.85M455.9 737.4h0.85M482.4 719.4h0.85M495.7 736.2h0.85M474.8 743.8h0.85M461.8 733.5h0.85M477.2 731.1h0.85M465.8 714.8h0.85M457.9 707.0h0.85M484.4 729.6h0.85M474.7 734.8h0.85M476.1 742.5h0.85M486.7 731.3h0.85M478.3 707.5h0.85M462.0 733.6h0.85M487.8 720.3h0.85M461.5 727.5h0.85M479.5 707.5h0.85M487.7 704.7h0.85M461.7 720.7h0.85M485.2 744.6h0.85M473.5 724.8h0.85M468.0 729.2h0.85M497.1 716.4h0.85M461.5 744.1h0.85M465.0 716.2h0.85M491.6 714.3h0.85M477.2 724.1h0.85M483.9 726.8h0.85M499.1 703.6h0.85M490.9 717.0h0.85M492.9 705.3h0.85M484.0 720.9h0.85M468.0 725.2h0.85M476.5 719.7h0.85M476.8 718.9h0.85M470.3 721.9h0.85M470.8 710.8h0.85M471.7 721.5h0.85M482.3 724.2h0.85M473.8 730.2h0.85M470.3 734.4h0.85M491.6 720.6h0.85M462.2 720.5h0.85M477.3 705.6h0.85M481.5 712.7h0.85M476.8 719.8h0.85M476.2 736.7h0.85M473.5 725.1h0.85M479.9 707.0h0.85M455.5 735.2h0.85M466.2 736.1h0.85M502.1 719.4h0.85M478.6 714.0h0.85M463.8 739.1h0.85M470.5 723.4h0.85M461.8 730.6h0.85M481.4 728.7h0.85M464.1 711.5h0.85M477.2 716.1h0.85M468.3 720.5h0.85M504.0 731.5h0.85M497.9 717.4h0.85M472.9 722.3h0.85M500.8 725.1h0.85M462.9 710.7h0.85M467.2 709.6h0.85M468.4 708.8h0.85M476.6 726.7h0.85M462.2 725.4h0.85M499.8 726.0h0.85M483.4 716.0h0.85M489.1 729.9h0.85M495.3 725.2h0.85M462.0 719.3h0.85M486.0 725.0h0.85M473.1 739.6h0.85M478.7 725.2h0.85M467.6 706.7h0.85M495.5 730.5h0.85M486.9 720.5h0.85M459.6 729.6h0.85M486.2 726.1h0.85M468.9 733.0h0.85M470.6 720.5h0.85M464.6 728.6h0.85M481.1 724.6h0.85M457.9 725.2h0.85M477.7 761.7h0.85M495.1 730.7h0.85M471.0 722.4h0.85M459.1 730.4h0.85M455.1 734.8h0.85M474.7 713.2h0.85M483.9 730.4h0.85M479.9 729.3h0.85M466.6 718.8h0.85M491.7 719.9h0.85M458.5 719.0h0.85M488.9 733.7h0.85M459.8 718.3h0.85M488.9 728.4h0.85M475.5 712.8h0.85M453.7 733.9h0.85M488.0 727.1h0.85M471.4 718.5h0.85M470.1 728.6h0.85M468.9 731.8h0.85M467.5 732.3h0.85M461.5 710.3h0.85M479.5 715.1h0.85M490.2 724.3h0.85M469.2 724.4h0.85M462.7 722.6h0.85M466.8 716.5h0.85M473.2 724.1h0.85M485.7 731.4h0.85M495.0 743.5h0.85M500.9 745.6h0.85M481.0 711.1h0.85M462.5 725.4h0.85M470.8 728.7h0.85M468.2 729.5h0.85M482.0 707.6h0.85M504.9 703.6h0.85M472.8 734.8h0.85M471.6 726.1h0.85M477.7 718.7h0.85M469.8 742.4h0.85M488.8 719.9h0.85M492.7 715.4h0.85M487.4 713.8h0.85M478.6 704.4h0.85M469.4 723.4h0.85M490.2 723.3h0.85M458.3 710.5h0.85M477.0 717.1h0.85M501.1 733.9h0.85M481.8 730.0h0.85M474.0 711.5h0.85M472.9 717.9h0.85M468.7 725.0h0.85M473.5 715.1h0.85M492.5 720.4h0.85M483.1 715.0h0.85M500.6 716.9h0.85M493.8 716.7h0.85M481.7 712.5h0.85M471.6 716.4h0.85M478.8 729.0h0.85M498.6 713.8h0.85M493.1 736.8h0.85M464.0 719.3h0.85M472.2 725.4h0.85M489.3 719.1h0.85M474.6 728.7h0.85M493.3 732.7h0.85M478.1 706.2h0.85M498.5 729.7h0.85M456.6 712.2h0.85M476.6 714.8h0.85M462.2 716.9h0.85M477.9 707.4h0.85M457.1 741.9h0.85M497.2 751.1h0.85M472.2 717.3h0.85M487.1 736.8h0.85M481.4 729.1h0.85M479.5 742.7h0.85M476.3 713.5h0.85M477.0 746.3h0.85M478.1 716.5h0.85M495.8 723.9h0.85M488.4 733.3h0.85M491.9 705.6h0.85M480.4 727.7h0.85M448.7 706.8h0.85M459.7 717.7h0.85M480.3 728.8h0.85M461.2 733.9h0.85M490.2 728.9h0.85M470.1 715.5h0.85M472.9 724.2h0.85M505.1 716.6h0.85M482.7 717.1h0.85M468.7 731.6h0.85M461.0 706.5h0.85M486.9 734.8h0.85M469.0 725.9h0.85M474.1 719.9h0.85M480.5 727.0h0.85M473.8 728.9h0.85M485.4 720.6h0.85M464.1 716.0h0.85M457.3 725.7h0.85M477.4 714.8h0.85M452.3 733.3h0.85M484.1 710.6h0.85M473.4 727.5h0.85M456.6 716.7h0.85M483.6 719.0h0.85M469.7 718.7h0.85M470.1 729.3h0.85M473.8 716.1h0.85M487.2 715.9h0.85M465.2 729.8h0.85M465.7 720.8h0.85M485.8 732.2h0.85M478.2 718.5h0.85M463.8 704.9h0.85M466.7 728.7h0.85M465.8 721.6h0.85M472.9 724.0h0.85M474.6 730.8h0.85M479.9 715.1h0.85M475.9 711.8h0.85M482.5 728.6h0.85M479.5 743.7h0.85M468.6 723.3h0.85M477.1 742.9h0.85M489.9 739.9h0.85M469.9 718.7h0.85M483.5 720.3h0.85M473.9 712.0h0.85M465.5 707.4h0.85M473.0 722.9h0.85M482.2 699.8h0.85M455.9 741.3h0.85M468.0 728.5h0.85M483.7 711.1h0.85M489.5 719.1h0.85M464.5 712.9h0.85M468.6 728.3h0.85M483.1 731.1h0.85M500.1 720.0h0.85M473.7 724.4h0.85M495.1 729.7h0.85M487.3 723.8h0.85M484.5 718.5h0.85M493.5 715.8h0.85M479.9 728.5h0.85M490.1 703.0h0.85M476.4 729.4h0.85M488.2 721.0h0.85M470.7 723.1h0.85M479.9 725.3h0.85M489.8 717.3h0.85M481.5 709.8h0.85M491.2 715.9h0.85M485.9 726.8h0.85M472.1 736.4h0.85M464.0 716.4h0.85M462.6 720.5h0.85M463.9 726.2h0.85M478.0 745.2h0.85M459.7 702.9h0.85M489.0 725.2h0.85M458.6 723.0h0.85M491.2 714.9h0.85M471.9 724.9h0.85M459.5 723.6h0.85M479.6 728.4h0.85M485.8 724.6h0.85M468.4 727.5h0.85M464.9 738.0h0.85M465.1 717.4h0.85M484.9 707.6h0.85M461.9 703.8h0.85M481.9 718.7h0.85M454.7 703.4h0.85M457.5 747.2h0.85M476.8 705.7h0.85M492.4 714.2h0.85M473.0 723.3h0.85M461.5 711.6h0.85M473.3 723.4h0.85M493.5 730.3h0.85M470.3 731.2h0.85M481.3 712.4h0.85M487.0 719.0h0.85M484.0 730.5h0.85M477.8 721.4h0.85M481.3 724.9h0.85M470.1 729.4h0.85M482.8 710.5h0.85M488.0 717.5h0.85M475.8 705.3h0.85M467.4 712.5h0.85M470.8 726.4h0.85M476.6 702.3h0.85M469.5 711.8h0.85M486.4 719.0h0.85M466.1 728.6h0.85M470.0 729.6h0.85M491.5 730.8h0.85M466.4 706.2h0.85M459.8 710.0h0.85M483.0 716.7h0.85M475.6 736.9h0.85M466.1 735.0h0.85M476.2 713.2h0.85M466.6 711.9h0.85M476.1 716.4h0.85M476.9 729.2h0.85M493.2 728.6h0.85M457.0 732.8h0.85M480.7 720.4h0.85M462.6 721.9h0.85M463.5 717.9h0.85M473.3 738.9h0.85M518.4 732.4h0.85M488.6 715.2h0.85M486.2 707.7h0.85M475.5 728.2h0.85M464.4 708.9h0.85M484.0 709.8h0.85M455.8 714.2h0.85M469.5 710.5h0.85M463.2 727.3h0.85M463.4 719.6h0.85M485.1 718.1h0.85M473.0 725.6h0.85M484.8 723.7h0.85M480.0 715.4h0.85M506.1 732.7h0.85M480.6 731.2h0.85M471.5 715.7h0.85M496.6 724.2h0.85M504.8 719.1h0.85M477.7 729.8h0.85M484.6 735.3h0.85M491.7 715.1h0.85M460.6 738.1h0.85M483.1 711.4h0.85M496.4 729.4h0.85M473.7 725.6h0.85M468.7 734.1h0.85M480.2 724.0h0.85M476.3 712.8h0.85M461.3 733.3h0.85M495.6 711.6h0.85M503.3 722.0h0.85M460.2 718.5h0.85M491.1 736.9h0.85M473.1 729.0h0.85M457.4 719.3h0.85M481.4 720.4h0.85M453.9 710.3h0.85M490.3 726.1h0.85M475.0 733.5h0.85M483.0 713.7h0.85M495.0 713.9h0.85M481.4 738.8h0.85M466.9 727.9h0.85M471.6 720.6h0.85M474.6 723.5h0.85M464.8 734.2h0.85M482.5 733.3h0.85M492.7 726.9h0.85M479.7 728.9h0.85M467.3 714.1h0.85M460.6 725.0h0.85M480.7 722.9h0.85M464.6 729.0h0.85M486.1 733.0h0.85M466.0 721.1h0.85M498.2 732.1h0.85M478.0 714.9h0.85M474.5 744.5h0.85M486.6 735.7h0.85M482.3 735.3h0.85M482.6 704.9h0.85M471.4 710.3h0.85M463.6 714.5h0.85M484.1 709.9h0.85M476.6 713.3h0.85M489.4 721.5h0.85M471.6 731.3h0.85M471.2 718.3h0.85M492.5 737.9h0.85M473.0 716.7h0.85M496.0 736.9h0.85M468.8 727.1h0.85M466.8 722.1h0.85M480.7 721.2h0.85M454.9 739.1h0.85M483.5 735.5h0.85M481.7 716.7h0.85M468.6 734.5h0.85M458.9 727.5h0.85M492.9 717.7h0.85M486.1 717.4h0.85M491.5 735.1h0.85M487.3 741.0h0.85M479.1 715.8h0.85M463.8 708.6h0.85M486.2 728.9h0.85M474.4 723.0h0.85M459.6 747.5h0.85M485.7 719.5h0.85M474.7 735.1h0.85M466.6 711.7h0.85M455.7 719.7h0.85M494.0 715.4h0.85M483.0 707.8h0.85M452.1 731.1h0.85M487.3 713.5h0.85M464.2 715.0h0.85M485.0 730.6h0.85M479.9 715.9h0.85M469.0 723.8h0.85M485.5 710.9h0.85M473.4 735.2h0.85M485.9 725.4h0.85M469.4 726.3h0.85M472.7 724.0h0.85M483.5 735.6h0.85M469.9 715.7h0.85M472.3 714.1h0.85M467.2 721.9h0.85M478.7 737.3h0.85M474.6 719.1h0.85M478.8 715.4h0.85M482.6 725.0h0.85M469.8 712.4h0.85M473.3 724.9h0.85M480.5 721.8h0.85M471.2 717.5h0.85M456.2 708.0h0.85M472.8 711.4h0.85M475.2 718.3h0.85M469.1 716.5h0.85M468.2 737.6h0.85M482.5 721.0h0.85M471.0 732.0h0.85M494.6 722.7h0.85M495.2 730.5h0.85M460.4 720.2h0.85M476.3 734.3h0.85M479.8 730.3h0.85M490.0 721.2h0.85M465.4 716.1h0.85M466.5 729.7h0.85M466.2 724.0h0.85M461.1 726.0h0.85M492.2 723.1h0.85M490.3 723.2h0.85M469.6 728.9h0.85M465.1 713.1h0.85M472.6 719.1h0.85M478.9 729.9h0.85M461.4 719.1h0.85M473.6 752.3h0.85M496.2 736.4h0.85M455.7 714.1h0.85M466.9 733.9h0.85M465.5 735.6h0.85M467.7 716.7h0.85M478.8 717.0h0.85M470.5 718.4h0.85M477.9 735.9h0.85M485.8 735.8h0.85M493.6 706.6h0.85M483.8 732.8h0.85M489.5 717.3h0.85M462.0 726.7h0.85M468.6 726.2h0.85M473.6 741.4h0.85M484.2 715.5h0.85M472.2 721.7h0.85M481.1 733.6h0.85M479.8 710.3h0.85M475.5 721.8h0.85M484.3 714.7h0.85M463.7 729.2h0.85M469.5 725.6h0.85M468.5 719.5h0.85M458.8 734.6h0.85M472.7 722.4h0.85M492.5 709.9h0.85M488.7 719.7h0.85M484.3 727.7h0.85M475.7 738.9h0.85M481.0 720.2h0.85M477.9 720.5h0.85M499.9 713.4h0.85M474.7 732.2h0.85M455.9 713.2h0.85M483.0 714.4h0.85M459.0 733.1h0.85M473.4 721.9h0.85M472.9 717.6h0.85M464.3 721.0h0.85M471.3 724.5h0.85M480.2 722.9h0.85M491.8 717.9h0.85M472.8 712.6h0.85M483.1 718.0h0.85M481.3 733.4h0.85M486.8 729.5h0.85M467.8 737.3h0.85M490.6 716.0h0.85M484.7 727.3h0.85M460.5 741.7h0.85M477.7 720.8h0.85M485.6 713.4h0.85M491.1 709.4h0.85M467.6 723.1h0.85M471.4 732.8h0.85M476.6 706.7h0.85M466.3 714.6h0.85M483.6 729.6h0.85M467.7 725.0h0.85M461.8 713.1h0.85M472.1 719.3h0.85M498.2 729.9h0.85M475.6 718.2h0.85M487.9 734.3h0.85M481.9 738.0h0.85M477.8 724.7h0.85M474.6 732.5h0.85M472.0 726.0h0.85M496.3 729.5h0.85M483.3 739.8h0.85M469.5 718.2h0.85M461.3 728.5h0.85M478.7 723.6h0.85M484.7 732.8h0.85M475.0 726.2h0.85M462.3 707.1h0.85M466.2 710.0h0.85M466.5 706.5h0.85M478.1 716.8h0.85M476.3 727.2h0.85M461.9 719.1h0.85M471.9 713.6h0.85M462.3 702.1h0.85M468.5 729.3h0.85M479.8 723.0h0.85M493.1 732.6h0.85M481.5 723.0h0.85M468.7 736.3h0.85M471.0 726.9h0.85M479.4 729.5h0.85M474.2 707.3h0.85M474.1 736.7h0.85M464.4 709.7h0.85M469.7 719.1h0.85M487.9 715.2h0.85M477.8 710.2h0.85M471.3 725.2h0.85M482.3 709.8h0.85M471.4 726.8h0.85M459.6 729.8h0.85M476.5 722.4h0.85M484.9 698.7h0.85M492.8 725.4h0.85M483.1 724.3h0.85M481.8 709.4h0.85M463.0 718.0h0.85M471.0 724.8h0.85M489.2 737.7h0.85M475.1 715.4h0.85M473.5 712.4h0.85M477.0 711.0h0.85M473.3 750.9h0.85M461.8 716.1h0.85M481.3 719.5h0.85M478.9 705.1h0.85M451.1 727.5h0.85M491.4 716.9h0.85M469.7 725.6h0.85M471.7 730.8h0.85M479.4 709.8h0.85M487.9 742.0h0.85M456.9 720.2h0.85M472.7 734.1h0.85M481.2 711.5h0.85M468.2 715.6h0.85M472.5 708.9h0.85M472.2 728.7h0.85M481.9 724.8h0.85M496.1 721.7h0.85M484.3 743.3h0.85M472.1 725.2h0.85M489.3 718.5h0.85M483.0 719.1h0.85M481.9 715.5h0.85M467.6 730.0h0.85M470.2 706.9h0.85M490.4 726.4h0.85M459.6 735.5h0.85M467.0 728.8h0.85M473.2 727.7h0.85M492.8 710.1h0.85M470.2 721.6h0.85M472.6 714.9h0.85M476.6 730.3h0.85M464.3 721.1h0.85M467.2 736.6h0.85M487.5 721.4h0.85M482.3 726.6h0.85M477.4 722.4h0.85M457.7 725.5h0.85M485.7 719.2h0.85M454.8 705.8h0.85M468.0 720.8h0.85M458.7 708.6h0.85M463.5 707.1h0.85M467.6 713.6h0.85M488.1 731.3h0.85M467.6 707.9h0.85M479.5 704.3h0.85M456.1 711.5h0.85M460.7 719.2h0.85M478.1 703.9h0.85M495.6 719.8h0.85M454.8 705.7h0.85M487.8 733.6h0.85M479.6 730.5h0.85M458.2 723.3h0.85M462.6 731.3h0.85M467.7 724.5h0.85M482.4 726.4h0.85M464.4 732.1h0.85M471.1 732.1h0.85M480.5 712.8h0.85M482.9 731.7h0.85M477.9 718.0h0.85M482.0 745.9h0.85M457.5 726.0h0.85M483.3 731.6h0.85M468.7 742.5h0.85M482.7 709.2h0.85M467.1 740.9h0.85M455.5 730.5h0.85M468.7 721.6h0.85M480.4 714.2h0.85M479.7 725.8h0.85M466.1 723.9h0.85M483.7 724.0h0.85M491.1 724.5h0.85M465.9 742.7h0.85M483.8 715.4h0.85M499.8 726.6h0.85M488.0 723.8h0.85M489.3 727.8h0.85M462.6 727.1h0.85M483.2 703.6h0.85M466.6 727.4h0.85M468.8 728.5h0.85M490.2 725.8h0.85M454.7 705.8h0.85M489.6 712.6h0.85M488.2 716.7h0.85M491.5 736.0h0.85M473.8 733.1h0.85M476.9 739.7h0.85M473.0 743.1h0.85M480.2 721.7h0.85M490.0 718.7h0.85M480.2 722.1h0.85M483.7 706.7h0.85M490.8 731.6h0.85M468.4 712.9h0.85M448.3 721.9h0.85M480.5 739.1h0.85M459.3 736.9h0.85M488.0 736.7h0.85M471.8 716.1h0.85M482.7 724.0h0.85M473.5 726.6h0.85M470.4 712.4h0.85M472.9 736.6h0.85M491.7 710.7h0.85M472.9 719.2h0.85M483.2 718.3h0.85M461.1 714.2h0.85M494.6 722.8h0.85M479.5 713.1h0.85M478.3 732.7h0.85M493.6 736.3h0.85M481.1 720.8h0.85M475.3 727.9h0.85M464.4 729.8h0.85M461.4 722.0h0.85M466.7 733.9h0.85M480.7 717.4h0.85M472.2 720.1h0.85M487.9 715.1h0.85M471.5 727.6h0.85M468.9 724.7h0.85M476.5 727.7h0.85M494.5 728.0h0.85M507.8 720.1h0.85M500.2 737.0h0.85M494.3 730.3h0.85M500.8 724.6h0.85M503.2 716.7h0.85M497.1 709.4h0.85M494.2 718.8h0.85M500.2 717.2h0.85M496.8 712.6h0.85M500.3 713.7h0.85M500.2 715.7h0.85M494.2 718.7h0.85M502.3 714.0h0.85M510.4 713.6h0.85M498.4 732.1h0.85M495.3 711.1h0.85M503.8 718.2h0.85M499.8 715.2h0.85M499.1 720.9h0.85M507.5 716.0h0.85M497.4 700.0h0.85M494.0 724.0h0.85M502.3 720.9h0.85M508.7 712.7h0.85M497.8 712.3h0.85M508.1 716.5h0.85M498.6 703.5h0.85M494.4 723.1h0.85M505.0 708.3h0.85M496.7 714.8h0.85M497.8 725.7h0.85M497.9 718.6h0.85M510.5 728.1h0.85M494.5 726.7h0.85M498.0 717.4h0.85M497.2 720.2h0.85M510.5 717.8h0.85M495.5 722.7h0.85M508.1 732.1h0.85M496.1 717.4h0.85M521.3 724.0h0.85M509.2 703.3h0.85M504.5 718.4h0.85M502.4 739.8h0.85M498.2 721.7h0.85M503.0 731.1h0.85M494.6 716.3h0.85M511.3 707.3h0.85M499.6 727.0h0.85M497.8 714.6h0.85M509.0 713.9h0.85M507.0 719.0h0.85M495.5 732.6h0.85M515.7 702.1h0.85M496.1 725.4h0.85M508.2 715.0h0.85M494.3 718.8h0.85M502.3 723.7h0.85M494.8 721.3h0.85M504.6 718.1h0.85M519.8 709.6h0.85M508.6 715.4h0.85M505.3 722.2h0.85M507.5 713.0h0.85M519.4 706.5h0.85M494.3 709.7h0.85M505.7 717.7h0.85M502.0 714.4h0.85M500.8 713.7h0.85M510.9 715.5h0.85M495.6 708.8h0.85M507.0 714.7h0.85M500.7 720.5h0.85M498.5 718.4h0.85M496.4 731.7h0.85M495.1 713.1h0.85M504.3 715.1h0.85M501.2 717.3h0.85M497.1 713.7h0.85M501.8 730.7h0.85M500.4 722.8h0.85M513.7 722.0h0.85M496.1 712.0h0.85M494.5 708.8h0.85M494.8 722.5h0.85M494.7 725.2h0.85M494.3 717.6h0.85M494.6 724.8h0.85M505.5 726.8h0.85M503.1 708.6h0.85M498.7 708.5h0.85M494.2 730.3h0.85M503.1 713.7h0.85M497.1 715.9h0.85M502.0 724.1h0.85M499.0 729.3h0.85M499.3 716.1h0.85M496.7 711.6h0.85M524.8 724.0h0.85M507.4 715.0h0.85M498.2 728.8h0.85M502.2 724.0h0.85M499.2 714.8h0.85M501.2 705.6h0.85M496.0 718.9h0.85M503.4 728.3h0.85M495.4 709.5h0.85M502.1 719.8h0.85M496.9 709.4h0.85M515.4 724.5h0.85M496.2 716.1h0.85M494.5 725.9h0.85M505.2 714.0h0.85M498.3 724.1h0.85M497.2 710.9h0.85M497.8 723.2h0.85M499.8 732.5h0.85M514.7 725.4h0.85M497.1 713.1h0.85M494.7 713.6h0.85M504.3 717.9h0.85M498.0 723.7h0.85M505.8 719.3h0.85M508.2 721.3h0.85M502.5 712.9h0.85M494.9 727.0h0.85M503.7 723.5h0.85M503.7 727.4h0.85M499.2 720.0h0.85M500.6 727.2h0.85M499.8 739.6h0.85M507.7 730.7h0.85M502.2 714.9h0.85M503.3 708.0h0.85M495.2 721.3h0.85M499.4 720.8h0.85M495.3 712.0h0.85M499.2 725.3h0.85M506.0 706.0h0.85M496.4 708.4h0.85M497.8 722.1h0.85M498.1 726.2h0.85M494.1 725.3h0.85M501.6 739.8h0.85M496.6 726.1h0.85M502.0 712.2h0.85M503.0 720.9h0.85M495.6 723.0h0.85M502.8 714.3h0.85M497.8 730.9h0.85M494.4 721.5h0.85M500.5 708.0h0.85M503.4 708.7h0.85M506.0 708.1h0.85M513.1 714.4h0.85M497.5 730.1h0.85M508.5 707.6h0.85M502.5 730.4h0.85M502.1 719.1h0.85M511.4 708.2h0.85M506.4 704.9h0.85M511.5 706.9h0.85M499.5 725.7h0.85M494.7 719.1h0.85M513.5 726.6h0.85M497.2 717.2h0.85M494.5 713.0h0.85M500.8 719.6h0.85M494.5 728.9h0.85M499.4 719.1h0.85M500.3 711.9h0.85M506.9 729.9h0.85M504.3 713.2h0.85M509.0 704.3h0.85M511.3 716.9h0.85M497.5 726.7h0.85M503.2 723.0h0.85M494.9 724.5h0.85M504.3 723.8h0.85M505.1 702.0h0.85M501.9 716.4h0.85M496.7 721.5h0.85M495.2 731.8h0.85M507.8 701.4h0.85M508.3 721.2h0.85M497.1 706.6h0.85M512.3 710.1h0.85M494.2 741.8h0.85M494.2 715.3h0.85M498.1 704.1h0.85M500.5 718.7h0.85M500.5 718.5h0.85M496.4 713.8h0.85M502.4 719.6h0.85M499.3 709.1h0.85M496.5 718.9h0.85M503.9 720.9h0.85M520.3 706.8h0.85M494.5 715.3h0.85M495.8 706.4h0.85M516.4 713.8h0.85M513.9 710.7h0.85M494.2 707.2h0.85M498.2 725.6h0.85M518.7 702.9h0.85M495.2 716.5h0.85M505.1 713.3h0.85M507.5 739.5h0.85M501.1 729.9h0.85M494.4 730.6h0.85M506.5 730.3h0.85M501.5 731.5h0.85M504.5 719.9h0.85M494.1 724.2h0.85M503.7 718.0h0.85M505.5 718.5h0.85M500.2 720.3h0.85M497.6 726.6h0.85M495.3 716.0h0.85M498.3 713.2h0.85M496.8 715.3h0.85M504.3 729.0h0.85M507.2 718.2h0.85M495.8 714.4h0.85M506.2 711.8h0.85M509.2 715.0h0.85M499.6 717.2h0.85M499.6 706.8h0.85M494.3 724.1h0.85M497.8 733.1h0.85M497.4 728.0h0.85M514.9 711.8h0.85M500.1 704.3h0.85M505.2 717.7h0.85M498.5 724.4h0.85M505.8 720.9h0.85M502.0 708.4h0.85M511.5 714.2h0.85M507.8 709.1h0.85M501.5 715.3h0.85M507.9 720.7h0.85M508.7 714.4h0.85M494.4 714.5h0.85M503.1 718.2h0.85M498.3 714.0h0.85M507.1 715.5h0.85M494.4 727.3h0.85M506.0 703.3h0.85M497.3 719.6h0.85M504.6 711.5h0.85M495.4 739.0h0.85M494.7 719.0h0.85M506.8 725.6h0.85M500.6 730.2h0.85M495.4 732.3h0.85M497.3 701.6h0.85M510.6 725.3h0.85M496.5 729.0h0.85M494.3 719.4h0.85M497.1 713.5h0.85M504.1 708.4h0.85M504.2 721.6h0.85M495.1 716.7h0.85M500.0 727.2h0.85M502.3 710.3h0.85M511.1 733.5h0.85M499.1 723.2h0.85M494.6 706.2h0.85M507.7 727.5h0.85M498.0 722.6h0.85M494.3 716.6h0.85M506.3 710.5h0.85M499.4 713.7h0.85M499.9 719.3h0.85M505.8 710.6h0.85M497.5 713.7h0.85M498.4 730.5h0.85M508.8 732.6h0.85M506.6 732.4h0.85M495.4 711.9h0.85M502.3 703.8h0.85M502.3 700.0h0.85M503.1 710.7h0.85M495.2 710.6h0.85M498.3 723.0h0.85M511.9 729.8h0.85M512.3 697.5h0.85M495.0 726.7h0.85M503.0 716.4h0.85M502.7 702.8h0.85M495.9 725.2h0.85M507.4 718.3h0.85M497.4 720.0h0.85M503.8 712.6h0.85M518.3 723.9h0.85M500.5 727.3h0.85M495.1 717.7h0.85M496.9 731.4h0.85M513.9 717.5h0.85M504.1 716.9h0.85M510.1 716.0h0.85M499.5 729.2h0.85M499.5 706.1h0.85M501.0 724.1h0.85M504.9 729.3h0.85M499.4 715.5h0.85M513.3 710.6h0.85M496.2 732.3h0.85M497.0 710.6h0.85M500.1 720.0h0.85M497.2 724.7h0.85M499.8 721.5h0.85M515.8 724.2h0.85M500.1 717.8h0.85M494.4 720.3h0.85M520.2 712.9h0.85M497.0 721.1h0.85M509.9 715.8h0.85M524.8 714.4h0.85M496.9 723.1h0.85M499.0 737.8h0.85M514.3 717.0h0.85M498.4 718.0h0.85M506.7 719.2h0.85M513.6 708.0h0.85M497.3 724.5h0.85M501.2 716.7h0.85M506.7 713.5h0.85M499.1 720.4h0.85M494.8 709.8h0.85M514.3 706.1h0.85M494.9 715.4h0.85M497.0 726.2h0.85M504.9 722.1h0.85M513.0 716.9h0.85M501.4 721.2h0.85M511.1 728.0h0.85M497.7 720.2h0.85M507.4 714.4h0.85M501.3 729.4h0.85M499.2 729.5h0.85M497.1 709.8h0.85M515.5 712.4h0.85M502.7 700.5h0.85M494.7 724.1h0.85M501.0 735.0h0.85M516.2 694.8h0.85M494.5 727.3h0.85M500.7 709.2h0.85M499.3 727.3h0.85M498.1 705.4h0.85M496.0 728.9h0.85M501.1 703.9h0.85M497.6 714.3h0.85M508.2 705.8h0.85M499.5 720.1h0.85M494.6 709.0h0.85M495.4 727.7h0.85M505.7 728.7h0.85M499.7 705.8h0.85M502.3 715.7h0.85M498.8 732.9h0.85M495.3 732.5h0.85M516.1 715.1h0.85M494.7 716.5h0.85M495.4 716.0h0.85M508.4 714.4h0.85M499.7 717.3h0.85M500.0 717.8h0.85M504.0 698.1h0.85M502.3 710.8h0.85M494.9 723.5h0.85M496.7 712.2h0.85M508.9 710.2h0.85M499.3 708.2h0.85M495.3 720.8h0.85M496.1 723.8h0.85M498.3 714.9h0.85M503.3 696.3h0.85M497.1 720.1h0.85M505.9 702.6h0.85M499.3 705.9h0.85M511.8 705.7h0.85M509.4 722.6h0.85M494.3 719.9h0.85M503.7 712.0h0.85M500.2 731.5h0.85M504.2 713.1h0.85M515.9 707.5h0.85M501.0 723.0h0.85M518.4 720.2h0.85M497.1 720.2h0.85M494.9 706.1h0.85M506.1 719.9h0.85M510.9 716.0h0.85M513.8 716.3h0.85M497.5 719.4h0.85M505.3 712.8h0.85M496.9 728.4h0.85M494.1 734.0h0.85M506.4 701.6h0.85M497.7 715.5h0.85M499.3 737.0h0.85M501.6 733.3h0.85M501.2 710.3h0.85M496.6 710.9h0.85M501.8 714.4h0.85M504.1 732.9h0.85M503.7 714.8h0.85M494.1 718.5h0.85M504.0 707.8h0.85M506.8 708.8h0.85M502.1 710.3h0.85M507.9 721.5h0.85M510.5 724.7h0.85M505.4 722.4h0.85M502.7 727.0h0.85M518.6 718.6h0.85M499.0 722.0h0.85M505.5 701.7h0.85M497.3 706.6h0.85M503.4 705.8h0.85M497.5 720.2h0.85M495.1 728.3h0.85M498.5 725.1h0.85M498.0 702.7h0.85M494.2 716.6h0.85M510.9 721.7h0.85M499.5 714.4h0.85M499.1 714.3h0.85M501.4 703.2h0.85M522.7 718.6h0.85M520.6 700.6h0.85M498.1 715.9h0.85M503.5 730.1h0.85M501.7 716.0h0.85M506.7 716.7h0.85M501.4 727.6h0.85M499.4 728.5h0.85M500.0 738.6h0.85M497.9 728.9h0.85M510.7 709.2h0.85M502.4 717.7h0.85M497.1 721.2h0.85M507.6 726.7h0.85M495.0 722.9h0.85M495.9 714.8h0.85M506.1 721.1h0.85M502.1 721.6h0.85M497.1 720.5h0.85M498.7 721.8h0.85M502.1 717.5h0.85M508.0 742.5h0.85M505.2 716.3h0.85M514.4 708.9h0.85M500.4 706.8h0.85M511.9 723.8h0.85M501.9 706.2h0.85M496.8 720.9h0.85M500.3 719.6h0.85M501.0 727.1h0.85M499.5 717.2h0.85M502.8 709.9h0.85M502.7 710.7h0.85M509.0 704.9h0.85M500.2 712.1h0.85M494.9 721.0h0.85M495.7 701.5h0.85M514.8 717.3h0.85M506.9 724.5h0.85M504.6 709.8h0.85M500.3 707.2h0.85M507.8 714.4h0.85M495.8 727.2h0.85M514.1 715.0h0.85M498.3 729.8h0.85M494.3 710.4h0.85M495.7 722.0h0.85M499.0 707.3h0.85M511.1 717.6h0.85M506.9 716.6h0.85M505.2 727.6h0.85M495.8 718.5h0.85M495.8 741.8h0.85M514.5 731.3h0.85M494.4 710.1h0.85M501.5 717.1h0.85M501.3 722.6h0.85M504.9 730.4h0.85M512.2 714.2h0.85M507.9 699.7h0.85M530.0 714.8h0.85M498.4 729.4h0.85M497.0 731.5h0.85M499.1 709.7h0.85M495.6 698.6h0.85M502.3 728.4h0.85M497.9 731.7h0.85M498.0 720.1h0.85M505.1 724.8h0.85M499.1 716.0h0.85M494.9 732.6h0.85M503.1 704.9h0.85M496.5 717.1h0.85M495.0 726.3h0.85M507.9 717.3h0.85M494.5 728.7h0.85M500.8 725.3h0.85M503.1 727.5h0.85M501.0 728.9h0.85M497.4 719.2h0.85M507.4 706.7h0.85M506.0 711.7h0.85M502.8 740.7h0.85M497.8 711.9h0.85M499.6 725.3h0.85M506.4 721.3h0.85M501.2 722.5h0.85M496.4 726.1h0.85M505.8 723.2h0.85M497.5 726.8h0.85M501.9 714.5h0.85M498.0 709.3h0.85M498.0 712.0h0.85M501.6 699.0h0.85M499.7 742.0h0.85M508.8 725.6h0.85M504.0 714.6h0.85M499.2 725.2h0.85M499.0 719.6h0.85M498.7 704.5h0.85M506.3 729.4h0.85M496.6 739.1h0.85M500.8 716.6h0.85M505.2 709.0h0.85M495.9 730.6h0.85M496.9 716.5h0.85M498.3 719.7h0.85M499.3 727.2h0.85M497.4 725.0h0.85M500.3 718.7h0.85M498.4 731.2h0.85M507.8 714.9h0.85M499.2 725.0h0.85M497.9 735.3h0.85M494.5 726.4h0.85M499.2 711.5h0.85M504.0 720.6h0.85M502.8 727.7h0.85M495.6 733.1h0.85M499.1 726.4h0.85M495.5 721.4h0.85M502.0 710.8h0.85M497.6 725.6h0.85M523.6 722.7h0.85M507.7 720.9h0.85M496.1 727.0h0.85M496.8 709.1h0.85M495.6 715.2h0.85M507.2 726.2h0.85M500.1 724.2h0.85M496.9 716.7h0.85M497.1 721.4h0.85M498.7 740.5h0.85M512.8 719.0h0.85M501.3 709.4h0.85M507.1 705.2h0.85M503.7 709.1h0.85M498.3 719.0h0.85M499.3 725.1h0.85M534.1 720.1h0.85M505.9 722.5h0.85M501.2 713.5h0.85M495.8 742.0h0.85M501.9 724.7h0.85M511.6 702.8h0.85M496.8 724.4h0.85M495.5 724.6h0.85M503.4 715.3h0.85M497.5 705.6h0.85M497.3 728.0h0.85M502.5 712.8h0.85M506.9 725.6h0.85M511.2 694.9h0.85M505.9 719.5h0.85M518.2 726.2h0.85M499.6 727.1h0.85M496.4 730.8h0.85M502.2 715.7h0.85M496.3 725.3h0.85M496.7 711.9h0.85M503.0 730.4h0.85M495.5 720.3h0.85M507.7 726.5h0.85M503.2 709.5h0.85M508.3 736.1h0.85M499.8 726.1h0.85M495.0 716.9h0.85M505.3 728.5h0.85M505.5 719.8h0.85M494.7 736.2h0.85M497.9 715.5h0.85M510.3 718.0h0.85M496.1 721.1h0.85M505.3 716.5h0.85M514.8 712.3h0.85M494.1 708.8h0.85M513.8 724.2h0.85M509.6 712.2h0.85M504.5 722.0h0.85M498.9 719.3h0.85M501.5 704.9h0.85M501.0 723.2h0.85M500.9 708.1h0.85M496.2 707.3h0.85M498.6 744.9h0.85M504.1 725.8h0.85M510.5 710.4h0.85M495.8 715.3h0.85M503.1 727.2h0.85M516.2 714.8h0.85M514.5 718.5h0.85M497.0 716.4h0.85M500.7 734.4h0.85M500.5 697.3h0.85M511.6 716.4h0.85M502.6 715.2h0.85M508.5 718.8h0.85M496.6 718.9h0.85M495.1 720.3h0.85M494.2 723.9h0.85M502.5 739.7h0.85M499.9 720.0h0.85M503.0 712.3h0.85M501.2 720.5h0.85M498.6 722.1h0.85M507.0 727.4h0.85M497.4 720.8h0.85M497.2 709.5h0.85M522.6 722.1h0.85M499.7 714.4h0.85M504.9 718.6h0.85M497.5 728.4h0.85M497.9 719.6h0.85M497.8 707.8h0.85M499.4 711.9h0.85M501.2 709.3h0.85M494.2 709.4h0.85M498.1 715.3h0.85M459.9 740.3h0.85M470.8 749.3h0.85M478.2 741.7h0.85M480.5 740.2h0.85M479.0 752.4h0.85M464.5 741.7h0.85M459.9 741.4h0.85M458.4 746.7h0.85M485.4 745.3h0.85M471.2 760.9h0.85M466.6 753.7h0.85M467.6 765.3h0.85M465.9 745.6h0.85M466.0 741.4h0.85M468.7 750.4h0.85M478.0 761.1h0.85M461.5 748.3h0.85M467.4 750.9h0.85M460.8 775.8h0.85M471.1 749.5h0.85M475.2 752.3h0.85M470.6 751.8h0.85M464.4 740.5h0.85M459.7 740.9h0.85M470.9 738.7h0.85M467.1 744.7h0.85M470.3 738.7h0.85M469.5 746.3h0.85M475.6 750.9h0.85M461.4 741.5h0.85M460.4 747.9h0.85M468.2 753.2h0.85M460.3 740.2h0.85M485.3 741.6h0.85M455.0 742.0h0.85M468.4 751.8h0.85M481.6 743.2h0.85M466.9 749.3h0.85M459.9 741.7h0.85M471.2 752.4h0.85M480.7 739.8h0.85M462.8 744.0h0.85M485.6 745.5h0.85M470.5 741.7h0.85M465.3 741.4h0.85M473.5 742.9h0.85M472.9 744.8h0.85M485.4 740.3h0.85M467.1 738.7h0.85M475.0 758.5h0.85M489.2 745.2h0.85M457.1 750.4h0.85M472.2 738.3h0.85M473.0 743.9h0.85M463.2 751.6h0.85M467.9 739.5h0.85M459.2 741.7h0.85M471.9 749.1h0.85M469.9 748.9h0.85M465.9 739.1h0.85M457.7 745.2h0.85M476.6 740.8h0.85M480.7 745.6h0.85M466.9 749.3h0.85M464.3 750.7h0.85M463.2 752.9h0.85M478.4 743.0h0.85M466.3 747.4h0.85M455.7 743.2h0.85M475.8 750.3h0.85M454.1 749.3h0.85M473.1 772.8h0.85M467.3 749.5h0.85M473.3 743.1h0.85M463.9 749.6h0.85M462.8 743.0h0.85M475.1 744.3h0.85M474.1 753.9h0.85M472.8 744.0h0.85M456.8 742.7h0.85M465.0 755.7h0.85M476.7 752.1h0.85M458.1 741.4h0.85M461.1 755.4h0.85M462.9 739.8h0.85M472.4 743.3h0.85M467.9 739.7h0.85M472.5 741.7h0.85M470.5 749.0h0.85M464.6 754.5h0.85M473.9 748.3h0.85M461.5 756.7h0.85M460.7 741.8h0.85M478.7 746.3h0.85M460.5 755.6h0.85M468.4 754.7h0.85M461.1 743.5h0.85M464.4 751.2h0.85M486.7 741.0h0.85M470.7 745.3h0.85M471.3 738.7h0.85M457.3 739.1h0.85M464.0 742.6h0.85M469.3 750.1h0.85M469.4 744.2h0.85M483.5 749.1h0.85M479.8 748.4h0.85M481.6 745.9h0.85M476.9 748.3h0.85M476.8 743.1h0.85M475.1 741.8h0.85M481.5 746.8h0.85M465.9 752.5h0.85M461.6 747.8h0.85M468.7 750.7h0.85M478.9 750.7h0.85M467.2 738.8h0.85M469.6 745.5h0.85M476.1 743.7h0.85M461.6 742.8h0.85M475.9 750.1h0.85M460.0 738.0h0.85M477.6 757.0h0.85M457.2 749.8h0.85M460.0 744.6h0.85M472.1 761.0h0.85M469.0 741.9h0.85M487.4 759.0h0.85M477.3 745.0h0.85M469.5 764.6h0.85M475.8 756.7h0.85M478.2 739.8h0.85M482.3 743.0h0.85M469.4 752.6h0.85M473.2 740.2h0.85M465.2 745.1h0.85M461.5 748.9h0.85M464.5 745.0h0.85M472.0 754.3h0.85M471.3 743.6h0.85M475.6 741.9h0.85M468.0 746.3h0.85M467.2 744.0h0.85M468.1 743.4h0.85M476.4 758.1h0.85M462.5 753.6h0.85M455.1 740.6h0.85M473.5 743.3h0.85M459.1 757.8h0.85M481.1 747.8h0.85M455.5 744.6h0.85M469.9 750.3h0.85M454.3 752.5h0.85M460.3 748.7h0.85M459.1 761.8h0.85M483.9 740.2h0.85M467.0 739.5h0.85M480.6 744.8h0.85M465.5 751.2h0.85M465.3 743.6h0.85M469.4 748.1h0.85M469.3 738.8h0.85M467.6 766.5h0.85M469.6 761.5h0.85M472.4 758.0h0.85M465.4 743.4h0.85M463.4 741.5h0.85M476.0 757.7h0.85M469.6 758.7h0.85M455.8 750.4h0.85M464.2 744.5h0.85M471.1 750.9h0.85M463.5 741.5h0.85M457.7 751.2h0.85M468.1 756.6h0.85M470.2 741.3h0.85M470.1 744.0h0.85M469.9 742.2h0.85M462.5 745.7h0.85M454.5 744.4h0.85M470.9 748.0h0.85M473.9 739.9h0.85M460.5 743.9h0.85M470.8 740.1h0.85M462.8 747.5h0.85M482.8 738.5h0.85M470.4 748.7h0.85M477.9 755.3h0.85M469.9 743.3h0.85M477.5 761.6h0.85M473.0 741.1h0.85M472.7 762.4h0.85M478.6 749.4h0.85M465.6 743.8h0.85M461.0 747.7h0.85M475.1 751.8h0.85M468.9 741.2h0.85M460.8 739.5h0.85M464.3 743.2h0.85M477.1 742.4h0.85M467.4 739.5h0.85M469.9 748.8h0.85M472.2 752.4h0.85M457.7 759.8h0.85M465.8 750.8h0.85M466.0 750.8h0.85M455.4 747.4h0.85M461.4 740.0h0.85M472.3 746.8h0.85M465.7 741.2h0.85M470.6 749.4h0.85M457.5 746.9h0.85M462.9 750.9h0.85M466.3 741.9h0.85M474.7 742.6h0.85M473.1 743.1h0.85M468.0 753.9h0.85M478.6 754.3h0.85M461.7 748.2h0.85M480.2 758.7h0.85M472.2 758.5h0.85M483.1 747.5h0.85M465.8 752.9h0.85M470.6 752.1h0.85M466.8 739.1h0.85M464.3 755.5h0.85M477.9 754.3h0.85M481.3 755.5h0.85M475.1 751.8h0.85M463.4 741.0h0.85M455.2 748.1h0.85M465.6 759.2h0.85M462.0 745.5h0.85M459.8 748.8h0.85M470.1 750.0h0.85M473.8 740.4h0.85M474.7 746.3h0.85M463.7 753.1h0.85M479.2 755.5h0.85M468.8 739.5h0.85M456.0 741.5h0.85M470.7 748.3h0.85M462.5 750.1h0.85M477.0 742.2h0.85M463.1 756.4h0.85M454.5 754.1h0.85M483.3 739.4h0.85M463.2 738.7h0.85M462.9 741.0h0.85M468.4 748.6h0.85M465.0 747.1h0.85M465.0 746.1h0.85M463.7 742.1h0.85M466.6 738.4h0.85M471.9 744.2h0.85M471.4 752.6h0.85M477.1 746.2h0.85M481.3 746.4h0.85M459.5 744.6h0.85M460.9 738.1h0.85M479.3 751.2h0.85M466.4 762.5h0.85M461.0 749.1h0.85M469.3 747.1h0.85M455.8 744.1h0.85M469.9 754.2h0.85M481.8 754.4h0.85M464.6 744.9h0.85M474.7 750.7h0.85M483.5 745.0h0.85M467.3 751.0h0.85M474.2 756.5h0.85M476.1 750.3h0.85M473.8 750.6h0.85M463.4 744.5h0.85M457.3 752.8h0.85M459.4 741.4h0.85M478.1 750.0h0.85M474.5 752.9h0.85M467.8 744.4h0.85M464.6 738.3h0.85M474.0 738.2h0.85M475.4 738.1h0.85M478.4 743.8h0.85M465.3 748.0h0.85M460.0 740.2h0.85M464.4 738.0h0.85M459.5 745.4h0.85M481.1 752.1h0.85M471.5 741.1h0.85M473.1 758.3h0.85M473.6 750.0h0.85M461.0 738.6h0.85M473.1 738.9h0.85M467.3 741.5h0.85M465.7 745.6h0.85M467.3 742.2h0.85M465.2 740.8h0.85M467.4 739.9h0.85M470.1 741.8h0.85M471.8 738.9h0.85M455.4 758.8h0.85M509.1 694.8h0.85M511.0 681.3h0.85M497.0 696.5h0.85M521.8 681.4h0.85M510.5 702.3h0.85M533.6 667.8h0.85M529.9 656.1h0.85M503.9 693.9h0.85M508.8 676.2h0.85M525.2 675.2h0.85M497.1 708.0h0.85M497.4 699.9h0.85M521.8 670.3h0.85M525.0 666.1h0.85M507.1 701.1h0.85M523.1 668.0h0.85M503.4 696.6h0.85M500.8 700.5h0.85M504.6 693.2h0.85M521.5 660.8h0.85M500.8 685.9h0.85M504.9 699.2h0.85M499.0 695.8h0.85M517.3 683.2h0.85M517.7 672.5h0.85M530.4 669.8h0.85M507.8 680.5h0.85M515.2 677.5h0.85M494.3 708.1h0.85M506.7 683.7h0.85M500.3 698.0h0.85M510.0 686.1h0.85M493.4 711.1h0.85M488.9 700.4h0.85M524.2 667.7h0.85M508.9 685.0h0.85M509.7 685.8h0.85M496.3 696.3h0.85M521.2 668.1h0.85M509.7 688.9h0.85M503.6 692.0h0.85M494.6 706.9h0.85M518.2 678.7h0.85M509.7 685.7h0.85M522.6 673.3h0.85M517.3 684.8h0.85M506.0 698.6h0.85M492.1 699.2h0.85M516.2 670.7h0.85M527.3 666.7h0.85M496.7 701.5h0.85M493.7 691.6h0.85M512.1 697.6h0.85M507.4 684.0h0.85M497.4 707.3h0.85M525.7 674.1h0.85M527.5 678.3h0.85M525.4 662.1h0.85M519.1 668.6h0.85M519.1 685.4h0.85M496.9 695.4h0.85M499.0 687.2h0.85M506.9 676.5h0.85M529.6 659.8h0.85M499.8 689.2h0.85M509.5 686.9h0.85M500.3 687.0h0.85M494.1 700.5h0.85M520.8 664.5h0.85M513.0 672.9h0.85M511.7 685.6h0.85M504.5 704.0h0.85M513.3 682.7h0.85M499.9 697.7h0.85M500.3 695.2h0.85M517.2 683.8h0.85M507.3 685.9h0.85M519.9 679.6h0.85M522.9 652.7h0.85M516.1 693.3h0.85M500.9 697.3h0.85M492.5 701.7h0.85M533.2 657.6h0.85M515.1 695.8h0.85M520.2 668.0h0.85M509.6 681.9h0.85M506.4 705.1h0.85M510.5 689.6h0.85M501.2 699.2h0.85M515.0 671.6h0.85M488.3 701.7h0.85M496.4 711.9h0.85M504.6 670.6h0.85M498.6 701.5h0.85M517.5 673.1h0.85M497.0 694.3h0.85M506.0 690.5h0.85M519.1 673.2h0.85M497.7 705.1h0.85M501.2 696.0h0.85M532.6 670.6h0.85M501.8 694.9h0.85M525.1 677.0h0.85M506.0 700.0h0.85M504.3 681.1h0.85M522.7 677.1h0.85M512.2 683.8h0.85M496.0 702.3h0.85M496.4 706.7h0.85M499.6 696.2h0.85M512.6 683.1h0.85M530.8 678.7h0.85M496.6 690.8h0.85M510.9 695.1h0.85M508.8 685.1h0.85M499.6 707.0h0.85M513.9 671.1h0.85M507.3 677.3h0.85M494.4 696.1h0.85M523.5 678.8h0.85M506.1 681.8h0.85M520.5 681.0h0.85M490.7 709.0h0.85M500.2 691.1h0.85M527.4 674.9h0.85M511.0 686.2h0.85M499.6 701.4h0.85M530.0 664.3h0.85M504.4 696.5h0.85M510.2 695.8h0.85M508.5 679.2h0.85M514.1 687.5h0.85M499.7 695.5h0.85M507.1 700.0h0.85M506.2 699.2h0.85M525.1 668.5h0.85M519.8 680.3h0.85M500.1 701.8h0.85M498.8 700.3h0.85M513.3 691.3h0.85M501.9 706.5h0.85M504.8 695.8h0.85M522.2 652.3h0.85M520.1 667.9h0.85M510.3 677.4h0.85M505.6 695.2h0.85M502.3 707.7h0.85M505.6 693.1h0.85M519.6 669.0h0.85M497.7 690.3h0.85M498.1 700.6h0.85M497.4 706.3h0.85M508.2 691.7h0.85M516.0 655.8h0.85M509.9 686.8h0.85M503.5 706.0h0.85M509.2 679.8h0.85M489.0 699.1h0.85M507.6 696.1h0.85M512.7 677.6h0.85M503.4 690.5h0.85M513.5 671.1h0.85M500.3 696.1h0.85M501.5 695.6h0.85M497.0 691.2h0.85M521.8 676.0h0.85M499.6 694.4h0.85M506.0 701.0h0.85M514.2 685.6h0.85M527.4 664.0h0.85M509.9 671.9h0.85M503.6 683.5h0.85M490.2 701.0h0.85M525.5 659.1h0.85M498.5 701.1h0.85M511.0 675.7h0.85M518.1 671.6h0.85M526.4 672.5h0.85M520.5 673.7h0.85M486.8 704.3h0.85M509.0 697.5h0.85M514.8 690.8h0.85M512.0 685.3h0.85M495.0 701.5h0.85M519.8 684.5h0.85M497.6 698.0h0.85M499.0 700.4h0.85M517.0 670.3h0.85M500.8 689.0h0.85M517.4 670.4h0.85M502.6 693.1h0.85M514.9 668.4h0.85M512.0 680.6h0.85M507.1 678.0h0.85M489.6 703.2h0.85M504.9 692.8h0.85M501.0 702.6h0.85M496.1 713.8h0.85M507.7 674.1h0.85M502.2 702.3h0.85M519.9 666.9h0.85M517.4 687.7h0.85M497.4 697.1h0.85M488.0 707.8h0.85M520.7 671.3h0.85M508.3 688.7h0.85M509.9 687.1h0.85M507.9 692.2h0.85M536.2 677.0h0.85M500.5 692.9h0.85M513.0 697.6h0.85M496.2 692.3h0.85M508.5 694.1h0.85M521.3 667.1h0.85M519.7 675.7h0.85M497.8 682.3h0.85M519.4 667.1h0.85M504.6 694.7h0.85M504.4 698.3h0.85M506.9 691.2h0.85M496.4 703.5h0.85M521.9 665.8h0.85M503.2 689.6h0.85M499.4 686.8h0.85M497.9 694.5h0.85M506.0 682.0h0.85M521.0 670.4h0.85M515.8 676.8h0.85M501.3 697.3h0.85M504.6 687.6h0.85M515.4 683.8h0.85M496.1 696.1h0.85M506.4 690.1h0.85M488.8 708.2h0.85M494.7 704.7h0.85M514.2 677.5h0.85M499.7 692.0h0.85M521.8 668.4h0.85M519.4 657.0h0.85M499.8 698.5h0.85M520.9 675.2h0.85M495.5 706.9h0.85M514.1 684.8h0.85M496.3 700.5h0.85M511.3 684.3h0.85M524.7 679.2h0.85M497.4 702.9h0.85M522.6 653.9h0.85M498.8 713.2h0.85M499.6 695.1h0.85M499.6 704.1h0.85M525.5 665.0h0.85M491.9 705.2h0.85M505.4 698.3h0.85M492.0 698.1h0.85M510.2 694.5h0.85M505.7 702.5h0.85M503.6 701.0h0.85M496.7 702.4h0.85M509.1 691.4h0.85" stroke="#8c8c8c" stroke-width="0.85" stroke-opacity="0.6" fill="none"/>
<path d="M583.3 591.6V783.9H700.4" stroke="#7a7a7a" stroke-width="1" fill="none"/>
<path d="M582.7 591.6V783.9" stroke="#666" stroke-width="1.6" stroke-dasharray="0.7 2.2" fill="none"/>
<path d="M585 785H700.4" stroke="#666" stroke-width="2" stroke-dasharray="0.7 1.9" fill="none"/>
<path d="M634.8 591.6V783.9M700.4 591.6V783.9M583.3 705.6H700.4" stroke="#666" stroke-width="1" fill="none"/>
<text x="573.9" y="594.6" font-size="8.4" font-weight="bold" fill="#333" textLength="4.3" lengthAdjust="spacingAndGlyphs">10</text>
<text x="578.3" y="591.1" font-size="4.6" fill="#333" textLength="1.8" lengthAdjust="spacingAndGlyphs">6</text>
<text x="573.9" y="643.0" font-size="8.4" font-weight="bold" fill="#333" textLength="4.3" lengthAdjust="spacingAndGlyphs">10</text>
<text x="578.3" y="639.5" font-size="4.6" fill="#333" textLength="1.8" lengthAdjust="spacingAndGlyphs">5</text>
<text x="573.9" y="692.0" font-size="8.4" font-weight="bold" fill="#333" textLength="4.3" lengthAdjust="spacingAndGlyphs">10</text>
<text x="578.3" y="688.5" font-size="4.6" fill="#333" textLength="1.8" lengthAdjust="spacingAndGlyphs">4</text>
<text x="573.9" y="739.6" font-size="8.4" font-weight="bold" fill="#333" textLength="4.3" lengthAdjust="spacingAndGlyphs">10</text>
<text x="578.3" y="736.1" font-size="4.6" fill="#333" textLength="1.8" lengthAdjust="spacingAndGlyphs">3</text>
<text x="609.4" y="799" font-size="8.4" font-weight="bold" fill="#333" textLength="4.4" lengthAdjust="spacingAndGlyphs">10</text>
<text x="613.9" y="795.5" font-size="4.6" fill="#333" textLength="1.8" lengthAdjust="spacingAndGlyphs">3</text>
<text x="637.3" y="799" font-size="8.4" font-weight="bold" fill="#333" textLength="4.4" lengthAdjust="spacingAndGlyphs">10</text>
<text x="641.8" y="795.5" font-size="4.6" fill="#333" textLength="1.8" lengthAdjust="spacingAndGlyphs">4</text>
<text x="667.2" y="799" font-size="8.4" font-weight="bold" fill="#333" textLength="4.4" lengthAdjust="spacingAndGlyphs">10</text>
<text x="671.7" y="795.5" font-size="4.6" fill="#333" textLength="1.8" lengthAdjust="spacingAndGlyphs">5</text>
<text x="696.7" y="799" font-size="8.4" font-weight="bold" fill="#333" textLength="4.4" lengthAdjust="spacingAndGlyphs">10</text>
<text x="701.2" y="795.5" font-size="4.6" fill="#333" textLength="1.8" lengthAdjust="spacingAndGlyphs">6</text>
<text x="627" y="815.6" font-size="8.6" fill="#444" textLength="29.6" lengthAdjust="spacingAndGlyphs">AnnexinV</text>
<path d="M616.5 736.0h0.8M611.5 724.4h0.8M626.1 714.5h0.8M603.1 740.9h0.8M590.6 734.7h0.8M604.5 729.5h0.8M607.8 721.9h0.8M610.4 731.9h0.8M621.3 732.0h0.8M622.7 718.1h0.8M608.6 724.7h0.8M625.9 739.4h0.8M618.6 734.7h0.8M617.1 748.4h0.8M611.8 732.0h0.8M615.6 728.0h0.8M611.6 716.9h0.8M615.5 720.7h0.8M611.2 732.9h0.8M608.9 711.9h0.8M623.3 726.6h0.8M625.2 742.7h0.8M610.7 725.0h0.8M614.8 731.7h0.8M619.0 718.1h0.8M611.4 730.9h0.8M607.6 739.4h0.8M623.0 722.6h0.8M612.7 702.2h0.8M620.1 714.9h0.8M607.4 725.5h0.8M603.1 723.1h0.8M612.2 730.9h0.8M596.9 735.5h0.8M606.3 723.8h0.8M606.5 728.1h0.8M615.5 734.1h0.8M613.6 728.6h0.8M614.1 715.7h0.8M614.5 731.5h0.8M602.2 719.1h0.8M614.8 730.9h0.8M632.7 730.4h0.8M606.7 736.3h0.8M605.8 728.2h0.8M634.7 712.2h0.8M617.7 735.8h0.8M611.3 731.1h0.8M594.8 721.4h0.8M610.6 736.1h0.8M617.8 740.8h0.8M620.3 731.3h0.8M621.3 733.8h0.8M609.0 718.0h0.8M623.1 718.2h0.8M622.6 719.6h0.8M607.7 729.3h0.8M629.5 710.2h0.8M610.6 737.3h0.8M619.0 727.8h0.8M616.0 722.5h0.8M603.8 710.9h0.8M622.3 703.1h0.8M605.0 735.7h0.8M608.2 748.6h0.8M602.8 718.9h0.8M626.7 718.0h0.8M615.1 740.5h0.8M607.8 736.2h0.8M605.6 728.3h0.8M609.5 734.1h0.8M625.4 706.9h0.8M610.3 719.3h0.8M591.2 736.1h0.8M620.2 723.2h0.8M600.0 728.0h0.8M611.2 720.2h0.8M603.2 727.5h0.8M628.8 724.4h0.8M622.0 739.0h0.8M614.6 717.9h0.8M609.4 729.8h0.8M602.9 740.3h0.8M617.2 713.5h0.8M610.8 735.2h0.8M617.4 728.2h0.8M617.8 725.2h0.8M615.3 723.6h0.8M628.8 714.9h0.8M606.8 754.3h0.8M608.6 726.2h0.8M616.7 731.9h0.8M610.0 732.8h0.8M615.3 736.1h0.8M611.9 720.4h0.8M608.2 755.5h0.8M597.9 739.2h0.8M598.0 740.9h0.8M619.2 704.7h0.8M608.8 730.4h0.8M624.0 736.5h0.8M621.5 730.5h0.8M608.4 719.1h0.8M615.5 707.2h0.8M611.1 739.6h0.8M612.9 718.9h0.8M602.2 738.4h0.8M601.7 746.5h0.8M622.2 732.5h0.8M623.4 738.4h0.8M633.3 715.4h0.8M602.8 721.3h0.8M611.0 714.1h0.8M621.2 748.7h0.8M588.9 751.5h0.8M618.3 729.2h0.8M601.9 728.2h0.8M608.1 724.8h0.8M620.3 730.8h0.8M610.5 727.4h0.8M603.7 733.2h0.8M612.5 741.3h0.8M625.5 714.1h0.8M625.6 744.7h0.8M609.4 746.0h0.8M610.0 727.6h0.8M613.7 737.4h0.8M617.3 713.0h0.8M628.0 729.1h0.8M625.7 691.2h0.8M622.3 722.6h0.8M619.1 748.1h0.8M613.8 726.7h0.8M621.6 704.0h0.8M607.2 713.1h0.8M612.5 718.2h0.8M599.3 725.8h0.8M625.6 728.4h0.8M628.9 697.1h0.8M610.7 720.0h0.8M632.6 725.0h0.8M611.8 737.1h0.8M607.6 732.4h0.8M608.5 712.5h0.8M625.2 721.3h0.8M617.9 712.8h0.8M609.3 737.2h0.8M611.2 721.3h0.8M610.7 734.1h0.8M620.3 728.4h0.8M595.2 737.0h0.8M616.2 727.2h0.8M605.9 723.1h0.8M627.9 718.5h0.8M609.1 744.2h0.8M618.3 708.4h0.8M618.8 733.3h0.8M613.0 720.4h0.8M605.7 735.3h0.8M609.2 745.2h0.8M616.2 719.1h0.8M622.2 726.4h0.8M622.0 720.3h0.8M601.7 736.6h0.8M615.0 728.3h0.8M598.4 730.4h0.8M611.6 742.4h0.8M618.2 724.6h0.8M602.2 731.2h0.8M616.2 730.0h0.8M603.6 739.0h0.8M615.6 730.1h0.8M595.2 745.7h0.8M613.5 710.9h0.8M616.8 729.0h0.8M629.9 709.3h0.8M617.3 754.2h0.8M623.1 717.3h0.8M611.2 745.7h0.8M615.5 740.9h0.8M609.6 710.4h0.8M608.2 725.6h0.8M621.6 723.1h0.8M623.0 717.3h0.8M615.0 714.4h0.8M620.6 733.8h0.8M610.8 743.5h0.8M615.9 735.1h0.8M604.1 738.1h0.8M616.0 738.1h0.8M617.9 718.3h0.8M602.7 745.8h0.8M603.4 715.0h0.8M607.0 742.0h0.8M623.6 720.1h0.8M612.3 713.8h0.8M632.6 701.4h0.8M616.0 702.7h0.8M625.5 708.9h0.8M608.5 716.1h0.8M608.1 732.1h0.8M588.2 731.9h0.8M612.8 730.5h0.8M612.8 734.5h0.8M612.8 752.6h0.8M613.1 709.0h0.8M613.8 733.6h0.8M604.3 724.0h0.8M607.1 717.6h0.8M616.0 725.7h0.8M617.9 724.8h0.8M616.1 707.3h0.8M610.6 733.4h0.8M620.4 728.5h0.8M610.1 723.5h0.8M605.3 716.4h0.8M612.4 720.8h0.8M611.3 719.5h0.8M616.9 720.1h0.8M613.9 728.5h0.8M611.0 732.5h0.8M606.1 734.7h0.8M607.2 721.6h0.8M610.3 740.6h0.8M609.2 731.8h0.8M613.1 726.6h0.8M619.4 726.1h0.8M612.5 731.8h0.8M616.7 746.5h0.8M617.9 725.0h0.8M611.4 721.3h0.8M616.7 729.2h0.8M613.8 732.6h0.8M613.0 731.1h0.8M613.1 731.2h0.8M613.5 741.2h0.8M629.7 729.2h0.8M616.1 737.6h0.8M609.1 730.5h0.8M620.1 725.0h0.8M611.2 706.8h0.8M606.8 727.0h0.8M614.9 712.4h0.8M612.4 743.0h0.8M604.9 739.4h0.8M627.7 710.3h0.8M613.0 720.0h0.8M602.0 730.8h0.8M623.6 742.2h0.8M614.7 733.2h0.8M614.8 727.3h0.8M606.3 732.0h0.8M625.8 717.5h0.8M619.9 686.0h0.8M610.6 732.3h0.8M600.5 758.5h0.8M611.6 734.2h0.8M619.4 726.9h0.8M611.0 712.4h0.8M599.9 728.7h0.8M612.5 718.4h0.8M614.8 745.6h0.8M599.0 725.9h0.8M605.8 735.4h0.8M610.1 721.6h0.8M618.3 707.2h0.8M619.6 748.2h0.8M603.5 737.0h0.8M602.9 741.1h0.8M604.7 739.5h0.8M620.1 728.2h0.8M612.9 722.5h0.8M623.1 719.2h0.8M611.9 726.1h0.8M612.5 736.5h0.8M606.0 723.5h0.8M592.1 747.6h0.8M623.2 738.4h0.8M617.7 702.3h0.8M611.0 742.6h0.8M618.2 711.4h0.8M619.5 747.4h0.8M613.1 720.2h0.8M622.6 709.9h0.8M595.6 733.5h0.8M609.7 721.6h0.8M626.1 713.9h0.8M610.0 742.8h0.8M625.8 704.1h0.8M608.9 731.6h0.8M609.2 714.9h0.8M627.3 700.4h0.8M606.8 722.7h0.8M619.0 736.6h0.8M616.6 731.8h0.8M630.6 723.4h0.8M607.7 736.5h0.8M622.0 725.6h0.8M602.0 721.1h0.8M597.8 732.7h0.8M628.5 703.5h0.8M623.8 709.2h0.8M617.4 736.2h0.8M616.3 726.3h0.8M628.4 729.0h0.8M603.0 737.9h0.8M601.7 733.6h0.8M613.5 734.8h0.8M615.9 734.0h0.8M606.6 736.2h0.8M611.1 715.1h0.8M595.7 699.7h0.8M620.2 720.0h0.8M607.8 720.3h0.8M606.1 743.4h0.8M634.9 717.3h0.8M617.0 719.9h0.8M615.9 710.7h0.8M597.6 749.7h0.8M613.2 725.4h0.8M598.4 737.8h0.8M601.3 728.8h0.8M611.8 729.7h0.8M611.1 705.4h0.8M616.1 735.1h0.8M615.4 735.2h0.8M618.4 711.0h0.8M605.3 717.7h0.8M614.6 715.8h0.8M621.6 711.5h0.8M620.5 714.8h0.8M633.2 731.1h0.8M611.5 741.7h0.8M615.2 725.0h0.8M611.2 741.2h0.8M609.9 749.1h0.8M606.7 738.8h0.8M621.7 721.9h0.8M607.5 712.3h0.8M617.1 736.1h0.8M605.3 724.0h0.8M619.2 714.7h0.8M613.8 731.1h0.8M603.0 719.4h0.8M615.7 717.2h0.8M608.5 725.1h0.8M596.7 715.8h0.8M602.9 727.6h0.8M615.0 715.4h0.8M615.5 726.8h0.8M612.5 730.8h0.8M622.7 730.2h0.8M638.8 719.0h0.8M612.5 729.8h0.8M605.0 735.6h0.8M636.2 720.7h0.8M618.1 729.4h0.8M614.9 715.1h0.8M629.4 712.8h0.8M623.1 696.6h0.8M615.8 721.1h0.8M622.0 730.5h0.8M601.1 724.9h0.8M625.2 720.1h0.8M595.5 726.5h0.8M612.5 735.6h0.8M616.8 717.2h0.8M608.8 737.5h0.8M597.7 730.8h0.8M613.8 730.7h0.8M609.0 722.1h0.8M619.6 711.9h0.8M617.1 719.0h0.8M609.6 725.3h0.8M619.4 730.7h0.8M612.3 707.7h0.8M614.2 712.0h0.8M615.2 725.7h0.8M611.7 734.1h0.8M594.7 707.4h0.8M604.9 715.2h0.8M633.0 731.5h0.8M612.7 722.2h0.8M593.3 750.5h0.8M614.5 729.6h0.8M630.1 710.2h0.8M620.1 744.9h0.8M606.5 724.5h0.8M615.5 717.4h0.8M597.4 732.4h0.8M607.7 718.8h0.8M622.8 713.0h0.8M615.9 747.5h0.8M631.6 705.3h0.8M633.2 734.3h0.8M615.9 725.7h0.8M616.2 738.5h0.8M587.3 720.8h0.8M622.3 710.3h0.8M610.3 722.3h0.8M622.0 719.6h0.8M618.1 727.2h0.8M618.3 717.7h0.8M618.3 728.4h0.8M609.8 707.0h0.8M605.0 729.3h0.8M610.9 722.3h0.8M614.3 737.3h0.8M599.4 733.6h0.8M617.7 719.6h0.8M615.4 723.7h0.8M620.3 732.8h0.8M612.7 727.4h0.8M608.3 716.0h0.8M617.2 727.7h0.8M603.2 743.3h0.8M616.3 722.5h0.8M604.5 728.8h0.8M623.8 710.6h0.8M618.4 714.2h0.8M630.7 730.0h0.8M622.4 727.1h0.8M610.0 743.5h0.8M622.7 721.1h0.8M623.6 729.6h0.8M607.8 715.4h0.8M599.5 746.0h0.8M596.1 726.8h0.8M623.8 734.1h0.8M615.0 748.0h0.8M606.4 737.0h0.8M601.3 722.6h0.8M622.4 711.9h0.8M621.3 724.0h0.8M611.7 739.8h0.8M640.8 726.7h0.8M627.9 711.4h0.8M593.3 715.2h0.8M611.3 724.7h0.8M611.2 739.7h0.8M620.1 721.9h0.8M630.9 710.1h0.8M609.5 741.1h0.8M615.1 726.0h0.8M619.2 710.8h0.8M599.6 721.7h0.8M625.1 719.6h0.8M599.3 724.2h0.8M615.9 705.5h0.8M622.8 734.3h0.8M612.0 743.0h0.8M628.5 736.9h0.8M625.5 720.0h0.8M615.3 723.8h0.8M626.5 725.3h0.8M608.8 723.8h0.8M620.1 739.6h0.8M601.9 725.5h0.8M615.8 710.8h0.8M617.5 724.1h0.8M611.4 725.1h0.8M609.7 735.6h0.8M614.6 713.9h0.8M623.4 703.7h0.8M615.4 709.4h0.8M634.5 709.9h0.8M604.4 751.2h0.8M604.5 718.7h0.8M626.0 707.9h0.8M621.7 711.1h0.8M601.8 738.6h0.8M608.5 730.3h0.8M610.7 717.9h0.8M634.3 709.2h0.8M613.1 728.6h0.8M612.5 747.4h0.8M615.6 721.3h0.8M622.0 723.6h0.8M614.5 731.0h0.8M612.4 731.5h0.8M604.8 727.3h0.8M628.2 713.5h0.8M612.7 738.3h0.8M621.8 739.7h0.8M615.9 751.3h0.8M607.0 725.4h0.8M613.4 716.3h0.8M629.4 736.4h0.8M611.5 717.5h0.8M604.6 721.2h0.8M627.7 706.3h0.8M614.5 714.8h0.8M596.2 728.0h0.8M605.6 708.9h0.8M620.5 737.4h0.8M624.2 746.0h0.8M620.7 733.7h0.8M612.1 754.1h0.8M606.8 735.5h0.8M620.8 721.9h0.8M618.8 738.5h0.8M627.9 725.5h0.8M605.2 725.5h0.8M624.8 730.6h0.8M601.8 720.5h0.8M632.1 722.4h0.8M605.6 735.7h0.8M622.2 723.9h0.8M628.1 741.8h0.8M609.5 726.3h0.8M610.4 724.2h0.8M621.7 734.2h0.8M610.1 723.0h0.8M620.9 731.4h0.8M605.0 726.7h0.8M609.6 736.6h0.8M600.3 737.0h0.8M612.9 731.1h0.8M607.5 720.2h0.8M623.9 715.4h0.8M597.5 760.5h0.8M606.9 735.0h0.8M621.2 719.0h0.8M616.0 725.7h0.8M619.1 711.8h0.8M607.9 704.3h0.8M634.6 708.2h0.8M597.9 722.8h0.8M588.4 740.5h0.8M620.4 719.1h0.8M614.7 729.4h0.8M607.6 725.2h0.8M607.0 717.2h0.8M615.8 710.8h0.8M611.9 729.1h0.8M621.0 707.0h0.8M615.1 730.5h0.8M605.8 742.6h0.8M614.0 724.9h0.8M609.6 704.7h0.8M626.2 709.4h0.8M617.3 707.5h0.8M611.5 735.3h0.8M600.5 725.9h0.8M616.6 732.9h0.8M614.5 727.4h0.8M608.3 720.6h0.8M602.7 742.6h0.8M603.1 732.2h0.8M624.1 722.0h0.8M606.7 741.2h0.8M616.6 723.5h0.8M619.9 708.4h0.8M620.9 710.0h0.8M606.4 720.4h0.8M616.9 718.0h0.8M609.4 724.2h0.8M635.6 730.2h0.8M617.9 720.8h0.8M616.3 700.8h0.8M613.0 719.4h0.8M612.6 705.8h0.8M606.5 699.4h0.8M614.4 735.4h0.8M608.0 713.3h0.8M607.4 721.7h0.8M622.4 722.3h0.8M617.8 703.6h0.8M619.5 714.8h0.8M616.2 724.4h0.8M605.3 733.2h0.8M625.5 716.0h0.8M594.5 725.7h0.8M621.4 721.8h0.8M610.8 740.0h0.8M613.1 729.0h0.8M618.7 726.8h0.8M605.8 757.1h0.8M613.3 717.9h0.8M621.7 719.6h0.8M621.0 711.2h0.8M613.4 726.1h0.8M595.9 712.1h0.8M620.4 742.0h0.8M614.5 703.7h0.8M613.1 708.7h0.8M619.3 718.6h0.8M613.5 747.6h0.8M607.5 721.3h0.8M616.1 721.2h0.8M606.2 738.1h0.8M599.4 725.1h0.8M617.3 723.5h0.8M609.1 732.2h0.8M617.6 727.0h0.8M617.0 731.8h0.8M620.4 725.3h0.8M619.6 728.0h0.8M614.2 737.7h0.8M621.5 718.4h0.8M605.0 725.0h0.8M620.6 725.0h0.8M617.0 727.7h0.8M615.7 738.1h0.8M614.0 701.6h0.8M625.5 726.2h0.8M607.9 710.9h0.8M621.5 732.7h0.8M606.7 745.8h0.8M615.9 706.0h0.8M631.0 723.2h0.8M609.6 724.2h0.8M600.9 756.0h0.8M602.9 748.7h0.8M617.1 709.9h0.8M623.5 712.1h0.8M612.9 722.3h0.8M625.7 716.2h0.8M593.8 725.0h0.8M611.2 725.7h0.8M618.0 701.8h0.8M624.4 718.7h0.8M603.9 725.9h0.8M601.3 750.0h0.8M622.4 724.1h0.8M614.3 716.5h0.8M598.3 740.1h0.8M606.9 717.4h0.8M618.2 714.0h0.8M627.9 720.8h0.8M620.7 717.1h0.8M617.4 731.6h0.8M616.2 722.8h0.8M597.1 730.4h0.8M612.3 727.9h0.8M630.9 726.6h0.8M615.8 736.6h0.8M606.9 736.4h0.8M608.7 732.8h0.8M615.6 744.9h0.8M616.1 723.5h0.8M613.1 726.7h0.8M607.2 747.9h0.8M607.3 723.8h0.8M591.5 727.9h0.8M613.4 744.1h0.8M590.0 725.5h0.8M616.8 736.4h0.8M612.3 710.2h0.8M617.2 729.9h0.8M626.4 725.6h0.8M603.5 720.4h0.8M623.1 749.9h0.8M618.3 740.0h0.8M609.0 712.6h0.8M613.8 723.6h0.8M604.3 734.1h0.8M607.8 715.0h0.8M618.7 714.7h0.8M609.7 719.2h0.8M610.1 733.4h0.8M596.3 736.7h0.8M621.7 703.8h0.8M624.3 706.8h0.8M621.4 715.6h0.8M620.6 746.3h0.8M625.9 735.8h0.8M614.1 739.4h0.8M603.5 736.3h0.8M617.9 727.4h0.8M606.0 720.3h0.8M607.8 730.4h0.8M629.7 720.8h0.8M612.5 711.1h0.8M609.8 734.4h0.8M608.0 744.5h0.8M613.4 726.4h0.8M611.7 710.5h0.8M622.1 714.1h0.8M600.6 735.6h0.8M611.5 740.5h0.8M595.4 713.5h0.8M611.1 720.1h0.8M603.9 711.5h0.8M626.1 724.4h0.8M607.5 726.8h0.8M627.2 713.8h0.8M617.4 713.6h0.8M631.6 722.0h0.8M628.1 712.3h0.8M622.4 707.5h0.8M609.5 736.9h0.8M624.6 714.7h0.8M598.7 729.5h0.8M616.0 727.2h0.8M631.1 718.3h0.8M612.1 722.3h0.8M620.0 728.5h0.8M630.2 704.3h0.8M619.6 735.2h0.8M616.5 722.3h0.8M610.6 738.5h0.8M609.6 733.9h0.8M609.8 730.8h0.8M610.8 716.9h0.8M596.3 741.3h0.8M616.3 732.8h0.8M631.9 712.5h0.8M607.2 716.7h0.8M617.8 730.5h0.8M603.9 718.1h0.8M590.3 730.4h0.8M606.9 720.0h0.8M609.3 738.4h0.8M613.8 744.4h0.8M604.9 727.6h0.8M609.5 729.3h0.8M614.4 728.4h0.8M613.4 731.5h0.8M621.9 743.6h0.8M617.9 727.8h0.8M622.8 713.6h0.8M605.4 730.1h0.8M623.7 700.3h0.8M612.1 729.2h0.8M615.7 727.7h0.8M610.7 729.2h0.8M618.5 715.5h0.8M608.4 721.8h0.8M625.3 709.2h0.8M599.1 720.7h0.8M601.1 745.4h0.8M633.1 717.6h0.8M602.1 726.4h0.8M609.1 712.9h0.8M618.6 734.4h0.8M616.7 716.6h0.8M621.1 713.4h0.8M620.9 710.3h0.8M614.0 733.3h0.8M599.1 750.2h0.8M615.0 726.2h0.8M610.2 716.3h0.8M622.6 729.1h0.8M601.4 722.8h0.8M608.8 730.2h0.8M621.1 702.1h0.8M608.4 738.7h0.8M629.2 714.7h0.8M617.6 740.5h0.8M613.9 714.5h0.8M623.8 728.3h0.8M600.2 729.5h0.8M617.5 730.5h0.8M624.2 719.8h0.8M602.6 747.0h0.8M602.3 720.9h0.8M606.3 736.1h0.8M623.7 702.4h0.8M608.7 741.8h0.8M604.2 713.7h0.8M606.8 701.8h0.8M605.4 748.3h0.8M614.1 736.0h0.8M598.6 713.8h0.8M592.0 734.7h0.8M630.2 719.8h0.8M621.2 726.7h0.8M613.2 740.6h0.8M615.8 730.2h0.8M612.9 745.4h0.8M620.7 729.6h0.8M613.3 724.6h0.8M621.4 719.9h0.8M620.1 757.7h0.8M602.5 717.1h0.8M605.8 719.4h0.8M609.5 740.5h0.8M623.6 743.0h0.8M607.0 719.8h0.8M624.4 711.4h0.8M621.6 715.0h0.8M608.2 724.2h0.8M597.5 741.9h0.8M595.0 729.0h0.8M616.4 727.2h0.8M614.9 726.7h0.8M616.5 733.5h0.8M615.5 710.5h0.8M600.7 733.2h0.8M623.7 722.5h0.8M606.2 733.2h0.8M608.1 726.8h0.8M606.8 713.1h0.8M620.0 705.5h0.8M610.7 724.7h0.8M599.4 725.8h0.8M610.6 723.5h0.8M614.2 716.3h0.8M620.3 722.4h0.8M611.1 729.4h0.8M612.3 733.8h0.8M610.4 740.0h0.8M602.7 744.0h0.8M627.7 717.7h0.8M622.7 720.1h0.8M636.2 714.5h0.8M619.7 724.2h0.8M618.8 733.6h0.8M602.5 719.3h0.8M599.1 724.9h0.8M601.0 735.1h0.8M615.3 737.6h0.8M607.2 715.1h0.8M614.5 730.0h0.8M610.0 726.9h0.8M607.6 705.5h0.8M617.1 701.7h0.8M592.4 749.1h0.8M612.7 726.1h0.8M617.4 714.5h0.8M608.1 719.4h0.8M613.0 714.8h0.8M623.7 715.1h0.8M616.7 722.9h0.8M623.3 733.8h0.8M608.5 734.5h0.8M618.5 717.1h0.8M615.3 721.3h0.8M612.6 731.6h0.8M618.8 718.4h0.8M619.5 704.4h0.8M601.5 709.8h0.8M608.2 724.1h0.8M606.7 727.5h0.8M617.5 721.6h0.8M605.9 711.0h0.8M596.5 724.3h0.8M606.2 729.6h0.8M604.5 705.3h0.8M608.5 721.8h0.8M600.9 746.0h0.8M602.3 745.4h0.8M616.7 723.5h0.8M620.7 725.8h0.8M617.3 722.8h0.8M614.4 723.2h0.8M611.5 713.6h0.8M618.7 727.0h0.8M609.5 733.4h0.8M611.9 727.8h0.8M609.7 740.4h0.8M629.5 726.6h0.8M628.8 706.2h0.8M601.8 732.8h0.8M605.8 723.1h0.8M619.7 746.4h0.8M615.7 717.5h0.8M617.0 741.0h0.8M620.3 728.8h0.8M604.5 729.5h0.8M613.6 733.4h0.8M614.8 734.6h0.8M611.0 730.6h0.8M611.8 739.9h0.8M611.5 706.0h0.8M623.6 730.4h0.8M604.0 730.1h0.8M605.8 727.3h0.8M622.7 704.3h0.8M618.0 737.5h0.8M627.0 703.3h0.8M621.2 707.6h0.8M590.8 733.7h0.8M618.8 726.4h0.8M625.3 695.3h0.8M617.4 709.1h0.8M596.0 724.1h0.8M608.3 734.4h0.8M620.3 725.8h0.8M607.7 709.0h0.8M616.8 707.9h0.8M609.4 720.7h0.8M613.9 742.9h0.8M603.6 736.3h0.8M606.9 735.7h0.8M611.9 719.4h0.8M605.8 744.9h0.8M615.2 714.3h0.8M602.4 725.2h0.8M612.3 721.5h0.8M616.3 729.2h0.8M619.5 725.6h0.8M606.9 736.3h0.8M633.5 711.9h0.8M614.2 724.1h0.8M605.4 747.1h0.8M612.7 712.9h0.8M614.7 719.2h0.8M616.8 737.0h0.8M612.3 718.9h0.8M630.0 732.3h0.8M585.4 740.9h0.8M611.9 719.2h0.8M621.6 722.2h0.8M620.7 716.5h0.8M621.2 717.6h0.8M608.9 727.5h0.8M609.1 719.2h0.8M610.5 724.6h0.8M616.2 716.2h0.8M598.0 725.3h0.8M602.3 725.5h0.8M604.5 736.2h0.8M625.0 714.6h0.8M618.7 710.1h0.8M603.6 728.4h0.8M592.3 739.7h0.8M601.4 739.3h0.8M600.5 733.8h0.8M606.9 726.5h0.8M604.8 732.5h0.8M615.7 734.9h0.8M618.3 732.7h0.8M619.5 728.6h0.8M601.5 711.7h0.8M603.5 748.9h0.8M616.4 730.3h0.8M623.5 723.1h0.8M600.0 725.8h0.8M607.7 713.2h0.8M614.4 711.7h0.8M614.6 734.2h0.8M607.7 733.1h0.8M617.3 717.0h0.8M610.8 735.3h0.8M622.6 709.4h0.8M604.5 745.5h0.8M607.9 731.0h0.8M609.2 750.3h0.8M600.7 747.2h0.8M620.1 717.6h0.8M621.9 720.1h0.8M616.9 717.0h0.8M620.4 720.4h0.8M603.8 735.3h0.8M618.9 722.2h0.8M609.3 746.9h0.8M619.3 721.6h0.8M614.9 727.3h0.8M599.4 744.7h0.8M606.7 727.7h0.8M608.2 738.4h0.8M602.7 724.8h0.8M617.5 721.0h0.8M607.7 749.6h0.8M609.4 725.7h0.8M601.9 734.3h0.8M609.1 741.6h0.8M616.7 717.0h0.8M615.9 722.8h0.8M620.2 708.7h0.8M603.1 737.0h0.8M617.5 745.2h0.8M603.8 725.6h0.8M618.7 729.5h0.8M607.9 720.0h0.8M619.1 711.5h0.8M621.1 716.8h0.8M610.7 731.2h0.8M615.7 717.0h0.8M614.4 725.8h0.8M623.8 703.1h0.8M626.9 732.0h0.8M615.2 738.2h0.8M606.4 730.7h0.8M618.5 722.8h0.8M603.9 713.6h0.8M607.4 750.2h0.8M595.0 742.9h0.8M622.0 728.0h0.8M622.7 715.9h0.8M595.7 745.0h0.8M600.3 735.9h0.8M606.6 726.7h0.8M610.6 741.3h0.8M599.9 719.5h0.8M618.9 717.1h0.8M611.3 731.2h0.8M610.2 739.5h0.8M617.7 718.3h0.8M626.1 727.2h0.8M622.6 720.5h0.8M603.3 736.5h0.8M604.5 747.5h0.8M604.6 748.4h0.8M609.9 741.7h0.8M615.9 736.2h0.8M612.3 731.0h0.8M609.5 713.1h0.8M620.9 741.4h0.8M610.3 748.2h0.8M608.9 719.2h0.8M608.6 713.2h0.8M604.6 728.4h0.8M603.7 734.2h0.8M620.4 696.1h0.8M609.4 724.7h0.8M609.3 727.0h0.8M610.9 710.5h0.8M635.5 707.7h0.8M612.5 716.0h0.8M613.8 713.8h0.8M602.3 736.5h0.8M626.4 730.9h0.8M604.4 727.6h0.8M604.5 735.3h0.8M603.7 731.3h0.8M615.5 734.9h0.8M633.0 714.6h0.8M635.8 717.0h0.8M620.1 739.1h0.8M602.3 730.8h0.8M602.4 721.3h0.8M610.0 720.1h0.8M620.3 711.9h0.8M599.8 715.4h0.8M595.1 737.3h0.8M610.2 732.3h0.8M616.2 712.1h0.8M632.7 724.1h0.8M612.0 721.3h0.8M616.1 729.7h0.8M628.1 722.5h0.8M620.7 699.8h0.8M608.8 735.3h0.8M595.1 748.3h0.8M616.7 742.8h0.8M609.5 714.6h0.8M618.3 725.5h0.8M619.3 717.5h0.8M620.5 713.2h0.8M618.2 714.5h0.8M610.6 739.3h0.8M617.7 712.0h0.8M607.4 734.3h0.8M609.7 707.6h0.8M609.1 724.0h0.8M614.5 747.9h0.8M611.2 725.8h0.8M625.6 700.4h0.8M605.8 739.6h0.8M607.5 715.9h0.8M606.3 734.5h0.8M615.3 730.3h0.8M619.0 718.2h0.8M611.7 733.0h0.8M621.8 711.4h0.8M610.5 708.6h0.8M606.8 749.5h0.8M619.0 720.4h0.8M617.8 725.2h0.8M623.8 738.0h0.8M617.6 711.9h0.8M609.6 730.2h0.8M619.0 730.3h0.8M626.0 712.9h0.8M609.7 731.8h0.8M638.3 727.9h0.8M613.3 722.2h0.8M598.6 735.4h0.8M612.0 709.7h0.8M612.8 718.1h0.8M614.4 730.1h0.8M614.7 732.1h0.8M610.9 738.6h0.8M605.6 722.9h0.8M610.7 748.2h0.8M609.0 725.3h0.8M616.3 719.8h0.8M614.4 711.5h0.8M614.1 743.9h0.8M636.5 704.8h0.8M620.5 717.1h0.8M618.4 718.7h0.8M602.0 727.8h0.8M601.2 739.0h0.8M599.3 742.8h0.8M611.9 752.3h0.8M594.0 725.0h0.8M617.8 723.3h0.8M610.1 746.9h0.8M609.0 723.3h0.8M625.0 728.1h0.8M609.7 744.5h0.8M620.7 712.8h0.8M585.4 751.3h0.8M619.7 742.4h0.8M628.2 730.7h0.8M614.2 714.0h0.8M604.1 745.4h0.8M610.3 719.1h0.8M605.7 734.4h0.8M613.7 737.3h0.8M627.4 725.1h0.8M624.5 725.0h0.8M634.1 722.7h0.8M619.7 733.6h0.8M613.0 739.5h0.8M609.4 731.2h0.8M617.3 713.3h0.8M611.6 748.8h0.8M624.5 726.2h0.8M612.4 730.3h0.8M607.9 721.5h0.8M618.5 716.4h0.8M609.2 703.2h0.8M621.8 732.8h0.8M607.9 727.3h0.8M634.7 717.0h0.8M612.5 732.3h0.8M612.0 726.0h0.8M603.3 738.6h0.8M612.1 751.6h0.8M613.5 714.7h0.8M606.5 715.5h0.8M613.6 730.6h0.8M617.7 718.0h0.8M614.2 742.3h0.8M620.2 729.0h0.8M603.5 720.6h0.8M603.9 756.2h0.8M603.7 740.1h0.8M611.4 724.7h0.8M605.9 748.0h0.8M610.1 713.5h0.8M613.4 726.4h0.8M600.6 739.1h0.8M618.9 723.5h0.8M614.6 728.3h0.8M591.6 736.9h0.8M602.1 739.6h0.8M623.3 726.0h0.8M609.6 734.6h0.8M618.0 721.4h0.8M618.9 733.4h0.8M632.0 710.4h0.8M603.1 719.8h0.8M608.1 723.2h0.8M624.0 745.4h0.8M614.8 736.5h0.8M610.5 716.0h0.8M623.9 739.5h0.8M602.8 724.9h0.8M602.1 733.3h0.8M601.9 721.9h0.8M606.2 730.6h0.8M610.3 742.5h0.8M619.9 718.6h0.8M607.6 730.8h0.8M624.2 714.7h0.8M603.0 736.7h0.8M601.3 721.7h0.8M620.4 710.7h0.8M606.8 740.9h0.8M612.0 730.2h0.8M614.4 734.5h0.8M610.2 712.9h0.8M619.4 717.3h0.8M624.9 730.1h0.8M614.7 730.0h0.8M615.3 713.5h0.8M611.0 715.1h0.8M626.3 724.3h0.8M599.0 723.4h0.8M603.4 713.0h0.8M610.0 725.7h0.8M603.3 716.2h0.8M616.4 716.3h0.8M602.1 734.2h0.8M625.2 728.5h0.8M612.0 735.7h0.8M599.2 724.4h0.8M621.6 722.4h0.8M616.4 719.2h0.8M614.9 740.2h0.8M620.4 700.7h0.8M600.8 736.2h0.8M614.9 712.1h0.8M615.3 735.9h0.8M617.5 731.7h0.8M619.3 719.6h0.8M604.9 720.8h0.8M623.3 701.8h0.8M605.9 730.4h0.8M620.0 713.8h0.8M634.7 713.0h0.8M602.8 749.1h0.8M633.2 728.8h0.8M614.0 721.9h0.8M600.9 739.2h0.8M613.9 734.5h0.8M619.4 716.8h0.8M620.1 727.2h0.8M630.8 733.7h0.8M619.4 733.0h0.8M621.4 722.0h0.8M610.4 745.4h0.8M641.9 714.4h0.8M612.8 727.2h0.8M620.8 717.4h0.8M620.6 715.8h0.8M604.3 718.4h0.8M621.3 714.5h0.8M618.4 728.0h0.8M601.9 724.5h0.8M619.7 725.6h0.8M605.4 723.4h0.8M592.5 725.1h0.8M617.0 722.9h0.8M603.2 739.0h0.8M611.5 722.7h0.8M600.3 714.3h0.8M615.9 738.2h0.8M638.0 715.2h0.8M603.9 730.5h0.8M619.0 716.8h0.8M613.2 727.8h0.8M610.3 719.7h0.8M612.5 737.3h0.8M628.8 731.2h0.8M610.0 735.0h0.8M605.0 732.1h0.8M612.7 720.1h0.8M617.4 733.6h0.8M602.9 728.1h0.8M632.5 721.6h0.8M614.5 728.3h0.8M610.1 723.9h0.8M618.0 721.4h0.8M621.3 708.4h0.8M599.1 724.0h0.8M597.6 729.8h0.8M609.7 743.3h0.8M619.0 730.1h0.8M621.7 728.5h0.8M607.9 735.0h0.8M600.1 734.4h0.8M608.6 742.1h0.8M615.0 729.5h0.8M598.2 727.5h0.8M617.1 737.3h0.8M607.5 722.6h0.8M624.7 712.0h0.8M605.4 730.9h0.8M614.0 726.0h0.8M609.9 729.7h0.8M618.9 725.9h0.8M629.1 727.1h0.8M618.2 705.0h0.8M618.9 734.0h0.8M616.6 707.5h0.8M617.8 725.3h0.8M615.5 727.1h0.8M618.8 721.4h0.8M615.0 732.9h0.8M619.3 726.8h0.8M602.1 720.8h0.8M616.5 731.5h0.8M613.9 694.7h0.8M615.5 741.6h0.8M627.1 720.2h0.8M599.7 746.3h0.8M636.1 705.4h0.8M617.0 721.8h0.8M627.3 721.9h0.8M609.7 734.0h0.8M613.1 724.3h0.8M616.4 723.0h0.8M624.2 711.4h0.8M626.4 721.9h0.8M614.8 713.6h0.8M611.4 722.5h0.8M613.7 738.7h0.8M606.2 748.4h0.8M624.1 733.3h0.8M605.4 727.7h0.8M615.0 719.4h0.8M600.2 724.0h0.8M608.6 727.7h0.8M612.6 721.5h0.8M615.1 721.5h0.8M608.2 725.5h0.8M616.1 729.6h0.8M611.5 712.5h0.8M603.8 731.9h0.8M635.7 707.8h0.8M625.9 739.7h0.8M618.0 727.1h0.8M618.1 736.8h0.8M607.8 720.0h0.8M609.2 723.8h0.8M618.2 712.8h0.8M597.9 731.0h0.8M623.9 721.0h0.8M612.2 731.3h0.8M614.7 736.5h0.8M620.5 717.0h0.8M592.8 719.1h0.8M609.3 738.6h0.8M618.7 731.4h0.8M615.0 721.9h0.8M611.5 725.6h0.8M623.5 718.2h0.8M616.2 710.7h0.8M618.9 736.4h0.8M606.9 726.4h0.8M609.3 727.1h0.8M620.9 735.9h0.8M619.1 727.0h0.8M610.3 726.7h0.8M612.4 738.3h0.8M613.9 733.2h0.8M608.4 729.6h0.8M628.2 716.9h0.8M604.9 719.5h0.8M621.9 725.0h0.8M605.4 732.9h0.8M603.5 726.5h0.8M613.2 724.2h0.8M619.5 734.4h0.8M631.5 729.9h0.8M601.5 738.7h0.8M625.7 719.6h0.8M618.7 723.2h0.8M612.3 716.5h0.8M613.5 723.0h0.8M611.6 722.3h0.8M614.5 727.2h0.8M614.9 738.8h0.8M610.6 727.5h0.8M610.4 703.7h0.8M632.5 723.4h0.8M625.4 739.1h0.8M615.7 726.1h0.8M623.2 717.2h0.8M634.9 712.3h0.8M616.5 720.8h0.8M607.6 724.9h0.8M605.4 734.5h0.8M620.9 710.0h0.8M621.3 726.1h0.8M611.2 731.4h0.8M605.3 745.3h0.8M610.0 713.6h0.8M606.0 732.7h0.8M623.8 731.4h0.8M621.8 731.5h0.8M609.5 714.0h0.8M609.1 720.4h0.8M599.4 727.4h0.8M606.0 727.3h0.8M608.1 728.0h0.8M626.2 713.2h0.8M595.1 735.3h0.8M609.1 726.5h0.8M620.5 725.9h0.8M614.8 716.2h0.8M613.2 728.6h0.8M609.3 725.7h0.8M617.5 718.7h0.8M606.9 725.3h0.8M612.7 704.2h0.8M612.0 735.4h0.8M603.3 722.0h0.8M612.8 710.4h0.8M607.7 739.1h0.8M613.0 724.3h0.8M619.7 724.0h0.8M616.2 725.8h0.8M626.2 720.2h0.8M611.0 721.0h0.8M617.7 737.7h0.8M603.8 733.0h0.8M613.8 733.0h0.8M614.9 718.1h0.8M609.7 746.9h0.8M591.3 733.3h0.8M628.7 721.7h0.8M614.0 719.5h0.8M608.6 732.3h0.8M620.8 738.3h0.8M615.7 718.4h0.8M615.4 741.3h0.8M610.9 714.3h0.8M613.3 714.8h0.8M621.9 725.5h0.8M631.0 717.8h0.8M604.7 741.0h0.8M615.0 716.8h0.8M614.1 716.2h0.8M605.5 729.0h0.8M611.9 721.4h0.8M613.8 716.1h0.8M619.4 715.4h0.8M609.2 728.8h0.8M628.5 699.5h0.8M620.8 716.7h0.8M612.1 740.3h0.8M617.0 729.9h0.8M608.3 723.4h0.8M608.9 731.4h0.8M608.1 743.2h0.8M612.9 719.6h0.8M631.1 730.9h0.8M623.6 701.3h0.8M619.5 726.3h0.8M612.7 711.0h0.8M621.6 732.2h0.8M609.2 725.0h0.8M621.9 706.4h0.8M605.8 716.3h0.8M617.1 728.7h0.8M613.1 716.1h0.8M618.0 714.5h0.8M620.5 719.3h0.8M609.0 735.5h0.8M609.0 718.1h0.8M605.0 734.5h0.8M604.4 740.8h0.8M605.8 731.7h0.8M614.9 721.9h0.8M619.4 735.8h0.8M606.4 739.1h0.8M606.6 722.6h0.8M614.3 714.0h0.8M616.2 720.1h0.8M621.4 720.8h0.8M622.2 725.2h0.8M599.6 722.3h0.8M620.9 741.3h0.8M623.2 714.1h0.8M618.5 724.6h0.8M622.8 740.9h0.8M608.7 736.9h0.8M622.4 732.5h0.8M617.7 744.7h0.8M619.6 730.8h0.8M597.9 758.7h0.8M607.4 723.7h0.8M619.3 728.1h0.8M616.0 715.5h0.8M620.1 733.4h0.8M632.9 702.6h0.8M623.5 720.0h0.8M610.9 717.7h0.8M605.6 726.2h0.8M607.8 745.1h0.8M617.6 736.6h0.8M616.4 719.4h0.8M608.6 743.8h0.8M612.4 724.8h0.8M614.8 708.9h0.8M609.0 720.0h0.8M602.4 729.1h0.8M617.5 761.8h0.8M616.1 720.2h0.8M621.6 721.4h0.8M610.7 741.5h0.8M627.6 695.3h0.8M611.9 714.2h0.8M620.6 749.5h0.8M618.8 743.0h0.8M621.6 738.6h0.8M616.5 728.3h0.8M621.6 738.9h0.8M628.0 731.9h0.8M613.8 724.7h0.8M624.2 717.0h0.8M611.5 729.8h0.8M611.6 694.7h0.8M622.8 702.3h0.8M634.4 713.9h0.8M627.4 733.8h0.8M620.5 734.0h0.8M628.1 717.8h0.8M628.9 729.2h0.8M618.5 735.4h0.8M620.1 716.5h0.8M624.5 705.9h0.8M607.8 729.4h0.8M607.7 721.9h0.8M611.0 725.6h0.8M617.7 721.0h0.8M621.9 708.6h0.8M604.5 735.1h0.8M619.3 717.1h0.8M609.9 743.9h0.8M605.3 739.0h0.8M612.6 734.5h0.8M623.4 739.6h0.8M608.5 735.2h0.8M632.0 711.9h0.8M622.2 723.3h0.8M616.7 726.4h0.8M607.0 734.7h0.8M612.6 722.3h0.8M601.0 724.9h0.8M619.5 707.4h0.8M598.5 743.9h0.8M615.7 710.5h0.8M614.7 717.9h0.8M608.8 738.1h0.8M619.0 717.5h0.8M604.4 724.4h0.8M606.6 730.6h0.8M616.4 722.9h0.8M621.8 722.8h0.8M607.7 736.6h0.8M615.9 723.6h0.8M629.4 705.5h0.8M623.1 735.0h0.8M622.0 737.3h0.8M610.2 736.3h0.8M609.4 749.3h0.8M620.6 713.5h0.8M610.4 733.5h0.8M611.3 725.4h0.8M603.9 736.6h0.8M607.0 705.3h0.8M608.7 725.2h0.8M608.8 736.7h0.8M621.7 741.7h0.8M612.2 732.7h0.8M603.5 726.8h0.8M609.1 745.6h0.8M609.4 733.2h0.8M611.1 740.7h0.8M608.9 742.2h0.8M599.9 727.4h0.8M599.0 738.5h0.8M609.3 723.4h0.8M610.2 720.8h0.8M620.1 719.0h0.8M623.0 729.7h0.8M622.8 715.4h0.8M596.3 754.0h0.8M616.3 739.9h0.8M607.2 713.4h0.8M612.2 714.9h0.8M619.3 733.9h0.8M598.5 749.9h0.8M623.8 708.8h0.8M609.6 737.8h0.8M614.7 713.2h0.8M619.7 726.8h0.8M617.4 722.5h0.8M621.1 711.6h0.8M623.9 717.8h0.8M611.2 722.8h0.8M610.8 720.8h0.8M615.3 728.1h0.8M596.8 720.2h0.8M622.1 723.8h0.8M609.4 750.5h0.8M623.2 721.4h0.8M622.2 724.3h0.8M619.0 715.6h0.8M624.6 717.3h0.8M620.0 740.9h0.8M612.5 738.2h0.8M616.0 725.3h0.8M621.0 733.0h0.8M613.7 714.3h0.8M623.2 725.5h0.8M607.5 728.2h0.8M609.7 752.8h0.8M614.6 712.0h0.8M610.3 704.1h0.8M614.8 724.1h0.8M612.2 745.3h0.8M625.3 712.9h0.8M623.0 703.4h0.8M594.9 724.2h0.8M617.1 753.2h0.8M620.6 717.7h0.8M599.8 704.4h0.8M611.4 727.2h0.8M629.0 742.9h0.8M615.6 724.9h0.8M608.8 726.8h0.8M617.8 718.4h0.8M612.5 727.7h0.8M606.4 727.5h0.8M626.3 708.0h0.8M612.1 734.8h0.8M596.2 733.7h0.8M602.7 738.9h0.8M617.6 707.1h0.8M618.4 724.1h0.8M619.4 704.9h0.8M601.0 729.6h0.8M611.0 743.7h0.8M634.7 697.3h0.8M608.5 737.9h0.8M616.5 715.7h0.8M592.8 737.1h0.8M618.8 729.1h0.8M600.8 731.9h0.8M614.9 724.8h0.8M604.3 729.8h0.8M622.7 720.4h0.8M599.1 717.9h0.8M614.0 738.6h0.8M608.3 740.3h0.8M622.0 724.1h0.8M630.8 703.0h0.8M628.0 708.2h0.8M614.2 722.1h0.8M619.1 717.6h0.8M614.1 729.8h0.8M609.2 735.2h0.8M607.6 711.3h0.8M618.3 742.5h0.8M615.3 712.5h0.8M615.8 710.4h0.8M607.2 726.7h0.8M600.3 716.1h0.8M615.7 738.7h0.8M607.4 721.5h0.8M616.8 727.7h0.8M624.2 715.2h0.8M621.1 726.6h0.8M598.2 729.0h0.8M602.8 731.8h0.8M613.9 744.9h0.8M606.3 744.2h0.8M598.8 738.6h0.8M617.7 741.2h0.8M607.3 731.1h0.8M627.0 721.3h0.8M618.2 715.4h0.8M616.2 727.8h0.8M585.6 738.0h0.8M619.9 718.0h0.8M605.5 739.7h0.8M626.9 709.3h0.8M618.8 717.9h0.8M616.8 718.8h0.8M607.5 740.5h0.8M611.0 720.4h0.8M604.2 727.6h0.8M618.7 741.9h0.8M598.5 715.5h0.8M605.3 729.4h0.8M616.0 731.5h0.8M618.0 728.7h0.8M605.5 729.3h0.8M608.2 718.6h0.8M617.8 717.1h0.8M612.6 719.1h0.8M613.1 730.1h0.8M609.2 719.8h0.8M609.7 740.4h0.8M616.9 733.1h0.8M599.3 730.0h0.8M613.9 732.1h0.8M620.6 711.5h0.8M622.1 717.0h0.8M611.0 718.4h0.8M602.6 716.8h0.8M606.3 743.9h0.8M615.9 711.7h0.8M617.9 715.1h0.8M614.5 727.8h0.8M610.9 733.3h0.8M625.9 737.6h0.8M610.9 733.9h0.8M620.0 695.9h0.8M631.3 729.1h0.8M618.3 716.9h0.8M627.0 728.5h0.8M627.1 727.3h0.8M619.5 726.3h0.8M603.5 730.9h0.8M618.5 702.4h0.8M605.3 720.4h0.8M615.8 728.8h0.8M602.7 747.6h0.8M601.7 731.6h0.8M600.4 701.2h0.8M608.6 714.9h0.8M622.2 728.7h0.8M616.6 726.5h0.8M624.0 732.0h0.8M610.9 704.0h0.8M630.3 707.7h0.8M624.7 722.4h0.8M612.1 729.1h0.8M610.2 707.4h0.8M616.4 734.1h0.8M620.2 724.3h0.8M618.6 719.3h0.8M622.5 733.2h0.8M612.0 722.9h0.8M610.0 735.9h0.8M608.4 720.4h0.8M592.9 742.6h0.8M624.8 708.0h0.8M628.1 728.3h0.8M625.9 710.2h0.8M619.6 717.8h0.8M617.6 734.0h0.8M604.0 723.3h0.8M607.5 722.9h0.8M615.4 732.9h0.8M614.9 734.4h0.8M599.1 737.6h0.8M610.2 706.1h0.8M614.8 719.5h0.8M622.7 709.6h0.8M594.2 730.9h0.8M612.4 725.6h0.8M608.2 716.0h0.8M611.1 738.8h0.8M615.0 728.0h0.8M626.0 727.1h0.8M599.2 741.5h0.8M627.9 729.0h0.8M626.9 723.7h0.8M611.2 726.4h0.8M605.3 736.2h0.8M612.9 727.0h0.8M626.9 708.1h0.8M599.3 759.0h0.8M593.0 732.4h0.8M608.7 748.1h0.8M604.6 717.2h0.8M615.6 722.7h0.8M604.1 718.2h0.8M600.8 715.9h0.8M607.3 746.2h0.8M613.9 730.5h0.8M601.0 730.2h0.8M604.3 710.1h0.8M626.7 730.5h0.8M604.3 732.7h0.8M606.1 741.6h0.8M608.7 728.7h0.8M615.4 736.7h0.8M620.1 723.0h0.8M613.5 733.5h0.8M609.6 730.2h0.8M624.1 706.9h0.8M623.0 715.8h0.8M633.7 734.2h0.8M620.4 738.3h0.8M602.2 730.9h0.8M604.3 743.4h0.8M612.0 717.3h0.8M607.6 729.3h0.8M618.0 735.6h0.8M606.8 755.1h0.8M617.2 740.7h0.8M620.7 722.9h0.8M606.3 725.8h0.8M609.9 716.0h0.8M607.9 727.1h0.8M587.6 714.8h0.8M600.0 728.3h0.8M631.8 711.3h0.8M606.6 738.6h0.8M603.0 727.3h0.8M624.2 730.7h0.8M605.8 734.1h0.8M621.8 717.5h0.8M596.4 725.8h0.8M608.1 731.3h0.8M613.5 723.5h0.8M605.0 745.5h0.8M605.8 715.0h0.8M617.2 736.7h0.8M590.2 736.2h0.8M610.1 727.7h0.8M614.5 729.6h0.8M621.6 718.1h0.8M607.9 709.6h0.8M627.9 709.4h0.8M641.1 712.8h0.8M613.1 723.1h0.8M626.4 700.5h0.8M603.0 725.3h0.8M623.6 717.1h0.8M619.5 738.2h0.8M605.9 737.6h0.8M609.7 731.9h0.8M626.2 726.1h0.8M593.4 719.0h0.8M610.2 720.6h0.8M612.7 708.2h0.8M621.0 739.5h0.8M609.7 735.6h0.8M605.8 720.0h0.8M601.2 739.7h0.8M604.1 705.4h0.8M627.2 730.9h0.8M591.2 746.1h0.8M616.0 726.7h0.8M605.3 715.9h0.8M613.9 727.1h0.8M627.3 712.6h0.8M599.7 715.1h0.8M629.5 715.6h0.8M599.7 744.2h0.8M613.1 741.2h0.8M626.4 739.3h0.8M619.4 726.6h0.8M623.1 727.9h0.8M627.9 706.4h0.8M614.7 730.0h0.8M595.4 710.8h0.8M612.9 724.8h0.8M618.6 735.7h0.8M624.8 703.2h0.8M611.7 718.6h0.8M610.7 731.1h0.8M607.2 728.8h0.8M614.9 737.9h0.8M613.3 706.4h0.8M621.0 728.7h0.8M616.5 721.7h0.8M604.2 719.9h0.8M611.9 732.5h0.8M611.9 739.5h0.8M618.7 744.0h0.8M606.4 748.8h0.8M616.1 728.9h0.8M611.1 739.0h0.8M611.1 722.7h0.8M613.0 717.4h0.8M613.1 715.3h0.8M623.8 710.9h0.8M617.5 750.7h0.8M616.9 723.7h0.8M612.0 735.7h0.8M609.8 737.8h0.8M614.2 712.9h0.8M613.3 730.3h0.8M614.3 729.2h0.8M611.9 713.9h0.8M619.6 736.6h0.8M612.5 718.0h0.8M605.7 737.2h0.8M622.7 710.6h0.8M609.4 738.5h0.8M629.3 725.5h0.8M625.0 734.0h0.8M630.1 721.7h0.8M612.5 724.8h0.8M621.0 711.4h0.8M621.1 723.2h0.8M604.4 743.5h0.8M614.9 723.0h0.8M616.3 708.1h0.8M618.5 722.7h0.8M611.3 711.9h0.8M628.1 718.1h0.8M607.9 732.4h0.8M621.1 718.4h0.8M617.9 726.2h0.8M617.6 703.3h0.8M612.7 719.0h0.8M609.7 727.0h0.8M618.5 724.4h0.8M606.0 725.2h0.8M612.1 735.9h0.8M591.9 724.2h0.8M622.1 734.6h0.8M621.9 704.4h0.8M604.2 747.8h0.8M626.9 712.7h0.8M624.3 726.2h0.8M609.1 712.7h0.8M609.1 735.6h0.8M608.8 737.1h0.8M612.4 725.7h0.8M645.3 719.5h0.8M615.3 748.9h0.8M610.6 728.4h0.8M612.4 732.2h0.8M623.9 712.2h0.8M611.2 711.9h0.8M616.8 725.7h0.8M614.7 719.4h0.8M624.7 718.3h0.8M605.1 733.2h0.8M604.2 732.9h0.8M615.2 715.9h0.8M617.0 718.7h0.8M627.6 711.8h0.8M687.7 736.7h0.8M647.5 718.9h0.8M649.5 729.5h0.8M632.5 722.7h0.8M678.6 736.5h0.8M663.2 750.4h0.8M659.4 743.0h0.8M631.7 731.0h0.8M655.2 769.2h0.8M680.2 747.9h0.8M652.0 726.5h0.8M692.0 736.6h0.8M685.4 726.7h0.8M675.8 766.1h0.8M661.3 750.5h0.8M680.4 717.5h0.8M641.9 719.9h0.8M669.4 717.1h0.8M644.9 734.6h0.8M682.4 725.0h0.8M650.5 726.8h0.8M663.6 724.7h0.8M664.5 733.2h0.8M635.7 736.8h0.8M674.8 717.8h0.8M687.9 736.8h0.8M667.7 736.4h0.8M658.0 727.1h0.8M667.8 710.0h0.8M660.9 741.5h0.8M666.7 737.4h0.8M679.5 732.7h0.8M672.8 742.8h0.8M652.8 753.9h0.8M682.8 737.5h0.8M664.0 757.2h0.8M686.8 739.4h0.8M648.4 737.8h0.8M675.4 747.3h0.8M658.4 731.1h0.8M673.7 737.8h0.8M667.2 738.5h0.8M654.9 729.9h0.8M650.8 734.6h0.8M646.7 748.5h0.8M653.8 734.2h0.8M642.9 710.9h0.8M666.5 756.3h0.8M679.9 733.5h0.8M678.0 748.7h0.8M649.7 725.5h0.8M642.8 753.3h0.8M665.0 723.9h0.8M674.8 738.8h0.8M683.1 741.6h0.8M673.1 749.4h0.8M675.0 727.6h0.8M679.2 733.8h0.8M679.6 742.1h0.8M654.1 737.1h0.8M648.7 725.5h0.8M651.2 729.5h0.8M683.1 733.8h0.8M660.0 742.1h0.8M696.6 719.6h0.8M636.0 729.7h0.8M633.7 737.1h0.8M664.6 715.1h0.8M666.2 731.9h0.8M673.1 743.0h0.8M678.2 719.0h0.8M651.5 743.1h0.8M665.7 720.5h0.8M643.1 761.6h0.8M672.3 750.8h0.8M658.2 746.6h0.8M688.5 747.2h0.8M685.2 760.1h0.8M687.3 735.7h0.8M674.1 740.2h0.8M676.6 759.8h0.8M682.9 717.9h0.8M650.3 743.1h0.8M646.7 727.2h0.8M655.0 726.8h0.8M675.2 731.1h0.8M650.8 743.8h0.8M679.1 707.0h0.8M661.0 765.7h0.8M694.6 746.6h0.8M660.6 720.9h0.8M669.6 732.6h0.8M644.1 715.3h0.8M637.0 743.7h0.8M651.2 724.9h0.8M652.6 739.4h0.8M694.0 737.7h0.8M680.2 740.0h0.8M690.1 730.9h0.8M682.6 717.8h0.8M673.0 724.9h0.8M638.1 736.0h0.8M671.2 735.6h0.8M690.6 719.5h0.8M690.5 732.9h0.8M641.7 768.8h0.8M663.6 720.1h0.8M678.6 736.9h0.8M685.8 727.2h0.8M680.7 743.7h0.8M661.1 750.5h0.8M679.1 741.3h0.8M641.8 715.7h0.8M677.2 723.1h0.8M648.8 740.2h0.8M675.3 731.1h0.8M664.5 733.5h0.8M688.7 747.7h0.8M693.8 731.6h0.8M676.3 725.3h0.8M668.3 744.8h0.8M698.4 739.1h0.8M685.6 726.7h0.8M695.9 746.0h0.8M680.0 730.3h0.8M631.2 734.4h0.8M699.0 728.6h0.8M648.7 724.5h0.8M636.8 731.4h0.8M663.4 717.5h0.8M647.4 736.3h0.8M668.8 732.2h0.8M677.1 743.2h0.8M697.6 768.2h0.8M682.2 722.2h0.8M644.9 731.8h0.8M661.6 764.6h0.8M666.2 722.4h0.8M680.5 739.0h0.8M660.1 744.6h0.8M653.9 752.1h0.8M658.5 711.1h0.8M694.1 730.3h0.8M668.3 728.7h0.8M650.6 720.9h0.8M662.3 721.1h0.8M660.1 745.3h0.8M687.2 741.6h0.8M677.4 752.4h0.8M668.9 731.0h0.8M684.7 736.2h0.8M634.1 747.2h0.8M661.1 741.5h0.8M669.3 736.7h0.8M659.3 739.9h0.8M636.1 740.8h0.8M690.0 745.8h0.8M665.1 727.7h0.8M671.9 720.6h0.8M685.2 762.8h0.8M684.8 727.2h0.8M665.4 733.4h0.8M638.4 738.4h0.8M654.8 746.3h0.8M666.9 712.7h0.8M643.6 749.1h0.8M666.5 733.0h0.8M666.4 737.8h0.8M641.9 732.7h0.8M652.6 735.4h0.8M654.7 743.4h0.8M672.4 758.2h0.8M670.5 706.7h0.8M637.9 736.3h0.8M667.1 735.4h0.8M660.6 717.1h0.8M682.2 732.6h0.8M665.6 734.7h0.8M665.8 745.7h0.8M644.5 701.3h0.8M668.5 714.6h0.8M688.9 738.0h0.8M682.8 737.3h0.8M688.0 743.9h0.8M640.1 741.9h0.8M693.8 714.8h0.8M691.6 735.0h0.8M694.9 729.4h0.8M640.7 730.5h0.8M672.4 698.8h0.8M656.7 740.9h0.8M673.8 741.5h0.8M632.8 736.8h0.8M680.0 736.2h0.8M667.0 738.2h0.8M651.8 757.0h0.8M669.7 745.3h0.8M654.5 713.7h0.8M671.2 745.8h0.8M655.4 708.6h0.8M681.8 719.1h0.8M664.6 744.0h0.8M668.2 737.1h0.8M690.9 717.1h0.8M647.3 737.1h0.8M662.9 731.1h0.8M638.5 761.9h0.8M673.1 733.6h0.8M666.2 722.3h0.8M665.8 729.6h0.8M653.6 738.4h0.8M647.8 745.2h0.8M671.0 740.2h0.8M678.1 715.7h0.8M699.0 722.4h0.8M644.9 727.2h0.8M653.3 709.8h0.8M688.7 721.8h0.8M682.2 747.8h0.8M672.9 719.6h0.8M675.3 739.2h0.8M649.3 723.8h0.8M664.2 733.6h0.8M659.2 715.2h0.8M663.7 736.3h0.8M642.8 735.5h0.8M658.7 728.0h0.8M677.5 721.4h0.8M668.5 742.1h0.8M629.5 735.7h0.8M662.8 696.5h0.8M662.5 712.7h0.8M693.5 736.6h0.8M639.8 735.4h0.8M654.6 739.4h0.8M664.3 732.7h0.8M653.4 729.1h0.8M662.1 743.4h0.8M664.7 724.2h0.8M665.6 747.8h0.8M660.5 731.2h0.8M667.5 737.7h0.8M667.2 752.8h0.8M660.4 719.7h0.8M685.6 742.3h0.8M624.9 708.3h0.8M694.6 745.8h0.8M658.7 730.7h0.8M687.8 746.0h0.8M679.4 736.1h0.8M653.8 734.0h0.8M631.3 743.5h0.8M668.1 734.1h0.8M684.9 745.7h0.8M689.8 729.6h0.8M647.9 725.4h0.8M681.5 717.4h0.8M668.4 743.8h0.8M654.7 723.1h0.8M689.9 721.4h0.8M653.2 756.0h0.8M627.2 719.5h0.8M665.2 728.5h0.8M659.3 725.6h0.8M637.8 717.1h0.8M666.9 759.5h0.8M683.5 723.2h0.8M653.9 736.2h0.8M648.4 734.0h0.8M650.6 705.3h0.8M658.6 728.6h0.8M682.1 727.6h0.8M669.8 730.8h0.8M677.9 720.9h0.8M696.7 724.2h0.8M648.1 719.5h0.8M692.6 738.6h0.8M670.2 738.8h0.8M655.0 722.0h0.8M676.2 728.5h0.8M680.6 739.3h0.8M645.5 744.4h0.8M664.5 723.1h0.8M653.0 718.6h0.8M675.5 723.9h0.8M663.3 711.4h0.8M655.2 751.2h0.8M685.5 723.3h0.8M664.6 752.6h0.8M636.0 707.8h0.8M682.8 734.5h0.8M686.1 763.0h0.8M694.1 769.2h0.8M680.3 725.8h0.8M690.9 731.5h0.8M692.7 736.5h0.8M678.2 705.7h0.8M659.4 731.9h0.8M656.9 733.2h0.8M664.9 741.3h0.8M676.8 715.9h0.8M656.4 723.8h0.8M637.2 751.4h0.8M663.8 741.6h0.8M659.4 717.4h0.8M644.8 723.8h0.8M690.7 749.7h0.8M689.9 735.2h0.8M687.1 708.7h0.8M636.6 744.9h0.8M664.7 739.4h0.8M654.9 703.1h0.8M667.4 725.8h0.8M671.8 739.8h0.8M684.1 755.9h0.8M651.7 739.6h0.8M675.9 725.4h0.8M665.8 749.5h0.8M631.2 724.8h0.8M686.7 735.2h0.8M637.6 725.0h0.8M666.0 750.9h0.8M655.9 741.9h0.8M634.6 749.5h0.8M671.6 722.8h0.8M648.2 734.3h0.8M668.3 745.4h0.8M647.8 746.1h0.8M642.8 738.0h0.8M673.0 711.0h0.8M665.3 729.5h0.8M661.8 733.5h0.8M651.5 741.8h0.8M675.3 736.8h0.8M668.7 743.0h0.8M666.3 743.4h0.8M661.1 744.0h0.8M698.8 755.4h0.8M670.4 730.2h0.8M662.4 735.6h0.8M671.6 723.6h0.8M634.2 737.8h0.8M649.9 738.7h0.8M657.8 707.9h0.8M662.3 724.5h0.8M672.2 745.4h0.8M665.7 713.4h0.8M668.9 737.8h0.8M685.5 718.5h0.8M688.3 758.2h0.8M655.0 730.0h0.8M646.8 723.8h0.8M653.8 720.3h0.8M675.9 753.4h0.8M663.9 714.2h0.8M637.9 742.1h0.8M689.0 730.6h0.8M664.9 720.8h0.8M689.5 722.6h0.8M661.7 755.0h0.8M677.2 727.4h0.8M644.0 733.8h0.8M626.7 752.1h0.8M638.4 749.6h0.8M655.7 734.0h0.8M668.5 710.2h0.8M660.2 736.0h0.8M651.8 740.9h0.8M629.3 721.4h0.8M667.0 706.8h0.8M660.3 744.4h0.8M638.6 715.0h0.8M670.3 722.6h0.8M655.8 723.4h0.8M680.4 735.2h0.8M686.4 730.1h0.8M660.0 730.2h0.8M663.7 723.2h0.8M645.5 730.1h0.8M666.6 746.7h0.8M653.2 716.4h0.8M668.1 719.5h0.8M652.8 734.2h0.8M658.3 719.8h0.8M691.7 729.0h0.8M656.3 707.5h0.8M664.7 733.5h0.8M679.0 725.4h0.8M654.5 749.5h0.8M624.4 736.4h0.8M662.2 720.5h0.8M669.5 716.6h0.8M680.7 702.6h0.8M670.2 745.5h0.8M676.2 737.8h0.8M679.6 732.4h0.8M662.1 721.5h0.8M668.7 731.2h0.8M666.0 720.6h0.8M662.5 730.8h0.8M666.5 732.7h0.8M681.2 718.9h0.8M685.5 719.5h0.8M666.1 747.4h0.8M668.3 743.8h0.8M658.7 764.3h0.8M661.2 737.9h0.8M669.1 729.3h0.8M647.1 756.0h0.8M670.4 719.5h0.8M678.7 742.3h0.8M666.5 723.4h0.8M663.9 703.1h0.8M677.2 716.6h0.8M645.4 738.8h0.8M686.9 721.6h0.8M663.9 741.4h0.8M641.4 734.7h0.8M690.1 738.8h0.8M668.7 730.0h0.8M684.0 710.9h0.8M680.6 714.4h0.8M670.3 756.0h0.8M668.5 746.2h0.8M667.6 718.9h0.8M658.9 720.9h0.8M653.6 738.9h0.8M667.2 733.5h0.8M649.8 742.6h0.8M660.9 746.9h0.8M651.7 753.8h0.8M670.6 732.8h0.8M648.5 746.9h0.8M667.5 727.6h0.8M668.7 712.7h0.8M650.7 718.8h0.8M682.6 716.8h0.8M657.6 717.3h0.8M687.3 719.7h0.8M667.5 767.6h0.8M668.6 728.5h0.8M644.0 730.0h0.8M686.6 721.3h0.8M664.6 717.9h0.8M641.3 726.2h0.8M639.1 749.4h0.8M646.1 718.8h0.8M650.7 744.7h0.8M666.3 753.4h0.8M652.7 764.2h0.8M655.0 717.7h0.8M670.0 730.9h0.8M664.0 735.6h0.8M695.6 724.7h0.8M663.9 743.3h0.8M679.1 712.3h0.8M650.2 717.4h0.8M667.7 750.0h0.8M662.7 741.8h0.8M655.4 715.3h0.8M662.2 732.2h0.8M670.8 711.7h0.8M657.3 741.5h0.8M661.6 721.2h0.8M686.1 739.4h0.8M662.7 765.9h0.8M650.3 740.2h0.8M684.0 740.4h0.8M664.0 745.0h0.8M669.3 735.8h0.8M654.4 731.6h0.8M681.3 697.3h0.8M652.9 714.7h0.8M644.9 723.0h0.8M667.7 740.0h0.8M634.6 716.4h0.8M675.8 728.7h0.8M675.0 741.3h0.8M678.8 772.3h0.8M632.0 736.6h0.8M653.5 750.5h0.8M670.5 729.6h0.8M674.8 754.1h0.8M685.0 726.2h0.8M668.8 731.4h0.8M684.7 732.4h0.8M658.7 709.4h0.8M653.1 720.3h0.8M685.3 729.5h0.8M673.6 708.8h0.8M692.2 750.7h0.8M660.2 746.9h0.8M673.9 731.5h0.8M664.7 745.5h0.8M657.6 738.1h0.8M681.0 751.5h0.8M679.8 699.4h0.8M681.9 734.3h0.8M644.9 718.6h0.8M692.6 732.6h0.8M649.2 715.4h0.8M666.7 730.8h0.8M637.1 733.6h0.8M650.9 739.4h0.8M695.0 729.5h0.8M671.8 715.0h0.8M688.7 730.2h0.8M644.0 733.7h0.8M668.2 715.4h0.8M683.9 724.7h0.8M643.8 743.0h0.8M673.6 734.9h0.8M664.4 725.4h0.8M670.4 750.2h0.8M671.4 727.2h0.8M689.0 728.1h0.8M640.0 724.8h0.8M645.2 704.3h0.8M679.3 732.4h0.8M621.8 763.0h0.8M678.5 749.2h0.8M659.7 750.7h0.8M663.3 696.8h0.8M651.0 720.1h0.8M695.2 737.9h0.8M671.5 757.1h0.8M642.1 715.2h0.8M619.1 736.5h0.8M689.4 740.8h0.8M659.8 734.4h0.8M679.9 709.9h0.8M698.9 742.8h0.8M656.9 725.6h0.8M662.4 737.4h0.8M623.9 729.4h0.8M661.2 724.2h0.8M659.1 748.7h0.8M676.6 750.7h0.8M652.0 748.3h0.8M661.7 723.1h0.8M669.0 745.6h0.8M656.8 719.3h0.8M654.7 751.3h0.8M654.0 707.2h0.8M657.4 734.3h0.8M651.3 733.4h0.8M648.7 755.7h0.8M664.5 697.1h0.8M685.3 748.4h0.8M691.0 738.0h0.8M682.4 717.5h0.8M661.4 725.5h0.8M638.0 745.9h0.8M674.2 744.4h0.8M684.7 744.4h0.8M646.6 726.9h0.8M692.7 741.7h0.8M642.0 750.7h0.8M683.4 738.2h0.8M676.8 704.9h0.8M650.3 732.1h0.8M638.5 712.2h0.8M649.2 760.3h0.8M651.2 740.6h0.8M665.4 762.2h0.8M668.6 719.9h0.8M638.6 721.6h0.8M671.5 737.7h0.8M676.9 770.4h0.8M663.3 741.7h0.8M670.1 736.0h0.8M662.6 722.1h0.8M691.5 728.5h0.8M651.5 737.9h0.8M673.2 747.9h0.8M658.4 719.6h0.8M624.3 715.4h0.8M666.7 748.1h0.8M665.6 744.6h0.8M657.0 710.8h0.8M644.4 743.9h0.8M656.5 732.6h0.8M667.4 704.3h0.8M661.7 730.6h0.8M682.1 729.6h0.8M658.5 735.1h0.8M613.5 730.9h0.8M673.4 738.4h0.8M665.6 736.2h0.8M678.6 740.8h0.8M647.2 748.9h0.8M686.4 738.4h0.8M648.5 748.6h0.8M672.6 749.6h0.8M660.0 731.2h0.8M644.4 751.9h0.8M681.5 724.8h0.8M686.4 733.4h0.8M662.6 745.4h0.8M663.5 729.1h0.8M661.3 748.9h0.8M654.5 721.1h0.8M653.1 709.2h0.8M676.3 749.7h0.8M629.4 745.4h0.8M665.8 742.4h0.8M669.2 736.3h0.8M687.1 731.2h0.8M671.8 701.8h0.8M661.8 746.6h0.8M678.4 748.2h0.8M656.2 728.2h0.8M670.0 713.3h0.8M673.4 750.1h0.8M672.5 735.4h0.8M673.6 740.3h0.8M676.4 728.8h0.8M659.5 740.1h0.8M670.5 728.1h0.8M652.4 719.3h0.8M648.1 718.9h0.8M649.9 731.6h0.8M649.9 717.6h0.8M656.9 734.1h0.8M651.0 720.7h0.8M646.5 729.3h0.8M654.6 735.8h0.8M657.5 744.3h0.8M656.0 745.7h0.8M661.3 730.3h0.8M657.5 762.6h0.8M640.8 724.7h0.8M620.4 726.4h0.8M633.1 731.8h0.8M647.8 727.9h0.8M678.2 733.1h0.8M673.0 713.8h0.8M635.7 744.3h0.8M677.1 728.9h0.8M668.3 733.5h0.8M691.2 725.8h0.8M647.6 738.4h0.8M653.6 735.0h0.8M681.8 712.8h0.8M661.9 733.8h0.8M664.9 723.7h0.8M664.0 708.0h0.8M690.0 721.5h0.8M654.1 736.7h0.8M645.8 721.1h0.8M636.5 713.8h0.8M671.1 729.1h0.8M642.9 731.8h0.8M648.6 730.2h0.8M679.4 734.8h0.8M664.7 738.4h0.8M668.1 715.4h0.8M659.2 717.0h0.8M653.9 764.1h0.8M663.4 760.1h0.8M674.6 717.3h0.8M661.4 730.5h0.8M668.3 716.1h0.8M690.2 721.3h0.8M662.1 734.7h0.8M655.8 735.0h0.8M670.6 726.0h0.8M682.0 712.7h0.8M649.4 716.5h0.8M672.3 747.8h0.8M664.4 716.8h0.8M662.3 744.5h0.8M654.3 727.4h0.8M666.7 753.3h0.8M655.8 730.1h0.8M689.9 741.4h0.8M670.2 734.2h0.8M677.8 702.6h0.8M665.9 748.1h0.8M655.5 747.8h0.8M654.4 747.3h0.8M664.4 725.8h0.8M667.3 734.5h0.8M660.3 725.7h0.8M658.2 729.0h0.8M657.1 709.0h0.8M668.3 741.4h0.8M653.5 734.1h0.8M684.3 740.3h0.8M686.4 696.5h0.8M656.2 737.6h0.8M631.0 723.4h0.8M647.6 709.0h0.8M666.4 711.1h0.8M679.1 741.5h0.8M653.6 759.4h0.8M661.5 732.2h0.8M692.2 741.7h0.8M662.5 726.6h0.8M660.3 735.7h0.8M682.1 742.5h0.8M663.9 735.0h0.8M679.3 719.3h0.8M650.0 725.5h0.8M649.5 740.1h0.8M657.6 741.7h0.8M658.5 727.1h0.8M641.6 719.6h0.8M669.9 716.5h0.8M657.1 731.4h0.8M632.9 762.3h0.8M655.6 747.2h0.8M665.7 756.1h0.8M650.6 741.1h0.8M687.4 725.3h0.8M643.8 754.4h0.8M638.1 754.7h0.8M677.8 714.2h0.8M640.5 729.8h0.8M687.2 728.9h0.8M655.4 737.6h0.8M681.4 743.1h0.8M652.3 727.9h0.8M652.2 746.9h0.8M675.5 731.5h0.8M647.3 720.3h0.8M655.7 744.9h0.8M656.9 750.6h0.8M692.7 722.3h0.8M650.0 706.0h0.8M651.5 729.1h0.8M635.3 738.8h0.8M635.6 745.2h0.8M686.7 742.3h0.8M653.4 751.2h0.8M682.3 735.1h0.8M648.3 715.3h0.8M671.6 730.8h0.8M667.5 728.9h0.8M632.5 740.7h0.8M662.6 752.6h0.8M668.4 739.0h0.8M632.5 724.4h0.8M680.6 735.9h0.8M675.5 732.5h0.8M634.5 747.7h0.8M699.2 731.7h0.8M660.5 727.6h0.8M677.9 704.4h0.8M626.7 744.3h0.8M659.5 731.0h0.8M627.8 739.2h0.8M642.8 725.3h0.8M679.7 712.3h0.8M643.2 756.4h0.8M664.0 751.3h0.8M670.4 736.4h0.8M678.4 745.7h0.8M636.3 732.5h0.8M679.4 726.1h0.8M661.5 715.4h0.8M671.9 726.3h0.8M676.6 739.1h0.8M649.0 737.7h0.8M638.1 720.6h0.8M679.2 736.5h0.8M692.6 733.7h0.8M665.0 749.9h0.8M658.5 720.2h0.8M665.5 753.0h0.8M669.8 725.6h0.8M655.1 723.9h0.8M634.3 724.8h0.8M646.8 736.8h0.8M654.9 757.9h0.8M627.8 736.1h0.8M644.3 734.6h0.8M674.8 731.8h0.8M633.4 735.0h0.8M668.2 738.6h0.8M668.1 716.6h0.8M671.5 746.7h0.8M672.4 713.3h0.8M655.2 729.9h0.8M646.9 728.7h0.8M678.7 717.3h0.8M646.6 729.3h0.8M663.9 731.5h0.8M676.3 740.2h0.8M696.1 732.5h0.8M624.5 721.8h0.8M665.8 724.7h0.8M656.5 724.3h0.8M655.7 739.7h0.8M669.5 749.2h0.8M656.3 756.5h0.8M668.7 729.8h0.8M672.7 750.1h0.8M653.1 731.5h0.8M663.5 722.0h0.8M683.5 741.3h0.8M648.0 726.6h0.8M655.8 735.4h0.8M648.2 702.9h0.8M674.3 721.1h0.8M662.2 731.5h0.8M697.4 741.8h0.8M674.4 745.8h0.8M668.7 730.8h0.8M642.8 738.1h0.8M672.2 718.9h0.8M672.8 759.9h0.8M645.9 750.9h0.8M641.5 748.2h0.8M680.3 713.9h0.8M631.5 735.8h0.8M662.9 702.6h0.8M665.4 731.3h0.8M667.9 757.6h0.8M674.3 730.9h0.8M652.8 721.3h0.8M674.9 742.7h0.8M659.9 724.6h0.8M660.9 740.3h0.8M665.5 752.6h0.8M653.6 737.9h0.8M653.0 747.3h0.8M613.8 716.7h0.8M670.8 739.7h0.8M652.1 731.3h0.8M640.6 707.7h0.8M668.3 736.4h0.8M647.5 742.1h0.8M681.6 740.7h0.8M657.8 701.1h0.8M685.0 709.6h0.8M649.4 752.2h0.8M630.6 744.2h0.8M688.6 740.3h0.8M638.0 745.3h0.8M677.0 705.8h0.8M679.9 751.1h0.8M651.3 728.2h0.8M659.7 730.0h0.8M669.2 740.6h0.8M667.3 732.2h0.8M680.2 742.5h0.8M665.3 714.4h0.8M638.1 736.4h0.8M670.4 736.4h0.8M630.9 754.0h0.8M641.1 723.4h0.8M662.8 761.8h0.8M675.7 715.3h0.8M693.1 731.2h0.8M644.3 729.2h0.8M625.1 735.4h0.8M680.6 738.8h0.8M639.1 736.9h0.8M660.7 743.1h0.8M660.0 740.7h0.8M647.6 733.4h0.8M659.2 718.8h0.8M667.0 745.0h0.8M648.1 756.2h0.8M656.0 741.0h0.8M643.2 736.6h0.8M679.9 740.9h0.8M623.7 737.2h0.8M694.2 760.1h0.8M680.3 736.5h0.8M636.3 745.6h0.8M649.7 730.8h0.8M658.0 738.6h0.8M683.7 711.3h0.8M651.9 723.3h0.8M663.2 736.0h0.8M635.6 744.8h0.8M661.6 709.4h0.8M646.4 713.9h0.8M676.8 722.4h0.8M674.8 741.8h0.8M686.0 732.6h0.8M682.1 749.8h0.8M685.5 728.9h0.8M677.7 678.9h0.8M678.8 635.1h0.8M664.7 715.5h0.8M678.1 657.1h0.8M675.6 697.3h0.8M685.6 684.7h0.8M662.9 681.0h0.8M691.7 656.0h0.8M681.2 658.3h0.8M666.9 696.8h0.8M678.0 683.9h0.8M662.6 695.4h0.8M683.5 661.9h0.8M655.7 689.8h0.8M699.0 634.3h0.8M687.7 664.3h0.8M653.8 684.2h0.8M693.4 642.9h0.8M687.5 685.0h0.8M690.8 641.7h0.8M664.3 685.4h0.8M670.3 655.4h0.8M675.5 680.2h0.8M681.8 663.2h0.8M694.2 647.1h0.8M685.4 665.3h0.8M671.4 667.9h0.8M691.0 650.8h0.8M647.0 703.3h0.8M662.9 691.1h0.8M684.7 668.1h0.8M671.8 688.3h0.8M671.3 717.5h0.8M677.3 661.0h0.8M654.4 700.8h0.8M674.0 657.3h0.8M698.4 630.2h0.8M687.5 655.4h0.8M688.1 669.8h0.8M670.4 689.3h0.8M669.9 685.0h0.8M663.7 718.4h0.8M676.8 654.9h0.8M662.4 699.7h0.8M691.8 643.2h0.8M686.9 671.4h0.8M691.6 639.2h0.8M683.4 708.1h0.8M673.3 639.6h0.8M675.2 696.4h0.8M666.5 707.1h0.8M661.7 695.7h0.8M679.8 714.8h0.8M681.0 667.0h0.8M676.1 661.3h0.8M672.0 684.8h0.8M665.4 699.8h0.8M671.1 673.0h0.8M682.4 687.9h0.8M641.3 685.3h0.8M661.4 702.0h0.8M682.6 648.6h0.8M686.6 664.0h0.8M693.0 668.0h0.8M669.2 673.0h0.8M666.7 687.8h0.8M696.6 650.0h0.8M687.2 677.8h0.8M665.8 721.2h0.8M656.3 707.1h0.8M670.3 694.8h0.8M663.4 711.6h0.8M681.8 693.0h0.8M674.3 700.8h0.8M655.2 708.0h0.8M663.0 707.9h0.8M678.7 697.2h0.8M677.6 708.4h0.8M694.3 658.1h0.8M683.2 638.3h0.8M672.7 720.8h0.8M654.6 707.6h0.8M651.3 744.8h0.8M668.1 667.7h0.8M693.4 643.1h0.8M664.0 695.2h0.8M665.0 697.3h0.8M672.7 677.2h0.8M645.1 724.8h0.8M688.9 675.8h0.8M674.5 694.2h0.8M666.0 695.8h0.8M695.6 645.1h0.8M688.0 637.2h0.8M673.0 703.0h0.8M689.4 653.4h0.8M678.4 654.6h0.8M688.3 642.4h0.8M688.9 663.3h0.8M696.1 654.3h0.8M664.3 695.0h0.8M666.7 696.3h0.8M669.7 687.2h0.8M667.5 680.7h0.8M665.0 684.6h0.8M685.2 655.5h0.8M662.3 713.1h0.8M677.6 691.1h0.8M691.8 656.4h0.8M684.0 679.3h0.8M661.1 677.1h0.8M684.0 668.9h0.8M692.6 659.3h0.8M685.6 683.3h0.8M687.2 647.3h0.8M666.3 704.1h0.8M671.0 701.1h0.8M672.9 703.8h0.8M699.4 661.2h0.8M671.0 650.2h0.8M656.1 716.5h0.8M661.3 691.6h0.8M678.1 704.9h0.8M650.2 667.3h0.8M693.2 653.2h0.8M695.8 649.1h0.8M664.5 721.5h0.8M678.2 652.6h0.8M684.2 659.6h0.8M665.5 684.8h0.8M686.2 674.9h0.8M656.0 683.7h0.8M674.8 670.9h0.8M657.6 732.1h0.8M680.6 674.3h0.8M687.2 648.5h0.8M668.8 707.4h0.8M650.8 703.0h0.8M684.9 643.4h0.8M690.6 637.7h0.8M682.3 687.7h0.8M663.6 700.4h0.8M666.8 699.7h0.8M659.4 712.9h0.8M693.7 660.2h0.8M660.3 702.8h0.8M683.2 688.4h0.8M664.3 689.7h0.8M678.7 654.9h0.8M665.8 709.9h0.8M688.2 652.7h0.8M687.8 661.5h0.8M664.2 712.2h0.8M685.9 680.3h0.8M686.6 631.5h0.8M685.5 663.9h0.8M675.9 657.3h0.8M672.0 709.1h0.8M680.0 670.5h0.8M672.6 686.3h0.8M675.2 714.3h0.8M661.4 705.5h0.8M676.5 680.1h0.8M670.4 661.9h0.8M679.3 692.1h0.8M679.2 696.7h0.8M686.5 652.4h0.8M674.9 696.4h0.8M662.8 698.0h0.8M670.5 708.7h0.8M672.8 685.9h0.8M678.6 705.5h0.8M681.0 682.4h0.8M669.7 652.7h0.8M670.0 706.6h0.8M687.6 643.5h0.8M675.2 644.8h0.8M666.8 682.0h0.8M675.9 662.1h0.8M675.1 675.6h0.8M684.4 698.7h0.8M686.5 671.3h0.8M667.0 645.7h0.8M679.9 699.3h0.8M671.9 709.7h0.8M667.7 683.6h0.8M675.1 679.0h0.8M678.2 656.2h0.8M696.1 652.3h0.8M668.5 671.6h0.8M680.0 669.9h0.8M690.0 651.6h0.8M669.2 680.4h0.8M665.1 715.7h0.8M661.9 664.8h0.8M687.0 680.1h0.8M685.6 642.1h0.8M682.1 681.4h0.8M681.5 677.6h0.8M675.7 668.2h0.8M676.1 692.1h0.8M678.4 646.6h0.8M665.9 712.0h0.8M674.1 668.6h0.8M664.9 674.3h0.8M697.7 632.9h0.8M682.9 668.2h0.8M677.5 635.2h0.8M683.3 669.6h0.8M692.4 656.1h0.8M681.1 678.4h0.8M698.5 647.1h0.8M693.6 656.3h0.8M687.2 641.0h0.8M689.3 658.0h0.8M679.1 685.6h0.8M670.5 705.2h0.8M679.0 671.4h0.8M687.9 680.2h0.8M674.2 696.9h0.8M678.0 681.4h0.8M697.8 672.0h0.8M659.7 715.0h0.8M688.8 649.4h0.8M660.2 709.2h0.8M671.6 703.4h0.8M664.7 702.9h0.8M678.7 667.1h0.8M660.6 686.0h0.8M676.5 691.2h0.8M690.3 663.3h0.8M685.3 687.5h0.8M674.6 713.6h0.8M666.5 705.5h0.8M666.3 675.9h0.8M676.6 699.0h0.8M675.3 638.5h0.8M694.1 671.0h0.8M673.9 652.8h0.8M671.7 683.4h0.8M676.5 675.5h0.8M671.0 668.8h0.8M678.0 716.2h0.8M657.1 701.2h0.8M686.8 656.1h0.8M680.1 680.5h0.8M650.7 709.5h0.8M671.6 692.5h0.8M682.5 768.7h0.8M630.8 701.3h0.8M592.1 712.3h0.8M609.6 713.0h0.8M629.7 700.2h0.8M669.6 724.0h0.8M629.8 747.8h0.8M695.9 705.2h0.8M696.9 765.2h0.8M656.0 758.5h0.8M608.4 733.5h0.8M621.3 739.6h0.8M673.1 773.8h0.8M605.1 725.3h0.8M629.1 737.2h0.8M676.7 726.3h0.8M669.3 695.6h0.8M607.6 759.2h0.8M627.9 702.4h0.8M670.3 707.1h0.8M682.8 756.6h0.8M606.9 749.4h0.8M652.0 737.0h0.8M676.4 774.6h0.8M677.9 754.5h0.8M642.5 752.1h0.8M604.6 764.4h0.8M631.7 692.8h0.8M649.4 752.8h0.8M614.4 724.9h0.8M684.5 719.0h0.8M687.5 737.2h0.8M617.0 743.5h0.8M691.8 731.3h0.8M612.1 733.5h0.8M595.7 698.3h0.8M682.7 724.2h0.8M666.5 721.8h0.8M692.4 759.0h0.8M641.5 747.9h0.8M656.6 759.4h0.8M641.7 728.4h0.8M682.8 765.5h0.8M683.0 774.5h0.8M687.8 690.7h0.8M668.3 693.8h0.8M694.7 717.3h0.8M661.2 716.9h0.8M617.3 774.9h0.8M666.6 694.8h0.8M636.2 708.3h0.8M615.6 773.4h0.8M621.6 768.9h0.8M697.6 741.3h0.8M684.9 726.4h0.8M684.4 706.7h0.8M694.4 724.1h0.8M694.1 774.2h0.8M633.7 720.6h0.8M647.7 739.6h0.8M630.2 709.6h0.8M681.1 701.2h0.8M632.1 773.9h0.8M668.3 728.7h0.8M674.7 734.6h0.8M625.1 709.5h0.8M614.8 701.6h0.8M695.3 734.4h0.8M601.8 736.3h0.8M591.9 717.8h0.8M627.6 721.5h0.8M644.6 712.0h0.8M682.7 754.8h0.8M689.0 713.2h0.8M684.2 699.8h0.8M602.1 697.3h0.8M676.2 764.5h0.8M662.1 716.9h0.8M639.5 702.3h0.8M658.4 695.2h0.8M598.0 736.1h0.8M639.0 755.9h0.8M605.6 713.0h0.8M628.9 704.6h0.8M594.5 738.1h0.8M605.2 773.6h0.8M607.0 737.3h0.8M689.5 705.3h0.8M655.4 715.1h0.8M690.9 733.0h0.8M611.5 771.0h0.8M670.4 735.0h0.8M643.9 752.1h0.8M606.8 736.2h0.8M685.9 691.7h0.8M604.3 695.2h0.8M647.9 739.4h0.8M607.9 725.8h0.8M658.4 735.5h0.8M639.6 739.6h0.8M603.2 740.7h0.8M635.1 709.6h0.8M696.0 756.7h0.8M662.3 711.7h0.8M618.5 723.5h0.8M611.3 748.1h0.8M630.9 700.0h0.8M601.1 748.8h0.8M661.8 743.1h0.8M690.9 704.2h0.8M640.7 698.9h0.8M611.5 771.1h0.8M606.9 695.6h0.8M595.9 759.1h0.8M591.0 774.5h0.8M672.2 763.0h0.8M632.6 724.5h0.8M689.0 726.2h0.8M673.7 693.0h0.8M629.4 697.5h0.8M624.9 769.9h0.8M654.9 721.7h0.8M675.5 771.1h0.8M598.2 750.7h0.8M673.6 733.6h0.8M600.2 751.7h0.8M636.8 715.1h0.8M696.9 728.3h0.8M615.4 731.8h0.8M608.0 757.0h0.8M639.6 723.9h0.8M671.1 728.8h0.8M627.4 741.4h0.8M617.9 690.6h0.8M617.3 708.2h0.8M606.5 699.0h0.8M609.7 758.7h0.8M667.7 760.1h0.8M625.4 752.3h0.8M660.3 724.7h0.8M644.9 770.7h0.8M608.9 739.5h0.8M633.6 693.8h0.8M660.7 720.5h0.8M626.1 754.3h0.8M612.5 748.1h0.8M631.4 770.6h0.8M627.1 754.8h0.8M691.8 698.8h0.8M692.7 718.6h0.8" stroke="#8a8a8a" stroke-width="0.8" stroke-opacity="0.6" fill="none"/>
</g>
<g id="C">
<text x="2.6" y="336.1" font-size="13.9" font-weight="bold" textLength="9.8" lengthAdjust="spacingAndGlyphs">C</text>
<text x="132" y="350.2" font-size="13.6" textLength="37.6" lengthAdjust="spacingAndGlyphs">E12.5</text>
<text transform="translate(53.2 478.4) rotate(-90)" font-size="14" textLength="50.4" lengthAdjust="spacingAndGlyphs">Control</text>
<text transform="translate(52.9 719) rotate(-90)" font-size="14.8" textLength="34" lengthAdjust="spacingAndGlyphs">Cdan</text>
<text transform="translate(38.4 683.5) rotate(-90)" font-size="8.8" textLength="19.8" lengthAdjust="spacingAndGlyphs">ΔEry</text>
<defs><clipPath id="c1"><rect x="61" y="353.6" width="197.4" height="227.6"/></clipPath><clipPath id="c2"><rect x="61" y="581" width="197.4" height="228.6"/></clipPath><filter id="b05" x="-20%" y="-20%" width="140%" height="140%"><feGaussianBlur stdDeviation="0.7"/></filter><filter id="b1" x="-20%" y="-20%" width="140%" height="140%"><feGaussianBlur stdDeviation="1.1"/></filter><filter id="b2" x="-30%" y="-30%" width="160%" height="160%"><feGaussianBlur stdDeviation="2.2"/></filter><filter id="b4" x="-40%" y="-40%" width="180%" height="180%"><feGaussianBlur stdDeviation="4.5"/></filter><filter id="org" x="-10%" y="-10%" width="120%" height="120%"><feTurbulence type="fractalNoise" baseFrequency="0.03" numOctaves="1" seed="4" result="n"/><feDisplacementMap in="SourceGraphic" in2="n" scale="8" xChannelSelector="R" yChannelSelector="G"/><feGaussianBlur stdDeviation="0.9"/></filter><filter id="fuzz" x="-10%" y="-10%" width="120%" height="120%"><feTurbulence type="fractalNoise" baseFrequency="0.22" numOctaves="3" seed="9" result="n"/><feDisplacementMap in="SourceGraphic" in2="n" scale="9" xChannelSelector="R" yChannelSelector="G"/><feGaussianBlur stdDeviation="0.9"/></filter><filter id="fuzz2" x="-10%" y="-10%" width="120%" height="120%"><feTurbulence type="fractalNoise" baseFrequency="0.3" numOctaves="3" seed="3" result="n"/><feDisplacementMap in="SourceGraphic" in2="n" scale="14" xChannelSelector="R" yChannelSelector="G"/><feGaussianBlur stdDeviation="1.6"/></filter><filter id="b9" x="-50%" y="-50%" width="200%" height="200%"><feGaussianBlur stdDeviation="10"/></filter><linearGradient id="bg1" x1="0" y1="0" x2="1" y2="0.3"><stop offset="0" stop-color="#c6b593"/><stop offset="0.5" stop-color="#c9b896"/><stop offset="1" stop-color="#c9b997"/></linearGradient><linearGradient id="bg2" x1="0" y1="0" x2="1" y2="0"><stop offset="0" stop-color="#d3c49d"/><stop offset="0.5" stop-color="#dacca7"/><stop offset="1" stop-color="#d6c8a2"/></linearGradient></defs>
<g clip-path="url(#c1)">
<rect x="61" y="353.6" width="197.4" height="227.6" fill="url(#bg1)"/>
<ellipse cx="238" cy="380" rx="40" ry="36" fill="#cebd9b" opacity="0.7" filter="url(#b9)"/>
<ellipse cx="80" cy="470" rx="22" ry="60" fill="#cbba97" opacity="0.6" filter="url(#b9)"/>
<ellipse cx="240" cy="520" rx="20" ry="26" fill="#cfbf9d" opacity="0.7" filter="url(#b4)"/>
<ellipse cx="183" cy="360" rx="24" ry="7" fill="#a67c78" opacity="0.9" filter="url(#b2)"/>
<ellipse cx="196" cy="368" rx="10" ry="6" fill="#b08a80" opacity="0.7" filter="url(#b2)"/>
<g filter="url(#org)">
<ellipse cx="132.6" cy="385.6" rx="19.7" ry="24.8" fill="#dccaa8" opacity="0.75" transform="rotate(12 132.6 385.6)" filter="url(#b2)"/>
<ellipse cx="165.5" cy="391" rx="17.6" ry="24.3" fill="#dccaa8" opacity="0.75" transform="rotate(4 165.5 391)" filter="url(#b2)"/>
<ellipse cx="197" cy="403.4" rx="22.8" ry="23.5" fill="#dccaa8" opacity="0.75" transform="rotate(30 197 403.4)" filter="url(#b2)"/>
<ellipse cx="105.2" cy="425.3" rx="21.5" ry="25.2" fill="#dccaa8" opacity="0.75" transform="rotate(-22 105.2 425.3)" filter="url(#b2)"/>
<ellipse cx="145" cy="436.3" rx="20.1" ry="25.2" fill="#dccaa8" opacity="0.75" transform="rotate(10 145 436.3)" filter="url(#b2)"/>
<ellipse cx="175" cy="437.7" rx="17.8" ry="23.5" fill="#dccaa8" opacity="0.75" transform="rotate(0 175 437.7)" filter="url(#b2)"/>
<ellipse cx="214.8" cy="437.7" rx="25.2" ry="20.1" fill="#dccaa8" opacity="0.75" transform="rotate(-25 214.8 437.7)" filter="url(#b2)"/>
<ellipse cx="124.2" cy="467.3" rx="25.0" ry="19.3" fill="#dccaa8" opacity="0.75" transform="rotate(25 124.2 467.3)" filter="url(#b2)"/>
<ellipse cx="201.2" cy="472.4" rx="24.3" ry="17.6" fill="#dccaa8" opacity="0.75" transform="rotate(30 201.2 472.4)" filter="url(#b2)"/>
<ellipse cx="164.2" cy="474.1" rx="18.0" ry="19.1" fill="#dccaa8" opacity="0.75" transform="rotate(0 164.2 474.1)" filter="url(#b2)"/>
<ellipse cx="112.2" cy="498.1" rx="23.7" ry="18.7" fill="#dccaa8" opacity="0.75" transform="rotate(30 112.2 498.1)" filter="url(#b2)"/>
<ellipse cx="158.4" cy="511.8" rx="20.1" ry="26.2" fill="#dccaa8" opacity="0.75" transform="rotate(-30 158.4 511.8)" filter="url(#b2)"/>
<ellipse cx="192.7" cy="506.6" rx="20.3" ry="23.7" fill="#dccaa8" opacity="0.75" transform="rotate(-20 192.7 506.6)" filter="url(#b2)"/>
<ellipse cx="96.8" cy="528.9" rx="20.1" ry="20.8" fill="#dccaa8" opacity="0.75" transform="rotate(0 96.8 528.9)" filter="url(#b2)"/>
<ellipse cx="136.2" cy="539.2" rx="19.1" ry="23.7" fill="#dccaa8" opacity="0.75" transform="rotate(-10 136.2 539.2)" filter="url(#b2)"/>
<ellipse cx="175.5" cy="558" rx="20.8" ry="21.5" fill="#dccaa8" opacity="0.75" transform="rotate(20 175.5 558)" filter="url(#b2)"/>
<ellipse cx="110.5" cy="566.6" rx="20.8" ry="19.1" fill="#dccaa8" opacity="0.75" transform="rotate(0 110.5 566.6)" filter="url(#b2)"/>
<ellipse cx="141.3" cy="575.1" rx="17.3" ry="17.3" fill="#dccaa8" opacity="0.75" transform="rotate(0 141.3 575.1)" filter="url(#b2)"/>
<ellipse cx="132.6" cy="385.6" rx="16.5" ry="21.6" fill="#b08b73" transform="rotate(12 132.6 385.6)"/>
<ellipse cx="165.5" cy="391" rx="14.4" ry="21.1" fill="#b08b73" transform="rotate(4 165.5 391)"/>
<ellipse cx="197" cy="403.4" rx="19.6" ry="20.3" fill="#b08b73" transform="rotate(30 197 403.4)"/>
<ellipse cx="105.2" cy="425.3" rx="18.3" ry="22.0" fill="#b08b73" transform="rotate(-22 105.2 425.3)"/>
<ellipse cx="145" cy="436.3" rx="16.9" ry="22.0" fill="#b08b73" transform="rotate(10 145 436.3)"/>
<ellipse cx="175" cy="437.7" rx="14.6" ry="20.3" fill="#b08b73" transform="rotate(0 175 437.7)"/>
<ellipse cx="214.8" cy="437.7" rx="22.0" ry="16.9" fill="#b08b73" transform="rotate(-25 214.8 437.7)"/>
<ellipse cx="124.2" cy="467.3" rx="21.8" ry="16.1" fill="#b08b73" transform="rotate(25 124.2 467.3)"/>
<ellipse cx="201.2" cy="472.4" rx="21.1" ry="14.4" fill="#b08b73" transform="rotate(30 201.2 472.4)"/>
<ellipse cx="164.2" cy="474.1" rx="14.8" ry="15.9" fill="#b08b73" transform="rotate(0 164.2 474.1)"/>
<ellipse cx="112.2" cy="498.1" rx="20.5" ry="15.5" fill="#b08b73" transform="rotate(30 112.2 498.1)"/>
<ellipse cx="158.4" cy="511.8" rx="16.9" ry="23.0" fill="#b08b73" transform="rotate(-30 158.4 511.8)"/>
<ellipse cx="192.7" cy="506.6" rx="17.1" ry="20.5" fill="#b08b73" transform="rotate(-20 192.7 506.6)"/>
<ellipse cx="96.8" cy="528.9" rx="16.9" ry="17.6" fill="#b08b73" transform="rotate(0 96.8 528.9)"/>
<ellipse cx="136.2" cy="539.2" rx="15.9" ry="20.5" fill="#b08b73" transform="rotate(-10 136.2 539.2)"/>
<ellipse cx="175.5" cy="558" rx="17.6" ry="18.3" fill="#b08b73" transform="rotate(20 175.5 558)"/>
<ellipse cx="110.5" cy="566.6" rx="17.6" ry="15.9" fill="#b08b73" transform="rotate(0 110.5 566.6)"/>
<ellipse cx="141.3" cy="575.1" rx="14.1" ry="14.1" fill="#b08b73" transform="rotate(0 141.3 575.1)"/>
<ellipse cx="132.6" cy="385.6" rx="13.8" ry="18.2" fill="#96746b" transform="rotate(12 132.6 385.6)" filter="url(#b2)"/>
<ellipse cx="165.5" cy="391" rx="12.1" ry="17.7" fill="#98756b" transform="rotate(4 165.5 391)" filter="url(#b2)"/>
<ellipse cx="197" cy="403.4" rx="16.4" ry="17.0" fill="#937067" transform="rotate(30 197 403.4)" filter="url(#b2)"/>
<ellipse cx="105.2" cy="425.3" rx="15.4" ry="18.5" fill="#99776d" transform="rotate(-22 105.2 425.3)" filter="url(#b2)"/>
<ellipse cx="145" cy="436.3" rx="14.2" ry="18.5" fill="#957369" transform="rotate(10 145 436.3)" filter="url(#b2)"/>
<ellipse cx="175" cy="437.7" rx="12.3" ry="17.0" fill="#926f66" transform="rotate(0 175 437.7)" filter="url(#b2)"/>
<ellipse cx="214.8" cy="437.7" rx="18.5" ry="14.2" fill="#9a776c" transform="rotate(-25 214.8 437.7)" filter="url(#b2)"/>
<ellipse cx="124.2" cy="467.3" rx="18.3" ry="13.5" fill="#967369" transform="rotate(25 124.2 467.3)" filter="url(#b2)"/>
<ellipse cx="201.2" cy="472.4" rx="17.7" ry="12.1" fill="#97756a" transform="rotate(30 201.2 472.4)" filter="url(#b2)"/>
<ellipse cx="164.2" cy="474.1" rx="12.5" ry="13.3" fill="#846666" transform="rotate(0 164.2 474.1)" filter="url(#b2)"/>
<ellipse cx="112.2" cy="498.1" rx="17.2" ry="13.0" fill="#947268" transform="rotate(30 112.2 498.1)" filter="url(#b2)"/>
<ellipse cx="158.4" cy="511.8" rx="14.2" ry="19.3" fill="#967469" transform="rotate(-30 158.4 511.8)" filter="url(#b2)"/>
<ellipse cx="192.7" cy="506.6" rx="14.4" ry="17.2" fill="#926f66" transform="rotate(-20 192.7 506.6)" filter="url(#b2)"/>
<ellipse cx="96.8" cy="528.9" rx="14.2" ry="14.8" fill="#98766b" transform="rotate(0 96.8 528.9)" filter="url(#b2)"/>
<ellipse cx="136.2" cy="539.2" rx="13.3" ry="17.2" fill="#8e6d69" transform="rotate(-10 136.2 539.2)" filter="url(#b2)"/>
<ellipse cx="175.5" cy="558" rx="14.8" ry="15.4" fill="#916e65" transform="rotate(20 175.5 558)" filter="url(#b2)"/>
<ellipse cx="110.5" cy="566.6" rx="14.8" ry="13.3" fill="#947268" transform="rotate(0 110.5 566.6)" filter="url(#b2)"/>
<ellipse cx="141.3" cy="575.1" rx="11.9" ry="11.9" fill="#916e65" transform="rotate(0 141.3 575.1)" filter="url(#b2)"/>
</g>
<path d="M161 377Q170 372 177 381Q181 390 178 402" stroke="#a9507e" stroke-width="1.3" fill="none" opacity="0.8" filter="url(#b05)"/>
<path d="M184 388Q196 381 206 388" stroke="#b0688a" stroke-width="1.1" fill="none" opacity="0.7" filter="url(#b05)"/>
<circle cx="136.7" cy="398" r="7.5" fill="#5a4280" opacity="0.55" filter="url(#b1)"/>
<circle cx="136.7" cy="398" r="6.5" fill="#3c2669" filter="url(#b05)"/>
<circle cx="137.29999999999998" cy="398.5" r="3.4" fill="#301c58" opacity="0.6" filter="url(#b1)"/>
<circle cx="162.7" cy="397.1" r="7.8" fill="#5a4280" opacity="0.55" filter="url(#b1)"/>
<circle cx="162.7" cy="397.1" r="6.8" fill="#3c2669" filter="url(#b05)"/>
<circle cx="163.29999999999998" cy="397.6" r="3.5" fill="#301c58" opacity="0.6" filter="url(#b1)"/>
<circle cx="182.7" cy="415.2" r="8.0" fill="#5a4280" opacity="0.55" filter="url(#b1)"/>
<circle cx="182.7" cy="415.2" r="7.0" fill="#3c2669" filter="url(#b05)"/>
<circle cx="183.29999999999998" cy="415.7" r="3.6" fill="#301c58" opacity="0.6" filter="url(#b1)"/>
<circle cx="106.6" cy="432.2" r="8.0" fill="#5a4280" opacity="0.55" filter="url(#b1)"/>
<circle cx="106.6" cy="432.2" r="7.0" fill="#3c2669" filter="url(#b05)"/>
<circle cx="107.19999999999999" cy="432.7" r="3.6" fill="#301c58" opacity="0.6" filter="url(#b1)"/>
<circle cx="147.1" cy="442.6" r="8.3" fill="#5a4280" opacity="0.55" filter="url(#b1)"/>
<circle cx="147.1" cy="442.6" r="7.3" fill="#3c2669" filter="url(#b05)"/>
<circle cx="147.7" cy="443.1" r="3.8" fill="#301c58" opacity="0.6" filter="url(#b1)"/>
<circle cx="175" cy="433.6" r="8.0" fill="#5a4280" opacity="0.55" filter="url(#b1)"/>
<circle cx="175" cy="433.6" r="7.0" fill="#3c2669" filter="url(#b05)"/>
<circle cx="175.6" cy="434.1" r="3.6" fill="#301c58" opacity="0.6" filter="url(#b1)"/>
<circle cx="199.7" cy="439.9" r="8.5" fill="#5a4280" opacity="0.55" filter="url(#b1)"/>
<circle cx="199.7" cy="439.9" r="7.5" fill="#3c2669" filter="url(#b05)"/>
<circle cx="200.29999999999998" cy="440.4" r="3.9" fill="#301c58" opacity="0.6" filter="url(#b1)"/>
<circle cx="135.5" cy="478.2" r="7.3" fill="#5a4280" opacity="0.55" filter="url(#b1)"/>
<circle cx="135.5" cy="478.2" r="6.3" fill="#3c2669" filter="url(#b05)"/>
<circle cx="136.1" cy="478.7" r="3.2" fill="#301c58" opacity="0.6" filter="url(#b1)"/>
<circle cx="187.5" cy="467.9" r="7.7" fill="#5a4280" opacity="0.55" filter="url(#b1)"/>
<circle cx="187.5" cy="467.9" r="6.7" fill="#3c2669" filter="url(#b05)"/>
<circle cx="188.1" cy="468.4" r="3.5" fill="#301c58" opacity="0.6" filter="url(#b1)"/>
<circle cx="165.3" cy="472.4" r="8.3" fill="#5a4280" opacity="0.55" filter="url(#b1)"/>
<circle cx="165.3" cy="472.4" r="7.3" fill="#3c2669" filter="url(#b05)"/>
<circle cx="165.9" cy="472.9" r="3.8" fill="#301c58" opacity="0.6" filter="url(#b1)"/>
<circle cx="123.2" cy="508.4" r="7.7" fill="#5a4280" opacity="0.55" filter="url(#b1)"/>
<circle cx="123.2" cy="508.4" r="6.7" fill="#3c2669" filter="url(#b05)"/>
<circle cx="123.8" cy="508.9" r="3.5" fill="#301c58" opacity="0.6" filter="url(#b1)"/>
<circle cx="148.8" cy="508.4" r="7.7" fill="#5a4280" opacity="0.55" filter="url(#b1)"/>
<circle cx="148.8" cy="508.4" r="6.7" fill="#3c2669" filter="url(#b05)"/>
<circle cx="149.4" cy="508.9" r="3.5" fill="#301c58" opacity="0.6" filter="url(#b1)"/>
<circle cx="189.9" cy="497" r="8.0" fill="#5a4280" opacity="0.55" filter="url(#b1)"/>
<circle cx="189.9" cy="497" r="7.0" fill="#3c2669" filter="url(#b05)"/>
<circle cx="190.5" cy="497.5" r="3.6" fill="#301c58" opacity="0.6" filter="url(#b1)"/>
<circle cx="111.5" cy="526.5" r="7.7" fill="#5a4280" opacity="0.55" filter="url(#b1)"/>
<circle cx="111.5" cy="526.5" r="6.7" fill="#3c2669" filter="url(#b05)"/>
<circle cx="112.1" cy="527.0" r="3.5" fill="#301c58" opacity="0.6" filter="url(#b1)"/>
<circle cx="132.1" cy="529.6" r="8.8" fill="#5a4280" opacity="0.55" filter="url(#b1)"/>
<circle cx="132.1" cy="529.6" r="7.8" fill="#3c2669" filter="url(#b05)"/>
<circle cx="132.7" cy="530.1" r="4.0" fill="#301c58" opacity="0.6" filter="url(#b1)"/>
<circle cx="171.1" cy="554.6" r="8.3" fill="#5a4280" opacity="0.55" filter="url(#b1)"/>
<circle cx="171.1" cy="554.6" r="7.3" fill="#3c2669" filter="url(#b05)"/>
<circle cx="171.7" cy="555.1" r="3.8" fill="#301c58" opacity="0.6" filter="url(#b1)"/>
<circle cx="114.6" cy="559.7" r="7.7" fill="#5a4280" opacity="0.55" filter="url(#b1)"/>
<circle cx="114.6" cy="559.7" r="6.7" fill="#3c2669" filter="url(#b05)"/>
<circle cx="115.19999999999999" cy="560.2" r="3.5" fill="#301c58" opacity="0.6" filter="url(#b1)"/>
<circle cx="137.9" cy="571.7" r="7.7" fill="#5a4280" opacity="0.55" filter="url(#b1)"/>
<circle cx="137.9" cy="571.7" r="6.7" fill="#3c2669" filter="url(#b05)"/>
<circle cx="138.5" cy="572.2" r="3.5" fill="#301c58" opacity="0.6" filter="url(#b1)"/>
</g>
<g clip-path="url(#c2)">
<rect x="61" y="581" width="197.4" height="228.6" fill="url(#bg2)"/>
<ellipse cx="160" cy="600" rx="110" ry="18" fill="#d3c49d" opacity="0.5" filter="url(#b9)"/>
<ellipse cx="160" cy="800" rx="110" ry="14" fill="#d2c39c" opacity="0.5" filter="url(#b9)"/>
<g filter="url(#fuzz2)">
<ellipse cx="89.9" cy="688.2" rx="18" ry="20.7" fill="#b07a62" opacity="0.55"/>
<ellipse cx="109.5" cy="672.7" rx="17.3" ry="22.4" fill="#b07a62" opacity="0.55"/>
<ellipse cx="101.9" cy="722.5" rx="15.6" ry="25.5" fill="#b07a62" opacity="0.55"/>
<ellipse cx="116.3" cy="713.5" rx="15.6" ry="25.5" fill="#b07a62" opacity="0.55"/>
<ellipse cx="129.3" cy="693.3" rx="17.3" ry="20.7" fill="#b07a62" opacity="0.55"/>
<ellipse cx="143" cy="658.4" rx="15.6" ry="23.4" fill="#b07a62" opacity="0.55"/>
<ellipse cx="156.7" cy="672.7" rx="15.6" ry="20.7" fill="#b07a62" opacity="0.55"/>
<ellipse cx="179.7" cy="647.1" rx="15.6" ry="27.5" fill="#b07a62" opacity="0.55"/>
<ellipse cx="199.5" cy="636.8" rx="17.3" ry="21.4" fill="#b07a62" opacity="0.55"/>
<ellipse cx="208.1" cy="660.8" rx="17.3" ry="21.4" fill="#b07a62" opacity="0.55"/>
<ellipse cx="227.9" cy="674.5" rx="16.6" ry="23.4" fill="#b07a62" opacity="0.55"/>
<ellipse cx="180.7" cy="712.1" rx="21.4" ry="24.1" fill="#b07a62" opacity="0.55"/>
<ellipse cx="208.1" cy="705.3" rx="19" ry="21.4" fill="#b07a62" opacity="0.55"/>
<ellipse cx="232.1" cy="713.8" rx="14.5" ry="17.3" fill="#b07a62" opacity="0.55"/>
<ellipse cx="184.1" cy="756.6" rx="16.6" ry="25.8" fill="#b07a62" opacity="0.55"/>
<ellipse cx="160" cy="636" rx="20" ry="14" fill="#b8917a" opacity="0.5"/>
<ellipse cx="172" cy="786" rx="9" ry="18" fill="#b48b74" opacity="0.5"/>
<ellipse cx="243" cy="682" rx="7" ry="26" fill="#b8917a" opacity="0.5"/>
<ellipse cx="195" cy="690" rx="22" ry="10" fill="#a3705f" opacity="0.65"/>
<ellipse cx="108" cy="745" rx="8" ry="12" fill="#b8917a" opacity="0.5"/>
</g>
<ellipse cx="101.9" cy="652.4" rx="9.6" ry="7.2" fill="#c69d6c" transform="rotate(-25 101.9 652.4)" filter="url(#b05)"/>
<ellipse cx="102.5" cy="652" rx="5.5" ry="3.6" fill="#d2b383" transform="rotate(-25 102.5 652)" filter="url(#b1)"/>
<ellipse cx="205" cy="737" rx="8" ry="14" fill="#ad9f90" opacity="0.9" filter="url(#b1)"/>
<ellipse cx="206" cy="740" rx="4.6" ry="8" fill="#c9bca6" opacity="0.85" filter="url(#b1)"/>
<g filter="url(#fuzz)">
<ellipse cx="89.9" cy="688.2" rx="12.4" ry="15.299999999999999" fill="#8a4f6c" opacity="0.62" transform="rotate(0 89.9 688.2)"/>
<ellipse cx="109.5" cy="672.7" rx="11.700000000000001" ry="17.0" fill="#8a4f6c" opacity="0.62" transform="rotate(8 109.5 672.7)"/>
<ellipse cx="101.9" cy="722.5" rx="10.0" ry="20.1" fill="#8a4f6c" opacity="0.62" transform="rotate(0 101.9 722.5)"/>
<ellipse cx="116.3" cy="713.5" rx="10.0" ry="20.1" fill="#8a4f6c" opacity="0.62" transform="rotate(6 116.3 713.5)"/>
<ellipse cx="129.3" cy="693.3" rx="11.700000000000001" ry="15.299999999999999" fill="#8a4f6c" opacity="0.62" transform="rotate(30 129.3 693.3)"/>
<ellipse cx="143" cy="658.4" rx="10.0" ry="18.0" fill="#8a4f6c" opacity="0.62" transform="rotate(0 143 658.4)"/>
<ellipse cx="156.7" cy="672.7" rx="10.0" ry="15.299999999999999" fill="#8a4f6c" opacity="0.62" transform="rotate(0 156.7 672.7)"/>
<ellipse cx="179.7" cy="647.1" rx="10.0" ry="22.1" fill="#8a4f6c" opacity="0.62" transform="rotate(-12 179.7 647.1)"/>
<ellipse cx="199.5" cy="636.8" rx="11.700000000000001" ry="16.0" fill="#8a4f6c" opacity="0.62" transform="rotate(0 199.5 636.8)"/>
<ellipse cx="208.1" cy="660.8" rx="11.700000000000001" ry="16.0" fill="#8a4f6c" opacity="0.62" transform="rotate(0 208.1 660.8)"/>
<ellipse cx="227.9" cy="674.5" rx="11.0" ry="18.0" fill="#8a4f6c" opacity="0.62" transform="rotate(0 227.9 674.5)"/>
<ellipse cx="180.7" cy="712.1" rx="15.8" ry="18.700000000000003" fill="#8a4f6c" opacity="0.62" transform="rotate(0 180.7 712.1)"/>
<ellipse cx="208.1" cy="705.3" rx="13.4" ry="16.0" fill="#8a4f6c" opacity="0.62" transform="rotate(0 208.1 705.3)"/>
<ellipse cx="232.1" cy="713.8" rx="8.9" ry="11.9" fill="#8a4f6c" opacity="0.62" transform="rotate(0 232.1 713.8)"/>
<ellipse cx="184.1" cy="756.6" rx="11.0" ry="20.400000000000002" fill="#8a4f6c" opacity="0.62" transform="rotate(0 184.1 756.6)"/>
<ellipse cx="89.9" cy="688.2" rx="9.9" ry="12.9" fill="#5e2c57" opacity="0.92" transform="rotate(0 89.9 688.2)"/>
<ellipse cx="109.5" cy="672.7" rx="9.2" ry="14.6" fill="#5e2c57" opacity="0.92" transform="rotate(8 109.5 672.7)"/>
<ellipse cx="101.9" cy="722.5" rx="7.5" ry="17.7" fill="#5e2c57" opacity="0.92" transform="rotate(0 101.9 722.5)"/>
<ellipse cx="116.3" cy="713.5" rx="7.5" ry="17.7" fill="#5e2c57" opacity="0.92" transform="rotate(6 116.3 713.5)"/>
<ellipse cx="129.3" cy="693.3" rx="9.2" ry="12.9" fill="#5e2c57" opacity="0.92" transform="rotate(30 129.3 693.3)"/>
<ellipse cx="143" cy="658.4" rx="7.5" ry="15.6" fill="#5e2c57" opacity="0.92" transform="rotate(0 143 658.4)"/>
<ellipse cx="156.7" cy="672.7" rx="7.5" ry="12.9" fill="#5e2c57" opacity="0.92" transform="rotate(0 156.7 672.7)"/>
<ellipse cx="179.7" cy="647.1" rx="7.5" ry="19.7" fill="#5e2c57" opacity="0.92" transform="rotate(-12 179.7 647.1)"/>
<ellipse cx="199.5" cy="636.8" rx="9.2" ry="13.6" fill="#48203f" opacity="0.92" transform="rotate(0 199.5 636.8)"/>
<ellipse cx="208.1" cy="660.8" rx="9.2" ry="13.6" fill="#48203f" opacity="0.92" transform="rotate(0 208.1 660.8)"/>
<ellipse cx="227.9" cy="674.5" rx="8.5" ry="15.6" fill="#5e2c57" opacity="0.92" transform="rotate(0 227.9 674.5)"/>
<ellipse cx="180.7" cy="712.1" rx="13.3" ry="16.3" fill="#48203f" opacity="0.92" transform="rotate(0 180.7 712.1)"/>
<ellipse cx="208.1" cy="705.3" rx="10.9" ry="13.6" fill="#48203f" opacity="0.92" transform="rotate(0 208.1 705.3)"/>
<ellipse cx="232.1" cy="713.8" rx="6.4" ry="9.5" fill="#5e2c57" opacity="0.92" transform="rotate(0 232.1 713.8)"/>
<ellipse cx="184.1" cy="756.6" rx="8.5" ry="18.0" fill="#5e2c57" opacity="0.92" transform="rotate(0 184.1 756.6)"/>
</g>
<ellipse cx="90.3" cy="689.2" rx="6.1" ry="7.5" fill="#3c1936" opacity="0.6" transform="rotate(0 89.9 688.2)" filter="url(#b2)"/>
<ellipse cx="110.4" cy="674.5" rx="5.7" ry="8.5" fill="#3c1936" opacity="0.6" transform="rotate(8 109.5 672.7)" filter="url(#b2)"/>
<ellipse cx="102.6" cy="724.2" rx="4.7" ry="10.2" fill="#3c1936" opacity="0.6" transform="rotate(0 101.9 722.5)" filter="url(#b2)"/>
<ellipse cx="114.9" cy="713.4" rx="4.7" ry="10.2" fill="#3c1936" opacity="0.6" transform="rotate(6 116.3 713.5)" filter="url(#b2)"/>
<ellipse cx="130.6" cy="693.9" rx="5.7" ry="7.5" fill="#3c1936" opacity="0.6" transform="rotate(30 129.3 693.3)" filter="url(#b2)"/>
<ellipse cx="144.2" cy="656.9" rx="4.7" ry="9.0" fill="#3c1936" opacity="0.6" transform="rotate(0 143 658.4)" filter="url(#b2)"/>
<ellipse cx="156.6" cy="671.7" rx="4.7" ry="7.5" fill="#3c1936" opacity="0.6" transform="rotate(0 156.7 672.7)" filter="url(#b2)"/>
<ellipse cx="179.8" cy="647.4" rx="4.7" ry="11.3" fill="#3c1936" opacity="0.6" transform="rotate(-12 179.7 647.1)" filter="url(#b2)"/>
<ellipse cx="198.0" cy="635.7" rx="5.7" ry="7.9" fill="#3c1936" opacity="0.6" transform="rotate(0 199.5 636.8)" filter="url(#b2)"/>
<ellipse cx="207.4" cy="662.5" rx="5.7" ry="7.9" fill="#3c1936" opacity="0.6" transform="rotate(0 208.1 660.8)" filter="url(#b2)"/>
<ellipse cx="228.7" cy="673.1" rx="5.3" ry="9.0" fill="#3c1936" opacity="0.6" transform="rotate(0 227.9 674.5)" filter="url(#b2)"/>
<ellipse cx="181.6" cy="710.7" rx="7.9" ry="9.4" fill="#3c1936" opacity="0.6" transform="rotate(0 180.7 712.1)" filter="url(#b2)"/>
<ellipse cx="208.5" cy="703.8" rx="6.6" ry="7.9" fill="#3c1936" opacity="0.6" transform="rotate(0 208.1 705.3)" filter="url(#b2)"/>
<ellipse cx="230.6" cy="715.3" rx="4.1" ry="5.7" fill="#3c1936" opacity="0.6" transform="rotate(0 232.1 713.8)" filter="url(#b2)"/>
<ellipse cx="183.2" cy="755.5" rx="5.3" ry="10.3" fill="#3c1936" opacity="0.6" transform="rotate(0 184.1 756.6)" filter="url(#b2)"/>
<circle cx="208" cy="724.5" r="1.6" fill="#f4ecd8" filter="url(#b05)"/>
</g>
<rect x="61" y="353.6" width="197.4" height="456.4" fill="none" stroke="#1a1a1a" stroke-width="1.1"/>
<path d="M60.4 581.2H259" stroke="#000" stroke-width="2.2"/>
</g>
</svg></body></html>
